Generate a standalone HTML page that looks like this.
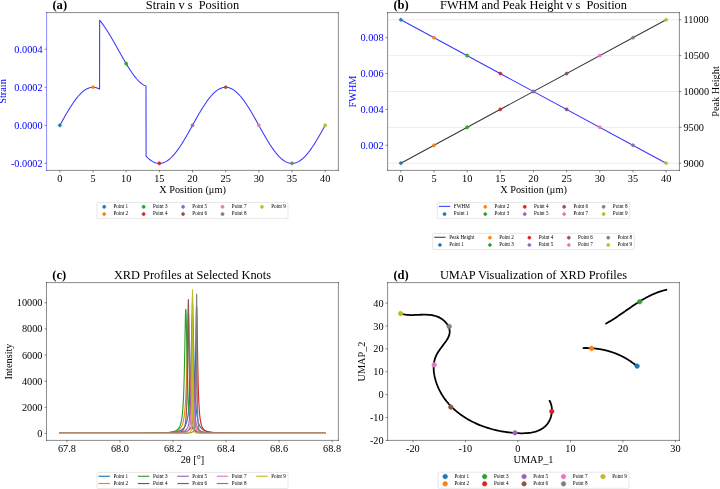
<!DOCTYPE html>
<html><head><meta charset="utf-8"><title>Figure</title>
<style>html,body{margin:0;padding:0;background:#fff;}svg{display:block;}svg text{white-space:pre;}</style>
</head><body>
<svg width="720" height="489" viewBox="0 0 1258.741259 854.895105" version="1.1">
<defs>
<style type="text/css">*{stroke-linejoin: round; stroke-linecap: butt}</style>
</defs>
<g id="figure_1">
<g id="patch_1">
<path d="M 0 854.9 L 1258.74 854.9 L 1258.74 0 L 0 0 z" style="fill: #ffffff"/>
</g>
<g id="axes_1">
<g id="patch_2">
<path d="M 81.47 297.9 L 591.61 297.9 L 591.61 22.03 L 81.47 22.03 z" style="fill: #ffffff"/>
</g>
<g id="matplotlib.axis_1">
<g id="xtick_1">
<g id="line2d_1">
<g>
<path d="M 0 0 L 0 3.5" transform="translate(104.66 297.9)" style="stroke: #000000; stroke-width: 0.8"/>
</g>
</g>
<g id="text_1">
<text style="font-size: 18px; font-family: 'Liberation Serif', serif; text-anchor: middle" x="104.656707" y="317.39241">0</text>
</g>
</g>
<g id="xtick_2">
<g id="line2d_2">
<g>
<path d="M 0 0 L 0 3.5" transform="translate(162.63 297.9)" style="stroke: #000000; stroke-width: 0.8"/>
</g>
</g>
<g id="text_2">
<text style="font-size: 18px; font-family: 'Liberation Serif', serif; text-anchor: middle" x="162.627146" y="317.39241">5</text>
</g>
</g>
<g id="xtick_3">
<g id="line2d_3">
<g>
<path d="M 0 0 L 0 3.5" transform="translate(220.6 297.9)" style="stroke: #000000; stroke-width: 0.8"/>
</g>
</g>
<g id="text_3">
<text style="font-size: 18px; font-family: 'Liberation Serif', serif; text-anchor: middle" x="220.597584" y="317.39241">10</text>
</g>
</g>
<g id="xtick_4">
<g id="line2d_4">
<g>
<path d="M 0 0 L 0 3.5" transform="translate(278.57 297.9)" style="stroke: #000000; stroke-width: 0.8"/>
</g>
</g>
<g id="text_4">
<text style="font-size: 18px; font-family: 'Liberation Serif', serif; text-anchor: middle" x="278.568023" y="317.39241">15</text>
</g>
</g>
<g id="xtick_5">
<g id="line2d_5">
<g>
<path d="M 0 0 L 0 3.5" transform="translate(336.54 297.9)" style="stroke: #000000; stroke-width: 0.8"/>
</g>
</g>
<g id="text_5">
<text style="font-size: 18px; font-family: 'Liberation Serif', serif; text-anchor: middle" x="336.538462" y="317.39241">20</text>
</g>
</g>
<g id="xtick_6">
<g id="line2d_6">
<g>
<path d="M 0 0 L 0 3.5" transform="translate(394.51 297.9)" style="stroke: #000000; stroke-width: 0.8"/>
</g>
</g>
<g id="text_6">
<text style="font-size: 18px; font-family: 'Liberation Serif', serif; text-anchor: middle" x="394.5089" y="317.39241">25</text>
</g>
</g>
<g id="xtick_7">
<g id="line2d_7">
<g>
<path d="M 0 0 L 0 3.5" transform="translate(452.48 297.9)" style="stroke: #000000; stroke-width: 0.8"/>
</g>
</g>
<g id="text_7">
<text style="font-size: 18px; font-family: 'Liberation Serif', serif; text-anchor: middle" x="452.479339" y="317.39241">30</text>
</g>
</g>
<g id="xtick_8">
<g id="line2d_8">
<g>
<path d="M 0 0 L 0 3.5" transform="translate(510.45 297.9)" style="stroke: #000000; stroke-width: 0.8"/>
</g>
</g>
<g id="text_8">
<text style="font-size: 18px; font-family: 'Liberation Serif', serif; text-anchor: middle" x="510.449777" y="317.39241">35</text>
</g>
</g>
<g id="xtick_9">
<g id="line2d_9">
<g>
<path d="M 0 0 L 0 3.5" transform="translate(568.42 297.9)" style="stroke: #000000; stroke-width: 0.8"/>
</g>
</g>
<g id="text_9">
<text style="font-size: 18px; font-family: 'Liberation Serif', serif; text-anchor: middle" x="568.420216" y="317.39241">40</text>
</g>
</g>
<g id="text_10">
<text style="font-size: 18px; font-family: 'Liberation Serif', serif; text-anchor: middle" x="336.538462" y="337.71616">X Position (μm)</text>
</g>
</g>
<g id="matplotlib.axis_2">
<g id="ytick_1">
<g id="line2d_10">
<g>
<path d="M 0 0 L -3.5 0" transform="translate(81.47 285.66)" style="stroke: #000000; stroke-width: 0.8"/>
</g>
</g>
<g id="text_11">
<text style="font-size: 18px; font-family: 'Liberation Serif', serif; text-anchor: end; fill: #0000ff" x="74.468531" y="291.902449">-0.0002</text>
</g>
</g>
<g id="ytick_2">
<g id="line2d_11">
<g>
<path d="M 0 0 L -3.5 0" transform="translate(81.47 219.11)" style="stroke: #000000; stroke-width: 0.8"/>
</g>
</g>
<g id="text_12">
<text style="font-size: 18px; font-family: 'Liberation Serif', serif; text-anchor: end; fill: #0000ff" x="74.468531" y="225.354596">0.0000</text>
</g>
</g>
<g id="ytick_3">
<g id="line2d_12">
<g>
<path d="M 0 0 L -3.5 0" transform="translate(81.47 152.56)" style="stroke: #000000; stroke-width: 0.8"/>
</g>
</g>
<g id="text_13">
<text style="font-size: 18px; font-family: 'Liberation Serif', serif; text-anchor: end; fill: #0000ff" x="74.468531" y="158.806743">0.0002</text>
</g>
</g>
<g id="ytick_4">
<g id="line2d_13">
<g>
<path d="M 0 0 L -3.5 0" transform="translate(81.47 86.01)" style="stroke: #000000; stroke-width: 0.8"/>
</g>
</g>
<g id="text_14">
<text style="font-size: 18px; font-family: 'Liberation Serif', serif; text-anchor: end; fill: #0000ff" x="74.468531" y="92.258889">0.0004</text>
</g>
</g>
<g id="text_15">
<text style="font-size: 18px; font-family: 'Liberation Serif', serif; text-anchor: middle; fill: #0000ff" x="11.141656" y="159.965035" transform="rotate(-90 11.141656 159.965035)">Strain</text>
</g>
</g>
<g id="line2d_14">
<path d="M 104.66 219.11 L 105.82 217.02 L 106.98 214.93 L 108.13 212.85 L 109.29 210.77 L 110.45 208.7 L 111.61 206.64 L 112.77 204.59 L 113.93 202.56 L 115.09 200.54 L 116.25 198.55 L 117.41 196.57 L 118.57 194.61 L 119.73 192.68 L 120.89 190.77 L 122.05 188.9 L 123.21 187.05 L 124.37 185.23 L 125.53 183.45 L 126.69 181.7 L 127.84 179.99 L 129 178.32 L 130.16 176.69 L 131.32 175.1 L 132.48 173.55 L 133.64 172.05 L 134.8 170.6 L 135.96 169.19 L 137.12 167.83 L 138.28 166.53 L 139.44 165.27 L 140.6 164.07 L 141.76 162.92 L 142.92 161.83 L 144.08 160.79 L 145.24 159.81 L 146.4 158.9 L 147.55 158.03 L 148.71 157.23 L 149.87 156.5 L 151.03 155.82 L 152.19 155.2 L 153.35 154.65 L 154.51 154.16 L 155.67 153.74 L 156.83 153.38 L 157.99 153.09 L 159.15 152.86 L 160.31 152.69 L 161.47 152.59 L 162.63 152.56 L 163.79 152.59 L 164.95 152.69 L 166.11 152.86 L 167.26 153.09 L 168.42 153.38 L 169.58 153.74 L 170.74 154.16 L 171.9 154.65 L 173.06 155.2 L 174.11 155.75 L 174.22 35.37 L 175.38 36.81 L 176.54 38.29 L 177.7 39.81 L 178.86 41.36 L 180.02 42.96 L 181.18 44.58 L 182.34 46.25 L 183.5 47.94 L 184.66 49.67 L 185.82 51.43 L 186.97 53.22 L 188.13 55.04 L 189.29 56.88 L 190.45 58.75 L 191.61 60.65 L 192.77 62.57 L 193.93 64.52 L 195.09 66.48 L 196.25 68.46 L 197.41 70.46 L 198.57 72.47 L 199.73 74.5 L 200.89 76.54 L 202.05 78.6 L 203.21 80.66 L 204.37 82.72 L 205.53 84.8 L 206.68 86.87 L 207.84 88.95 L 209 91.02 L 210.16 93.1 L 211.32 95.16 L 212.48 97.23 L 213.64 99.28 L 214.8 101.32 L 215.96 103.35 L 217.12 105.37 L 218.28 107.36 L 219.44 109.34 L 220.6 111.3 L 221.76 113.24 L 222.92 115.15 L 224.08 117.03 L 225.24 118.89 L 226.39 120.71 L 227.55 122.5 L 228.71 124.25 L 229.87 125.97 L 231.03 127.65 L 232.19 129.28 L 233.35 130.88 L 234.51 132.42 L 235.67 133.93 L 236.83 135.38 L 237.99 136.78 L 239.15 138.13 L 240.31 139.42 L 241.47 140.66 L 242.63 141.84 L 243.79 142.96 L 244.95 144.01 L 246.1 145.01 L 247.26 145.94 L 248.42 146.8 L 249.58 147.59 L 250.74 148.32 L 251.9 148.97 L 253.06 149.56 L 254.22 150.07 L 255.26 150.46 L 255.38 272.95 L 256.54 274.15 L 257.7 275.3 L 258.86 276.39 L 260.02 277.43 L 261.18 278.4 L 262.34 279.32 L 263.5 280.18 L 264.66 280.98 L 265.81 281.72 L 266.97 282.4 L 268.13 283.01 L 269.29 283.57 L 270.45 284.05 L 271.61 284.48 L 272.77 284.84 L 273.93 285.13 L 275.09 285.36 L 276.25 285.53 L 277.41 285.62 L 278.57 285.66 L 279.73 285.62 L 280.89 285.53 L 282.05 285.36 L 283.21 285.13 L 284.37 284.84 L 285.52 284.48 L 286.68 284.05 L 287.84 283.57 L 289 283.01 L 290.16 282.4 L 291.32 281.72 L 292.48 280.98 L 293.64 280.18 L 294.8 279.32 L 295.96 278.4 L 297.12 277.43 L 298.28 276.39 L 299.44 275.3 L 300.6 274.15 L 301.76 272.95 L 302.92 271.69 L 304.08 270.39 L 305.23 269.03 L 306.39 267.62 L 307.55 266.17 L 308.71 264.66 L 309.87 263.12 L 311.03 261.53 L 312.19 259.9 L 313.35 258.23 L 314.51 256.51 L 315.67 254.77 L 316.83 252.99 L 317.99 251.17 L 319.15 249.32 L 320.31 247.44 L 321.47 245.54 L 322.63 243.61 L 323.78 241.65 L 324.94 239.67 L 326.1 237.68 L 327.26 235.66 L 328.42 233.63 L 329.58 231.58 L 330.74 229.52 L 331.9 227.45 L 333.06 225.37 L 334.22 223.29 L 335.38 221.2 L 336.54 219.11 L 337.7 217.02 L 338.86 214.93 L 340.02 212.85 L 341.18 210.77 L 342.34 208.7 L 343.49 206.64 L 344.65 204.59 L 345.81 202.56 L 346.97 200.54 L 348.13 198.55 L 349.29 196.57 L 350.45 194.61 L 351.61 192.68 L 352.77 190.77 L 353.93 188.9 L 355.09 187.05 L 356.25 185.23 L 357.41 183.45 L 358.57 181.7 L 359.73 179.99 L 360.89 178.32 L 362.05 176.69 L 363.2 175.1 L 364.36 173.55 L 365.52 172.05 L 366.68 170.6 L 367.84 169.19 L 369 167.83 L 370.16 166.53 L 371.32 165.27 L 372.48 164.07 L 373.64 162.92 L 374.8 161.83 L 375.96 160.79 L 377.12 159.81 L 378.28 158.9 L 379.44 158.03 L 380.6 157.23 L 381.76 156.5 L 382.91 155.82 L 384.07 155.2 L 385.23 154.65 L 386.39 154.16 L 387.55 153.74 L 388.71 153.38 L 389.87 153.09 L 391.03 152.86 L 392.19 152.69 L 393.35 152.59 L 394.51 152.56 L 395.67 152.59 L 396.83 152.69 L 397.99 152.86 L 399.15 153.09 L 400.31 153.38 L 401.47 153.74 L 402.62 154.16 L 403.78 154.65 L 404.94 155.2 L 406.1 155.82 L 407.26 156.5 L 408.42 157.23 L 409.58 158.03 L 410.74 158.9 L 411.9 159.81 L 413.06 160.79 L 414.22 161.83 L 415.38 162.92 L 416.54 164.07 L 417.7 165.27 L 418.86 166.53 L 420.02 167.83 L 421.18 169.19 L 422.33 170.6 L 423.49 172.05 L 424.65 173.55 L 425.81 175.1 L 426.97 176.69 L 428.13 178.32 L 429.29 179.99 L 430.45 181.7 L 431.61 183.45 L 432.77 185.23 L 433.93 187.05 L 435.09 188.9 L 436.25 190.77 L 437.41 192.68 L 438.57 194.61 L 439.73 196.57 L 440.89 198.55 L 442.04 200.54 L 443.2 202.56 L 444.36 204.59 L 445.52 206.64 L 446.68 208.7 L 447.84 210.77 L 449 212.85 L 450.16 214.93 L 451.32 217.02 L 452.48 219.11 L 453.64 221.2 L 454.8 223.29 L 455.96 225.37 L 457.12 227.45 L 458.28 229.52 L 459.44 231.58 L 460.6 233.63 L 461.75 235.66 L 462.91 237.68 L 464.07 239.67 L 465.23 241.65 L 466.39 243.61 L 467.55 245.54 L 468.71 247.44 L 469.87 249.32 L 471.03 251.17 L 472.19 252.99 L 473.35 254.77 L 474.51 256.51 L 475.67 258.23 L 476.83 259.9 L 477.99 261.53 L 479.15 263.12 L 480.31 264.66 L 481.46 266.17 L 482.62 267.62 L 483.78 269.03 L 484.94 270.39 L 486.1 271.69 L 487.26 272.95 L 488.42 274.15 L 489.58 275.3 L 490.74 276.39 L 491.9 277.43 L 493.06 278.4 L 494.22 279.32 L 495.38 280.18 L 496.54 280.98 L 497.7 281.72 L 498.86 282.4 L 500.02 283.01 L 501.17 283.57 L 502.33 284.05 L 503.49 284.48 L 504.65 284.84 L 505.81 285.13 L 506.97 285.36 L 508.13 285.53 L 509.29 285.62 L 510.45 285.66 L 511.61 285.62 L 512.77 285.53 L 513.93 285.36 L 515.09 285.13 L 516.25 284.84 L 517.41 284.48 L 518.57 284.05 L 519.73 283.57 L 520.88 283.01 L 522.04 282.4 L 523.2 281.72 L 524.36 280.98 L 525.52 280.18 L 526.68 279.32 L 527.84 278.4 L 529 277.43 L 530.16 276.39 L 531.32 275.3 L 532.48 274.15 L 533.64 272.95 L 534.8 271.69 L 535.96 270.39 L 537.12 269.03 L 538.28 267.62 L 539.43 266.17 L 540.59 264.66 L 541.75 263.12 L 542.91 261.53 L 544.07 259.9 L 545.23 258.23 L 546.39 256.51 L 547.55 254.77 L 548.71 252.99 L 549.87 251.17 L 551.03 249.32 L 552.19 247.44 L 553.35 245.54 L 554.51 243.61 L 555.67 241.65 L 556.83 239.67 L 557.99 237.68 L 559.14 235.66 L 560.3 233.63 L 561.46 231.58 L 562.62 229.52 L 563.78 227.45 L 564.94 225.37 L 566.1 223.29 L 567.26 221.2 L 568.42 219.11" clip-path="url(#p4cad505ffa)" style="fill: none; stroke: #0000ff; stroke-opacity: 0.8; stroke-width: 1.8; stroke-linecap: square"/>
</g>
<g id="patch_3">
<path d="M 81.47 297.9 L 81.47 22.03" style="fill: none; stroke: #0000ff; stroke-width: 0.8; stroke-linejoin: miter; stroke-linecap: square"/>
</g>
<g id="patch_4">
<path d="M 591.61 297.9 L 591.61 22.03" style="fill: none; stroke: #000000; stroke-width: 0.8; stroke-linejoin: miter; stroke-linecap: square"/>
</g>
<g id="patch_5">
<path d="M 81.47 297.9 L 591.61 297.9" style="fill: none; stroke: #000000; stroke-width: 0.8; stroke-linejoin: miter; stroke-linecap: square"/>
</g>
<g id="patch_6">
<path d="M 81.47 22.03 L 591.61 22.03" style="fill: none; stroke: #000000; stroke-width: 0.8; stroke-linejoin: miter; stroke-linecap: square"/>
</g>
<g id="PathCollection_1">
<g clip-path="url(#p4cad505ffa)">
<path d="M 0 2.74 C 0.73 2.74 1.42 2.45 1.94 1.94 C 2.45 1.42 2.74 0.73 2.74 0 C 2.74 -0.73 2.45 -1.42 1.94 -1.94 C 1.42 -2.45 0.73 -2.74 0 -2.74 C -0.73 -2.74 -1.42 -2.45 -1.94 -1.94 C -2.45 -1.42 -2.74 -0.73 -2.74 0 C -2.74 0.73 -2.45 1.42 -1.94 1.94 C -1.42 2.45 -0.73 2.74 0 2.74 z" transform="translate(104.66 219.11)" style="fill: #1f77b4; stroke: #1f77b4"/>
</g>
</g>
<g id="PathCollection_2">
<g clip-path="url(#p4cad505ffa)">
<path d="M 0 2.74 C 0.73 2.74 1.42 2.45 1.94 1.94 C 2.45 1.42 2.74 0.73 2.74 0 C 2.74 -0.73 2.45 -1.42 1.94 -1.94 C 1.42 -2.45 0.73 -2.74 0 -2.74 C -0.73 -2.74 -1.42 -2.45 -1.94 -1.94 C -2.45 -1.42 -2.74 -0.73 -2.74 0 C -2.74 0.73 -2.45 1.42 -1.94 1.94 C -1.42 2.45 -0.73 2.74 0 2.74 z" transform="translate(162.63 152.56)" style="fill: #ff7f0e; stroke: #ff7f0e"/>
</g>
</g>
<g id="PathCollection_3">
<g clip-path="url(#p4cad505ffa)">
<path d="M 0 2.74 C 0.73 2.74 1.42 2.45 1.94 1.94 C 2.45 1.42 2.74 0.73 2.74 0 C 2.74 -0.73 2.45 -1.42 1.94 -1.94 C 1.42 -2.45 0.73 -2.74 0 -2.74 C -0.73 -2.74 -1.42 -2.45 -1.94 -1.94 C -2.45 -1.42 -2.74 -0.73 -2.74 0 C -2.74 0.73 -2.45 1.42 -1.94 1.94 C -1.42 2.45 -0.73 2.74 0 2.74 z" transform="translate(220.6 111.3)" style="fill: #2ca02c; stroke: #2ca02c"/>
</g>
</g>
<g id="PathCollection_4">
<g clip-path="url(#p4cad505ffa)">
<path d="M 0 2.74 C 0.73 2.74 1.42 2.45 1.94 1.94 C 2.45 1.42 2.74 0.73 2.74 0 C 2.74 -0.73 2.45 -1.42 1.94 -1.94 C 1.42 -2.45 0.73 -2.74 0 -2.74 C -0.73 -2.74 -1.42 -2.45 -1.94 -1.94 C -2.45 -1.42 -2.74 -0.73 -2.74 0 C -2.74 0.73 -2.45 1.42 -1.94 1.94 C -1.42 2.45 -0.73 2.74 0 2.74 z" transform="translate(278.57 285.66)" style="fill: #d62728; stroke: #d62728"/>
</g>
</g>
<g id="PathCollection_5">
<g clip-path="url(#p4cad505ffa)">
<path d="M 0 2.74 C 0.73 2.74 1.42 2.45 1.94 1.94 C 2.45 1.42 2.74 0.73 2.74 0 C 2.74 -0.73 2.45 -1.42 1.94 -1.94 C 1.42 -2.45 0.73 -2.74 0 -2.74 C -0.73 -2.74 -1.42 -2.45 -1.94 -1.94 C -2.45 -1.42 -2.74 -0.73 -2.74 0 C -2.74 0.73 -2.45 1.42 -1.94 1.94 C -1.42 2.45 -0.73 2.74 0 2.74 z" transform="translate(336.54 219.11)" style="fill: #9467bd; stroke: #9467bd"/>
</g>
</g>
<g id="PathCollection_6">
<g clip-path="url(#p4cad505ffa)">
<path d="M 0 2.74 C 0.73 2.74 1.42 2.45 1.94 1.94 C 2.45 1.42 2.74 0.73 2.74 0 C 2.74 -0.73 2.45 -1.42 1.94 -1.94 C 1.42 -2.45 0.73 -2.74 0 -2.74 C -0.73 -2.74 -1.42 -2.45 -1.94 -1.94 C -2.45 -1.42 -2.74 -0.73 -2.74 0 C -2.74 0.73 -2.45 1.42 -1.94 1.94 C -1.42 2.45 -0.73 2.74 0 2.74 z" transform="translate(394.51 152.56)" style="fill: #8c564b; stroke: #8c564b"/>
</g>
</g>
<g id="PathCollection_7">
<g clip-path="url(#p4cad505ffa)">
<path d="M 0 2.74 C 0.73 2.74 1.42 2.45 1.94 1.94 C 2.45 1.42 2.74 0.73 2.74 0 C 2.74 -0.73 2.45 -1.42 1.94 -1.94 C 1.42 -2.45 0.73 -2.74 0 -2.74 C -0.73 -2.74 -1.42 -2.45 -1.94 -1.94 C -2.45 -1.42 -2.74 -0.73 -2.74 0 C -2.74 0.73 -2.45 1.42 -1.94 1.94 C -1.42 2.45 -0.73 2.74 0 2.74 z" transform="translate(452.48 219.11)" style="fill: #e377c2; stroke: #e377c2"/>
</g>
</g>
<g id="PathCollection_8">
<g clip-path="url(#p4cad505ffa)">
<path d="M 0 2.74 C 0.73 2.74 1.42 2.45 1.94 1.94 C 2.45 1.42 2.74 0.73 2.74 0 C 2.74 -0.73 2.45 -1.42 1.94 -1.94 C 1.42 -2.45 0.73 -2.74 0 -2.74 C -0.73 -2.74 -1.42 -2.45 -1.94 -1.94 C -2.45 -1.42 -2.74 -0.73 -2.74 0 C -2.74 0.73 -2.45 1.42 -1.94 1.94 C -1.42 2.45 -0.73 2.74 0 2.74 z" transform="translate(510.45 285.66)" style="fill: #7f7f7f; stroke: #7f7f7f"/>
</g>
</g>
<g id="PathCollection_9">
<g clip-path="url(#p4cad505ffa)">
<path d="M 0 2.74 C 0.73 2.74 1.42 2.45 1.94 1.94 C 2.45 1.42 2.74 0.73 2.74 0 C 2.74 -0.73 2.45 -1.42 1.94 -1.94 C 1.42 -2.45 0.73 -2.74 0 -2.74 C -0.73 -2.74 -1.42 -2.45 -1.94 -1.94 C -2.45 -1.42 -2.74 -0.73 -2.74 0 C -2.74 0.73 -2.45 1.42 -1.94 1.94 C -1.42 2.45 -0.73 2.74 0 2.74 z" transform="translate(568.42 219.11)" style="fill: #bcbd22; stroke: #bcbd22"/>
</g>
</g>
<g id="text_16">
<text style="font-weight: 700; font-size: 22px; font-family: 'Liberation Serif', serif; text-anchor: start" x="91.671329" y="16.51049">(a)</text>
</g>
<g id="text_17">
<text style="font-size: 21.6px; font-family: 'Liberation Serif', serif; text-anchor: middle" x="336.538462" y="16.027972">Strain v s  Position</text>
</g>
<g id="legend_1">
<g id="patch_7">
<path d="M 171.35 382.15 L 501.73 382.15 Q 503.53 382.15 503.53 380.35 L 503.53 355.82 Q 503.53 354.02 501.73 354.02 L 171.35 354.02 Q 169.55 354.02 169.55 355.82 L 169.55 380.35 Q 169.55 382.15 171.35 382.15 z" style="fill: #ffffff; opacity: 0.8; stroke: #cccccc; stroke-linejoin: miter"/>
</g>
<g id="PathCollection_10">
<g>
<path d="M 0 2.74 C 0.73 2.74 1.42 2.45 1.94 1.94 C 2.45 1.42 2.74 0.73 2.74 0 C 2.74 -0.73 2.45 -1.42 1.94 -1.94 C 1.42 -2.45 0.73 -2.74 0 -2.74 C -0.73 -2.74 -1.42 -2.45 -1.94 -1.94 C -2.45 -1.42 -2.74 -0.73 -2.74 0 C -2.74 0.73 -2.45 1.42 -1.94 1.94 C -1.42 2.45 -0.73 2.74 0 2.74 z" transform="translate(182.15 361.56)" style="fill: #1f77b4; stroke: #1f77b4"/>
</g>
</g>
<g id="text_18">
<text style="font-size: 9px; font-family: 'Liberation Serif', serif; text-anchor: start" x="198.34979" y="363.920979">Point 1</text>
</g>
<g id="PathCollection_11">
<g>
<path d="M 0 2.74 C 0.73 2.74 1.42 2.45 1.94 1.94 C 2.45 1.42 2.74 0.73 2.74 0 C 2.74 -0.73 2.45 -1.42 1.94 -1.94 C 1.42 -2.45 0.73 -2.74 0 -2.74 C -0.73 -2.74 -1.42 -2.45 -1.94 -1.94 C -2.45 -1.42 -2.74 -0.73 -2.74 0 C -2.74 0.73 -2.45 1.42 -1.94 1.94 C -1.42 2.45 -0.73 2.74 0 2.74 z" transform="translate(182.15 374.28)" style="fill: #ff7f0e; stroke: #ff7f0e"/>
</g>
</g>
<g id="text_19">
<text style="font-size: 9px; font-family: 'Liberation Serif', serif; text-anchor: start" x="198.34979" y="376.637698">Point 2</text>
</g>
<g id="PathCollection_12">
<g>
<path d="M 0 2.74 C 0.73 2.74 1.42 2.45 1.94 1.94 C 2.45 1.42 2.74 0.73 2.74 0 C 2.74 -0.73 2.45 -1.42 1.94 -1.94 C 1.42 -2.45 0.73 -2.74 0 -2.74 C -0.73 -2.74 -1.42 -2.45 -1.94 -1.94 C -2.45 -1.42 -2.74 -0.73 -2.74 0 C -2.74 0.73 -2.45 1.42 -1.94 1.94 C -1.42 2.45 -0.73 2.74 0 2.74 z" transform="translate(251.11 361.56)" style="fill: #2ca02c; stroke: #2ca02c"/>
</g>
</g>
<g id="text_20">
<text style="font-size: 9px; font-family: 'Liberation Serif', serif; text-anchor: start" x="267.305258" y="363.920979">Point 3</text>
</g>
<g id="PathCollection_13">
<g>
<path d="M 0 2.74 C 0.73 2.74 1.42 2.45 1.94 1.94 C 2.45 1.42 2.74 0.73 2.74 0 C 2.74 -0.73 2.45 -1.42 1.94 -1.94 C 1.42 -2.45 0.73 -2.74 0 -2.74 C -0.73 -2.74 -1.42 -2.45 -1.94 -1.94 C -2.45 -1.42 -2.74 -0.73 -2.74 0 C -2.74 0.73 -2.45 1.42 -1.94 1.94 C -1.42 2.45 -0.73 2.74 0 2.74 z" transform="translate(251.11 374.28)" style="fill: #d62728; stroke: #d62728"/>
</g>
</g>
<g id="text_21">
<text style="font-size: 9px; font-family: 'Liberation Serif', serif; text-anchor: start" x="267.305258" y="376.637698">Point 4</text>
</g>
<g id="PathCollection_14">
<g>
<path d="M 0 2.74 C 0.73 2.74 1.42 2.45 1.94 1.94 C 2.45 1.42 2.74 0.73 2.74 0 C 2.74 -0.73 2.45 -1.42 1.94 -1.94 C 1.42 -2.45 0.73 -2.74 0 -2.74 C -0.73 -2.74 -1.42 -2.45 -1.94 -1.94 C -2.45 -1.42 -2.74 -0.73 -2.74 0 C -2.74 0.73 -2.45 1.42 -1.94 1.94 C -1.42 2.45 -0.73 2.74 0 2.74 z" transform="translate(320.06 361.56)" style="fill: #9467bd; stroke: #9467bd"/>
</g>
</g>
<g id="text_22">
<text style="font-size: 9px; font-family: 'Liberation Serif', serif; text-anchor: start" x="336.260727" y="363.920979">Point 5</text>
</g>
<g id="PathCollection_15">
<g>
<path d="M 0 2.74 C 0.73 2.74 1.42 2.45 1.94 1.94 C 2.45 1.42 2.74 0.73 2.74 0 C 2.74 -0.73 2.45 -1.42 1.94 -1.94 C 1.42 -2.45 0.73 -2.74 0 -2.74 C -0.73 -2.74 -1.42 -2.45 -1.94 -1.94 C -2.45 -1.42 -2.74 -0.73 -2.74 0 C -2.74 0.73 -2.45 1.42 -1.94 1.94 C -1.42 2.45 -0.73 2.74 0 2.74 z" transform="translate(320.06 374.28)" style="fill: #8c564b; stroke: #8c564b"/>
</g>
</g>
<g id="text_23">
<text style="font-size: 9px; font-family: 'Liberation Serif', serif; text-anchor: start" x="336.260727" y="376.637698">Point 6</text>
</g>
<g id="PathCollection_16">
<g>
<path d="M 0 2.74 C 0.73 2.74 1.42 2.45 1.94 1.94 C 2.45 1.42 2.74 0.73 2.74 0 C 2.74 -0.73 2.45 -1.42 1.94 -1.94 C 1.42 -2.45 0.73 -2.74 0 -2.74 C -0.73 -2.74 -1.42 -2.45 -1.94 -1.94 C -2.45 -1.42 -2.74 -0.73 -2.74 0 C -2.74 0.73 -2.45 1.42 -1.94 1.94 C -1.42 2.45 -0.73 2.74 0 2.74 z" transform="translate(389.02 361.56)" style="fill: #e377c2; stroke: #e377c2"/>
</g>
</g>
<g id="text_24">
<text style="font-size: 9px; font-family: 'Liberation Serif', serif; text-anchor: start" x="405.216196" y="363.920979">Point 7</text>
</g>
<g id="PathCollection_17">
<g>
<path d="M 0 2.74 C 0.73 2.74 1.42 2.45 1.94 1.94 C 2.45 1.42 2.74 0.73 2.74 0 C 2.74 -0.73 2.45 -1.42 1.94 -1.94 C 1.42 -2.45 0.73 -2.74 0 -2.74 C -0.73 -2.74 -1.42 -2.45 -1.94 -1.94 C -2.45 -1.42 -2.74 -0.73 -2.74 0 C -2.74 0.73 -2.45 1.42 -1.94 1.94 C -1.42 2.45 -0.73 2.74 0 2.74 z" transform="translate(389.02 374.28)" style="fill: #7f7f7f; stroke: #7f7f7f"/>
</g>
</g>
<g id="text_25">
<text style="font-size: 9px; font-family: 'Liberation Serif', serif; text-anchor: start" x="405.216196" y="376.637698">Point 8</text>
</g>
<g id="PathCollection_18">
<g>
<path d="M 0 2.74 C 0.73 2.74 1.42 2.45 1.94 1.94 C 2.45 1.42 2.74 0.73 2.74 0 C 2.74 -0.73 2.45 -1.42 1.94 -1.94 C 1.42 -2.45 0.73 -2.74 0 -2.74 C -0.73 -2.74 -1.42 -2.45 -1.94 -1.94 C -2.45 -1.42 -2.74 -0.73 -2.74 0 C -2.74 0.73 -2.45 1.42 -1.94 1.94 C -1.42 2.45 -0.73 2.74 0 2.74 z" transform="translate(457.97 361.56)" style="fill: #bcbd22; stroke: #bcbd22"/>
</g>
</g>
<g id="text_26">
<text style="font-size: 9px; font-family: 'Liberation Serif', serif; text-anchor: start" x="474.171665" y="363.920979">Point 9</text>
</g>
</g>
</g>
<g id="axes_2">
<g id="patch_8">
<path d="M 677.62 297.9 L 1187.76 297.9 L 1187.76 22.03 L 677.62 22.03 z" style="fill: #ffffff"/>
</g>
<g id="matplotlib.axis_3">
<g id="xtick_10">
<g id="line2d_15">
<g>
<path d="M 0 0 L 0 3.5" transform="translate(700.81 297.9)" style="stroke: #000000; stroke-width: 0.8"/>
</g>
</g>
<g id="text_27">
<text style="font-size: 18px; font-family: 'Liberation Serif', serif; text-anchor: middle" x="700.810553" y="317.39241">0</text>
</g>
</g>
<g id="xtick_11">
<g id="line2d_16">
<g>
<path d="M 0 0 L 0 3.5" transform="translate(758.78 297.9)" style="stroke: #000000; stroke-width: 0.8"/>
</g>
</g>
<g id="text_28">
<text style="font-size: 18px; font-family: 'Liberation Serif', serif; text-anchor: middle" x="758.780992" y="317.39241">5</text>
</g>
</g>
<g id="xtick_12">
<g id="line2d_17">
<g>
<path d="M 0 0 L 0 3.5" transform="translate(816.75 297.9)" style="stroke: #000000; stroke-width: 0.8"/>
</g>
</g>
<g id="text_29">
<text style="font-size: 18px; font-family: 'Liberation Serif', serif; text-anchor: middle" x="816.75143" y="317.39241">10</text>
</g>
</g>
<g id="xtick_13">
<g id="line2d_18">
<g>
<path d="M 0 0 L 0 3.5" transform="translate(874.72 297.9)" style="stroke: #000000; stroke-width: 0.8"/>
</g>
</g>
<g id="text_30">
<text style="font-size: 18px; font-family: 'Liberation Serif', serif; text-anchor: middle" x="874.721869" y="317.39241">15</text>
</g>
</g>
<g id="xtick_14">
<g id="line2d_19">
<g>
<path d="M 0 0 L 0 3.5" transform="translate(932.69 297.9)" style="stroke: #000000; stroke-width: 0.8"/>
</g>
</g>
<g id="text_31">
<text style="font-size: 18px; font-family: 'Liberation Serif', serif; text-anchor: middle" x="932.692308" y="317.39241">20</text>
</g>
</g>
<g id="xtick_15">
<g id="line2d_20">
<g>
<path d="M 0 0 L 0 3.5" transform="translate(990.66 297.9)" style="stroke: #000000; stroke-width: 0.8"/>
</g>
</g>
<g id="text_32">
<text style="font-size: 18px; font-family: 'Liberation Serif', serif; text-anchor: middle" x="990.662746" y="317.39241">25</text>
</g>
</g>
<g id="xtick_16">
<g id="line2d_21">
<g>
<path d="M 0 0 L 0 3.5" transform="translate(1048.63 297.9)" style="stroke: #000000; stroke-width: 0.8"/>
</g>
</g>
<g id="text_33">
<text style="font-size: 18px; font-family: 'Liberation Serif', serif; text-anchor: middle" x="1048.633185" y="317.39241">30</text>
</g>
</g>
<g id="xtick_17">
<g id="line2d_22">
<g>
<path d="M 0 0 L 0 3.5" transform="translate(1106.6 297.9)" style="stroke: #000000; stroke-width: 0.8"/>
</g>
</g>
<g id="text_34">
<text style="font-size: 18px; font-family: 'Liberation Serif', serif; text-anchor: middle" x="1106.603624" y="317.39241">35</text>
</g>
</g>
<g id="xtick_18">
<g id="line2d_23">
<g>
<path d="M 0 0 L 0 3.5" transform="translate(1164.57 297.9)" style="stroke: #000000; stroke-width: 0.8"/>
</g>
</g>
<g id="text_35">
<text style="font-size: 18px; font-family: 'Liberation Serif', serif; text-anchor: middle" x="1164.574062" y="317.39241">40</text>
</g>
</g>
<g id="text_36">
<text style="font-size: 18px; font-family: 'Liberation Serif', serif; text-anchor: middle" x="932.692308" y="337.71616">X Position (μm)</text>
</g>
</g>
<g id="matplotlib.axis_4">
<g id="ytick_5">
<g id="line2d_24">
<g>
<path d="M 0 0 L -3.5 0" transform="translate(677.62 254.01)" style="stroke: #000000; stroke-width: 0.8"/>
</g>
</g>
<g id="text_37">
<text style="font-size: 18px; font-family: 'Liberation Serif', serif; text-anchor: end; fill: #0000ff" x="670.622378" y="260.258189">0.002</text>
</g>
</g>
<g id="ytick_6">
<g id="line2d_25">
<g>
<path d="M 0 0 L -3.5 0" transform="translate(677.62 191.31)" style="stroke: #000000; stroke-width: 0.8"/>
</g>
</g>
<g id="text_38">
<text style="font-size: 18px; font-family: 'Liberation Serif', serif; text-anchor: end; fill: #0000ff" x="670.622378" y="197.559524">0.004</text>
</g>
</g>
<g id="ytick_7">
<g id="line2d_26">
<g>
<path d="M 0 0 L -3.5 0" transform="translate(677.62 128.62)" style="stroke: #000000; stroke-width: 0.8"/>
</g>
</g>
<g id="text_39">
<text style="font-size: 18px; font-family: 'Liberation Serif', serif; text-anchor: end; fill: #0000ff" x="670.622378" y="134.860859">0.006</text>
</g>
</g>
<g id="ytick_8">
<g id="line2d_27">
<g>
<path d="M 0 0 L -3.5 0" transform="translate(677.62 65.92)" style="stroke: #000000; stroke-width: 0.8"/>
</g>
</g>
<g id="text_40">
<text style="font-size: 18px; font-family: 'Liberation Serif', serif; text-anchor: end; fill: #0000ff" x="670.622378" y="72.162194">0.008</text>
</g>
</g>
<g id="text_41">
<text style="font-size: 18px; font-family: 'Liberation Serif', serif; text-anchor: middle; fill: #0000ff" x="622.28894" y="159.965035" transform="rotate(-90 622.28894 159.965035)">FWHM</text>
</g>
</g>
<g id="line2d_28">
<path d="M 700.81 34.57 L 1164.57 285.36" clip-path="url(#p308d102372)" style="fill: none; stroke: #0000ff; stroke-opacity: 0.8; stroke-width: 1.8; stroke-linecap: square"/>
</g>
<g id="patch_9">
<path d="M 677.62 297.9 L 677.62 22.03" style="fill: none; stroke: #000000; stroke-width: 0.8; stroke-linejoin: miter; stroke-linecap: square"/>
</g>
<g id="patch_10">
<path d="M 677.62 297.9 L 1187.76 297.9" style="fill: none; stroke: #000000; stroke-width: 0.8; stroke-linejoin: miter; stroke-linecap: square"/>
</g>
<g id="patch_11">
<path d="M 677.62 22.03 L 1187.76 22.03" style="fill: none; stroke: #000000; stroke-width: 0.8; stroke-linejoin: miter; stroke-linecap: square"/>
</g>
<g id="PathCollection_19">
<g clip-path="url(#p308d102372)">
<path d="M 0 2.74 C 0.73 2.74 1.42 2.45 1.94 1.94 C 2.45 1.42 2.74 0.73 2.74 0 C 2.74 -0.73 2.45 -1.42 1.94 -1.94 C 1.42 -2.45 0.73 -2.74 0 -2.74 C -0.73 -2.74 -1.42 -2.45 -1.94 -1.94 C -2.45 -1.42 -2.74 -0.73 -2.74 0 C -2.74 0.73 -2.45 1.42 -1.94 1.94 C -1.42 2.45 -0.73 2.74 0 2.74 z" transform="translate(700.81 34.57)" style="fill: #1f77b4; stroke: #1f77b4"/>
</g>
</g>
<g id="PathCollection_20">
<g clip-path="url(#p308d102372)">
<path d="M 0 2.74 C 0.73 2.74 1.42 2.45 1.94 1.94 C 2.45 1.42 2.74 0.73 2.74 0 C 2.74 -0.73 2.45 -1.42 1.94 -1.94 C 1.42 -2.45 0.73 -2.74 0 -2.74 C -0.73 -2.74 -1.42 -2.45 -1.94 -1.94 C -2.45 -1.42 -2.74 -0.73 -2.74 0 C -2.74 0.73 -2.45 1.42 -1.94 1.94 C -1.42 2.45 -0.73 2.74 0 2.74 z" transform="translate(758.78 65.92)" style="fill: #ff7f0e; stroke: #ff7f0e"/>
</g>
</g>
<g id="PathCollection_21">
<g clip-path="url(#p308d102372)">
<path d="M 0 2.74 C 0.73 2.74 1.42 2.45 1.94 1.94 C 2.45 1.42 2.74 0.73 2.74 0 C 2.74 -0.73 2.45 -1.42 1.94 -1.94 C 1.42 -2.45 0.73 -2.74 0 -2.74 C -0.73 -2.74 -1.42 -2.45 -1.94 -1.94 C -2.45 -1.42 -2.74 -0.73 -2.74 0 C -2.74 0.73 -2.45 1.42 -1.94 1.94 C -1.42 2.45 -0.73 2.74 0 2.74 z" transform="translate(816.75 97.27)" style="fill: #2ca02c; stroke: #2ca02c"/>
</g>
</g>
<g id="PathCollection_22">
<g clip-path="url(#p308d102372)">
<path d="M 0 2.74 C 0.73 2.74 1.42 2.45 1.94 1.94 C 2.45 1.42 2.74 0.73 2.74 0 C 2.74 -0.73 2.45 -1.42 1.94 -1.94 C 1.42 -2.45 0.73 -2.74 0 -2.74 C -0.73 -2.74 -1.42 -2.45 -1.94 -1.94 C -2.45 -1.42 -2.74 -0.73 -2.74 0 C -2.74 0.73 -2.45 1.42 -1.94 1.94 C -1.42 2.45 -0.73 2.74 0 2.74 z" transform="translate(874.72 128.62)" style="fill: #d62728; stroke: #d62728"/>
</g>
</g>
<g id="PathCollection_23">
<g clip-path="url(#p308d102372)">
<path d="M 0 2.74 C 0.73 2.74 1.42 2.45 1.94 1.94 C 2.45 1.42 2.74 0.73 2.74 0 C 2.74 -0.73 2.45 -1.42 1.94 -1.94 C 1.42 -2.45 0.73 -2.74 0 -2.74 C -0.73 -2.74 -1.42 -2.45 -1.94 -1.94 C -2.45 -1.42 -2.74 -0.73 -2.74 0 C -2.74 0.73 -2.45 1.42 -1.94 1.94 C -1.42 2.45 -0.73 2.74 0 2.74 z" transform="translate(932.69 159.97)" style="fill: #9467bd; stroke: #9467bd"/>
</g>
</g>
<g id="PathCollection_24">
<g clip-path="url(#p308d102372)">
<path d="M 0 2.74 C 0.73 2.74 1.42 2.45 1.94 1.94 C 2.45 1.42 2.74 0.73 2.74 0 C 2.74 -0.73 2.45 -1.42 1.94 -1.94 C 1.42 -2.45 0.73 -2.74 0 -2.74 C -0.73 -2.74 -1.42 -2.45 -1.94 -1.94 C -2.45 -1.42 -2.74 -0.73 -2.74 0 C -2.74 0.73 -2.45 1.42 -1.94 1.94 C -1.42 2.45 -0.73 2.74 0 2.74 z" transform="translate(990.66 191.31)" style="fill: #8c564b; stroke: #8c564b"/>
</g>
</g>
<g id="PathCollection_25">
<g clip-path="url(#p308d102372)">
<path d="M 0 2.74 C 0.73 2.74 1.42 2.45 1.94 1.94 C 2.45 1.42 2.74 0.73 2.74 0 C 2.74 -0.73 2.45 -1.42 1.94 -1.94 C 1.42 -2.45 0.73 -2.74 0 -2.74 C -0.73 -2.74 -1.42 -2.45 -1.94 -1.94 C -2.45 -1.42 -2.74 -0.73 -2.74 0 C -2.74 0.73 -2.45 1.42 -1.94 1.94 C -1.42 2.45 -0.73 2.74 0 2.74 z" transform="translate(1048.63 222.66)" style="fill: #e377c2; stroke: #e377c2"/>
</g>
</g>
<g id="PathCollection_26">
<g clip-path="url(#p308d102372)">
<path d="M 0 2.74 C 0.73 2.74 1.42 2.45 1.94 1.94 C 2.45 1.42 2.74 0.73 2.74 0 C 2.74 -0.73 2.45 -1.42 1.94 -1.94 C 1.42 -2.45 0.73 -2.74 0 -2.74 C -0.73 -2.74 -1.42 -2.45 -1.94 -1.94 C -2.45 -1.42 -2.74 -0.73 -2.74 0 C -2.74 0.73 -2.45 1.42 -1.94 1.94 C -1.42 2.45 -0.73 2.74 0 2.74 z" transform="translate(1106.6 254.01)" style="fill: #7f7f7f; stroke: #7f7f7f"/>
</g>
</g>
<g id="PathCollection_27">
<g clip-path="url(#p308d102372)">
<path d="M 0 2.74 C 0.73 2.74 1.42 2.45 1.94 1.94 C 2.45 1.42 2.74 0.73 2.74 0 C 2.74 -0.73 2.45 -1.42 1.94 -1.94 C 1.42 -2.45 0.73 -2.74 0 -2.74 C -0.73 -2.74 -1.42 -2.45 -1.94 -1.94 C -2.45 -1.42 -2.74 -0.73 -2.74 0 C -2.74 0.73 -2.45 1.42 -1.94 1.94 C -1.42 2.45 -0.73 2.74 0 2.74 z" transform="translate(1164.57 285.36)" style="fill: #bcbd22; stroke: #bcbd22"/>
</g>
</g>
<g id="text_42">
<text style="font-weight: 700; font-size: 22px; font-family: 'Liberation Serif', serif; text-anchor: start" x="687.825175" y="16.51049">(b)</text>
</g>
<g id="text_43">
<text style="font-size: 21.6px; font-family: 'Liberation Serif', serif; text-anchor: middle" x="932.692308" y="16.027972">FWHM and Peak Height v s  Position</text>
</g>
<g id="legend_2">
<g id="patch_12">
<path d="M 766.38 382.15 L 1099 382.15 Q 1100.8 382.15 1100.8 380.35 L 1100.8 355.82 Q 1100.8 354.02 1099 354.02 L 766.38 354.02 Q 764.58 354.02 764.58 355.82 L 764.58 380.35 Q 764.58 382.15 766.38 382.15 z" style="fill: #ffffff; opacity: 0.8; stroke: #cccccc; stroke-linejoin: miter"/>
</g>
<g id="line2d_29">
<path d="M 768.18 360.77 L 777.18 360.77 L 786.18 360.77" style="fill: none; stroke: #0000ff; stroke-opacity: 0.8; stroke-width: 1.8; stroke-linecap: square"/>
</g>
<g id="text_44">
<text style="font-size: 9px; font-family: 'Liberation Serif', serif; text-anchor: start" x="793.380042" y="363.920979">FWHM</text>
</g>
<g id="PathCollection_28">
<g>
<path d="M 0 2.74 C 0.73 2.74 1.42 2.45 1.94 1.94 C 2.45 1.42 2.74 0.73 2.74 0 C 2.74 -0.73 2.45 -1.42 1.94 -1.94 C 1.42 -2.45 0.73 -2.74 0 -2.74 C -0.73 -2.74 -1.42 -2.45 -1.94 -1.94 C -2.45 -1.42 -2.74 -0.73 -2.74 0 C -2.74 0.73 -2.45 1.42 -1.94 1.94 C -1.42 2.45 -0.73 2.74 0 2.74 z" transform="translate(777.18 374.28)" style="fill: #1f77b4; stroke: #1f77b4"/>
</g>
</g>
<g id="text_45">
<text style="font-size: 9px; font-family: 'Liberation Serif', serif; text-anchor: start" x="793.380042" y="376.637698">Point 1</text>
</g>
<g id="PathCollection_29">
<g>
<path d="M 0 2.74 C 0.73 2.74 1.42 2.45 1.94 1.94 C 2.45 1.42 2.74 0.73 2.74 0 C 2.74 -0.73 2.45 -1.42 1.94 -1.94 C 1.42 -2.45 0.73 -2.74 0 -2.74 C -0.73 -2.74 -1.42 -2.45 -1.94 -1.94 C -2.45 -1.42 -2.74 -0.73 -2.74 0 C -2.74 0.73 -2.45 1.42 -1.94 1.94 C -1.42 2.45 -0.73 2.74 0 2.74 z" transform="translate(848.38 361.56)" style="fill: #ff7f0e; stroke: #ff7f0e"/>
</g>
</g>
<g id="text_46">
<text style="font-size: 9px; font-family: 'Liberation Serif', serif; text-anchor: start" x="864.582698" y="363.920979">Point 2</text>
</g>
<g id="PathCollection_30">
<g>
<path d="M 0 2.74 C 0.73 2.74 1.42 2.45 1.94 1.94 C 2.45 1.42 2.74 0.73 2.74 0 C 2.74 -0.73 2.45 -1.42 1.94 -1.94 C 1.42 -2.45 0.73 -2.74 0 -2.74 C -0.73 -2.74 -1.42 -2.45 -1.94 -1.94 C -2.45 -1.42 -2.74 -0.73 -2.74 0 C -2.74 0.73 -2.45 1.42 -1.94 1.94 C -1.42 2.45 -0.73 2.74 0 2.74 z" transform="translate(848.38 374.28)" style="fill: #2ca02c; stroke: #2ca02c"/>
</g>
</g>
<g id="text_47">
<text style="font-size: 9px; font-family: 'Liberation Serif', serif; text-anchor: start" x="864.582698" y="376.637698">Point 3</text>
</g>
<g id="PathCollection_31">
<g>
<path d="M 0 2.74 C 0.73 2.74 1.42 2.45 1.94 1.94 C 2.45 1.42 2.74 0.73 2.74 0 C 2.74 -0.73 2.45 -1.42 1.94 -1.94 C 1.42 -2.45 0.73 -2.74 0 -2.74 C -0.73 -2.74 -1.42 -2.45 -1.94 -1.94 C -2.45 -1.42 -2.74 -0.73 -2.74 0 C -2.74 0.73 -2.45 1.42 -1.94 1.94 C -1.42 2.45 -0.73 2.74 0 2.74 z" transform="translate(917.34 361.56)" style="fill: #d62728; stroke: #d62728"/>
</g>
</g>
<g id="text_48">
<text style="font-size: 9px; font-family: 'Liberation Serif', serif; text-anchor: start" x="933.538167" y="363.920979">Point 4</text>
</g>
<g id="PathCollection_32">
<g>
<path d="M 0 2.74 C 0.73 2.74 1.42 2.45 1.94 1.94 C 2.45 1.42 2.74 0.73 2.74 0 C 2.74 -0.73 2.45 -1.42 1.94 -1.94 C 1.42 -2.45 0.73 -2.74 0 -2.74 C -0.73 -2.74 -1.42 -2.45 -1.94 -1.94 C -2.45 -1.42 -2.74 -0.73 -2.74 0 C -2.74 0.73 -2.45 1.42 -1.94 1.94 C -1.42 2.45 -0.73 2.74 0 2.74 z" transform="translate(917.34 374.28)" style="fill: #9467bd; stroke: #9467bd"/>
</g>
</g>
<g id="text_49">
<text style="font-size: 9px; font-family: 'Liberation Serif', serif; text-anchor: start" x="933.538167" y="376.637698">Point 5</text>
</g>
<g id="PathCollection_33">
<g>
<path d="M 0 2.74 C 0.73 2.74 1.42 2.45 1.94 1.94 C 2.45 1.42 2.74 0.73 2.74 0 C 2.74 -0.73 2.45 -1.42 1.94 -1.94 C 1.42 -2.45 0.73 -2.74 0 -2.74 C -0.73 -2.74 -1.42 -2.45 -1.94 -1.94 C -2.45 -1.42 -2.74 -0.73 -2.74 0 C -2.74 0.73 -2.45 1.42 -1.94 1.94 C -1.42 2.45 -0.73 2.74 0 2.74 z" transform="translate(986.29 361.56)" style="fill: #8c564b; stroke: #8c564b"/>
</g>
</g>
<g id="text_50">
<text style="font-size: 9px; font-family: 'Liberation Serif', serif; text-anchor: start" x="1002.493636" y="363.920979">Point 6</text>
</g>
<g id="PathCollection_34">
<g>
<path d="M 0 2.74 C 0.73 2.74 1.42 2.45 1.94 1.94 C 2.45 1.42 2.74 0.73 2.74 0 C 2.74 -0.73 2.45 -1.42 1.94 -1.94 C 1.42 -2.45 0.73 -2.74 0 -2.74 C -0.73 -2.74 -1.42 -2.45 -1.94 -1.94 C -2.45 -1.42 -2.74 -0.73 -2.74 0 C -2.74 0.73 -2.45 1.42 -1.94 1.94 C -1.42 2.45 -0.73 2.74 0 2.74 z" transform="translate(986.29 374.28)" style="fill: #e377c2; stroke: #e377c2"/>
</g>
</g>
<g id="text_51">
<text style="font-size: 9px; font-family: 'Liberation Serif', serif; text-anchor: start" x="1002.493636" y="376.637698">Point 7</text>
</g>
<g id="PathCollection_35">
<g>
<path d="M 0 2.74 C 0.73 2.74 1.42 2.45 1.94 1.94 C 2.45 1.42 2.74 0.73 2.74 0 C 2.74 -0.73 2.45 -1.42 1.94 -1.94 C 1.42 -2.45 0.73 -2.74 0 -2.74 C -0.73 -2.74 -1.42 -2.45 -1.94 -1.94 C -2.45 -1.42 -2.74 -0.73 -2.74 0 C -2.74 0.73 -2.45 1.42 -1.94 1.94 C -1.42 2.45 -0.73 2.74 0 2.74 z" transform="translate(1055.25 361.56)" style="fill: #7f7f7f; stroke: #7f7f7f"/>
</g>
</g>
<g id="text_52">
<text style="font-size: 9px; font-family: 'Liberation Serif', serif; text-anchor: start" x="1071.449105" y="363.920979">Point 8</text>
</g>
<g id="PathCollection_36">
<g>
<path d="M 0 2.74 C 0.73 2.74 1.42 2.45 1.94 1.94 C 2.45 1.42 2.74 0.73 2.74 0 C 2.74 -0.73 2.45 -1.42 1.94 -1.94 C 1.42 -2.45 0.73 -2.74 0 -2.74 C -0.73 -2.74 -1.42 -2.45 -1.94 -1.94 C -2.45 -1.42 -2.74 -0.73 -2.74 0 C -2.74 0.73 -2.45 1.42 -1.94 1.94 C -1.42 2.45 -0.73 2.74 0 2.74 z" transform="translate(1055.25 374.28)" style="fill: #bcbd22; stroke: #bcbd22"/>
</g>
</g>
<g id="text_53">
<text style="font-size: 9px; font-family: 'Liberation Serif', serif; text-anchor: start" x="1071.449105" y="376.637698">Point 9</text>
</g>
</g>
</g>
<g id="axes_3">
<g id="matplotlib.axis_5">
<g id="ytick_9">
<g id="line2d_30">
<path d="M 677.62 285.36 L 1187.76 285.36" clip-path="url(#p0f705df660)" style="fill: none; stroke: #b0b0b0; stroke-opacity: 0.5; stroke-width: 0.8; stroke-linecap: square"/>
</g>
<g id="line2d_31">
<g>
<path d="M 0 0 L 3.5 0" transform="translate(1187.76 285.36)" style="stroke: #000000; stroke-width: 0.8"/>
</g>
</g>
<g id="text_54">
<text style="font-size: 18px; font-family: 'Liberation Serif', serif; text-anchor: start" x="1194.762238" y="291.607521">9000</text>
</g>
</g>
<g id="ytick_10">
<g id="line2d_32">
<path d="M 677.62 222.66 L 1187.76 222.66" clip-path="url(#p0f705df660)" style="fill: none; stroke: #b0b0b0; stroke-opacity: 0.5; stroke-width: 0.8; stroke-linecap: square"/>
</g>
<g id="line2d_33">
<g>
<path d="M 0 0 L 3.5 0" transform="translate(1187.76 222.66)" style="stroke: #000000; stroke-width: 0.8"/>
</g>
</g>
<g id="text_55">
<text style="font-size: 18px; font-family: 'Liberation Serif', serif; text-anchor: start" x="1194.762238" y="228.908856">9500</text>
</g>
</g>
<g id="ytick_11">
<g id="line2d_34">
<path d="M 677.62 159.97 L 1187.76 159.97" clip-path="url(#p0f705df660)" style="fill: none; stroke: #b0b0b0; stroke-opacity: 0.5; stroke-width: 0.8; stroke-linecap: square"/>
</g>
<g id="line2d_35">
<g>
<path d="M 0 0 L 3.5 0" transform="translate(1187.76 159.97)" style="stroke: #000000; stroke-width: 0.8"/>
</g>
</g>
<g id="text_56">
<text style="font-size: 18px; font-family: 'Liberation Serif', serif; text-anchor: start" x="1194.762238" y="166.210191">10000</text>
</g>
</g>
<g id="ytick_12">
<g id="line2d_36">
<path d="M 677.62 97.27 L 1187.76 97.27" clip-path="url(#p0f705df660)" style="fill: none; stroke: #b0b0b0; stroke-opacity: 0.5; stroke-width: 0.8; stroke-linecap: square"/>
</g>
<g id="line2d_37">
<g>
<path d="M 0 0 L 3.5 0" transform="translate(1187.76 97.27)" style="stroke: #000000; stroke-width: 0.8"/>
</g>
</g>
<g id="text_57">
<text style="font-size: 18px; font-family: 'Liberation Serif', serif; text-anchor: start" x="1194.762238" y="103.511526">10500</text>
</g>
</g>
<g id="ytick_13">
<g id="line2d_38">
<path d="M 677.62 34.57 L 1187.76 34.57" clip-path="url(#p0f705df660)" style="fill: none; stroke: #b0b0b0; stroke-opacity: 0.5; stroke-width: 0.8; stroke-linecap: square"/>
</g>
<g id="line2d_39">
<g>
<path d="M 0 0 L 3.5 0" transform="translate(1187.76 34.57)" style="stroke: #000000; stroke-width: 0.8"/>
</g>
</g>
<g id="text_58">
<text style="font-size: 18px; font-family: 'Liberation Serif', serif; text-anchor: start" x="1194.762238" y="40.812861">11000</text>
</g>
</g>
<g id="text_59">
<text style="font-size: 18px; font-family: 'Liberation Serif', serif; text-anchor: middle" x="1256.25255" y="159.965035" transform="rotate(-90 1256.25255 159.965035)">Peak Height</text>
</g>
</g>
<g id="line2d_40">
<path d="M 700.81 285.36 L 1164.57 34.57" clip-path="url(#p0f705df660)" style="fill: none; stroke: #000000; stroke-opacity: 0.8; stroke-width: 1.8; stroke-linecap: square"/>
</g>
<g id="patch_13">
<path d="M 1187.76 297.9 L 1187.76 22.03" style="fill: none; stroke: #000000; stroke-width: 0.8; stroke-linejoin: miter; stroke-linecap: square"/>
</g>
<g id="PathCollection_37">
<g clip-path="url(#p0f705df660)">
<path d="M 0 2.74 C 0.73 2.74 1.42 2.45 1.94 1.94 C 2.45 1.42 2.74 0.73 2.74 0 C 2.74 -0.73 2.45 -1.42 1.94 -1.94 C 1.42 -2.45 0.73 -2.74 0 -2.74 C -0.73 -2.74 -1.42 -2.45 -1.94 -1.94 C -2.45 -1.42 -2.74 -0.73 -2.74 0 C -2.74 0.73 -2.45 1.42 -1.94 1.94 C -1.42 2.45 -0.73 2.74 0 2.74 z" transform="translate(700.81 285.36)" style="fill: #1f77b4; stroke: #1f77b4"/>
</g>
</g>
<g id="PathCollection_38">
<g clip-path="url(#p0f705df660)">
<path d="M 0 2.74 C 0.73 2.74 1.42 2.45 1.94 1.94 C 2.45 1.42 2.74 0.73 2.74 0 C 2.74 -0.73 2.45 -1.42 1.94 -1.94 C 1.42 -2.45 0.73 -2.74 0 -2.74 C -0.73 -2.74 -1.42 -2.45 -1.94 -1.94 C -2.45 -1.42 -2.74 -0.73 -2.74 0 C -2.74 0.73 -2.45 1.42 -1.94 1.94 C -1.42 2.45 -0.73 2.74 0 2.74 z" transform="translate(758.78 254.01)" style="fill: #ff7f0e; stroke: #ff7f0e"/>
</g>
</g>
<g id="PathCollection_39">
<g clip-path="url(#p0f705df660)">
<path d="M 0 2.74 C 0.73 2.74 1.42 2.45 1.94 1.94 C 2.45 1.42 2.74 0.73 2.74 0 C 2.74 -0.73 2.45 -1.42 1.94 -1.94 C 1.42 -2.45 0.73 -2.74 0 -2.74 C -0.73 -2.74 -1.42 -2.45 -1.94 -1.94 C -2.45 -1.42 -2.74 -0.73 -2.74 0 C -2.74 0.73 -2.45 1.42 -1.94 1.94 C -1.42 2.45 -0.73 2.74 0 2.74 z" transform="translate(816.75 222.66)" style="fill: #2ca02c; stroke: #2ca02c"/>
</g>
</g>
<g id="PathCollection_40">
<g clip-path="url(#p0f705df660)">
<path d="M 0 2.74 C 0.73 2.74 1.42 2.45 1.94 1.94 C 2.45 1.42 2.74 0.73 2.74 0 C 2.74 -0.73 2.45 -1.42 1.94 -1.94 C 1.42 -2.45 0.73 -2.74 0 -2.74 C -0.73 -2.74 -1.42 -2.45 -1.94 -1.94 C -2.45 -1.42 -2.74 -0.73 -2.74 0 C -2.74 0.73 -2.45 1.42 -1.94 1.94 C -1.42 2.45 -0.73 2.74 0 2.74 z" transform="translate(874.72 191.31)" style="fill: #d62728; stroke: #d62728"/>
</g>
</g>
<g id="PathCollection_41">
<g clip-path="url(#p0f705df660)">
<path d="M 0 2.74 C 0.73 2.74 1.42 2.45 1.94 1.94 C 2.45 1.42 2.74 0.73 2.74 0 C 2.74 -0.73 2.45 -1.42 1.94 -1.94 C 1.42 -2.45 0.73 -2.74 0 -2.74 C -0.73 -2.74 -1.42 -2.45 -1.94 -1.94 C -2.45 -1.42 -2.74 -0.73 -2.74 0 C -2.74 0.73 -2.45 1.42 -1.94 1.94 C -1.42 2.45 -0.73 2.74 0 2.74 z" transform="translate(932.69 159.97)" style="fill: #9467bd; stroke: #9467bd"/>
</g>
</g>
<g id="PathCollection_42">
<g clip-path="url(#p0f705df660)">
<path d="M 0 2.74 C 0.73 2.74 1.42 2.45 1.94 1.94 C 2.45 1.42 2.74 0.73 2.74 0 C 2.74 -0.73 2.45 -1.42 1.94 -1.94 C 1.42 -2.45 0.73 -2.74 0 -2.74 C -0.73 -2.74 -1.42 -2.45 -1.94 -1.94 C -2.45 -1.42 -2.74 -0.73 -2.74 0 C -2.74 0.73 -2.45 1.42 -1.94 1.94 C -1.42 2.45 -0.73 2.74 0 2.74 z" transform="translate(990.66 128.62)" style="fill: #8c564b; stroke: #8c564b"/>
</g>
</g>
<g id="PathCollection_43">
<g clip-path="url(#p0f705df660)">
<path d="M 0 2.74 C 0.73 2.74 1.42 2.45 1.94 1.94 C 2.45 1.42 2.74 0.73 2.74 0 C 2.74 -0.73 2.45 -1.42 1.94 -1.94 C 1.42 -2.45 0.73 -2.74 0 -2.74 C -0.73 -2.74 -1.42 -2.45 -1.94 -1.94 C -2.45 -1.42 -2.74 -0.73 -2.74 0 C -2.74 0.73 -2.45 1.42 -1.94 1.94 C -1.42 2.45 -0.73 2.74 0 2.74 z" transform="translate(1048.63 97.27)" style="fill: #e377c2; stroke: #e377c2"/>
</g>
</g>
<g id="PathCollection_44">
<g clip-path="url(#p0f705df660)">
<path d="M 0 2.74 C 0.73 2.74 1.42 2.45 1.94 1.94 C 2.45 1.42 2.74 0.73 2.74 0 C 2.74 -0.73 2.45 -1.42 1.94 -1.94 C 1.42 -2.45 0.73 -2.74 0 -2.74 C -0.73 -2.74 -1.42 -2.45 -1.94 -1.94 C -2.45 -1.42 -2.74 -0.73 -2.74 0 C -2.74 0.73 -2.45 1.42 -1.94 1.94 C -1.42 2.45 -0.73 2.74 0 2.74 z" transform="translate(1106.6 65.92)" style="fill: #7f7f7f; stroke: #7f7f7f"/>
</g>
</g>
<g id="PathCollection_45">
<g clip-path="url(#p0f705df660)">
<path d="M 0 2.74 C 0.73 2.74 1.42 2.45 1.94 1.94 C 2.45 1.42 2.74 0.73 2.74 0 C 2.74 -0.73 2.45 -1.42 1.94 -1.94 C 1.42 -2.45 0.73 -2.74 0 -2.74 C -0.73 -2.74 -1.42 -2.45 -1.94 -1.94 C -2.45 -1.42 -2.74 -0.73 -2.74 0 C -2.74 0.73 -2.45 1.42 -1.94 1.94 C -1.42 2.45 -0.73 2.74 0 2.74 z" transform="translate(1164.57 34.57)" style="fill: #bcbd22; stroke: #bcbd22"/>
</g>
</g>
<g id="legend_3">
<g id="patch_14">
<path d="M 758.26 436.2 L 1107.12 436.2 Q 1108.92 436.2 1108.92 434.4 L 1108.92 409.84 Q 1108.92 408.04 1107.12 408.04 L 758.26 408.04 Q 756.46 408.04 756.46 409.84 L 756.46 434.4 Q 756.46 436.2 758.26 436.2 z" style="fill: #ffffff; opacity: 0.8; stroke: #cccccc; stroke-linejoin: miter"/>
</g>
<g id="line2d_41">
<path d="M 760.06 414.79 L 769.06 414.79 L 778.06 414.79" style="fill: none; stroke: #000000; stroke-opacity: 0.8; stroke-width: 1.8; stroke-linecap: square"/>
</g>
<g id="text_60">
<text style="font-size: 9px; font-family: 'Liberation Serif', serif; text-anchor: start" x="785.261058" y="417.941958">Peak Height</text>
</g>
<g id="PathCollection_46">
<g>
<path d="M 0 2.74 C 0.73 2.74 1.42 2.45 1.94 1.94 C 2.45 1.42 2.74 0.73 2.74 0 C 2.74 -0.73 2.45 -1.42 1.94 -1.94 C 1.42 -2.45 0.73 -2.74 0 -2.74 C -0.73 -2.74 -1.42 -2.45 -1.94 -1.94 C -2.45 -1.42 -2.74 -0.73 -2.74 0 C -2.74 0.73 -2.45 1.42 -1.94 1.94 C -1.42 2.45 -0.73 2.74 0 2.74 z" transform="translate(769.06 428.32)" style="fill: #1f77b4; stroke: #1f77b4"/>
</g>
</g>
<g id="text_61">
<text style="font-size: 9px; font-family: 'Liberation Serif', serif; text-anchor: start" x="785.261058" y="430.683989">Point 1</text>
</g>
<g id="PathCollection_47">
<g>
<path d="M 0 2.74 C 0.73 2.74 1.42 2.45 1.94 1.94 C 2.45 1.42 2.74 0.73 2.74 0 C 2.74 -0.73 2.45 -1.42 1.94 -1.94 C 1.42 -2.45 0.73 -2.74 0 -2.74 C -0.73 -2.74 -1.42 -2.45 -1.94 -1.94 C -2.45 -1.42 -2.74 -0.73 -2.74 0 C -2.74 0.73 -2.45 1.42 -1.94 1.94 C -1.42 2.45 -0.73 2.74 0 2.74 z" transform="translate(856.5 415.58)" style="fill: #ff7f0e; stroke: #ff7f0e"/>
</g>
</g>
<g id="text_62">
<text style="font-size: 9px; font-family: 'Liberation Serif', serif; text-anchor: start" x="872.701683" y="417.941958">Point 2</text>
</g>
<g id="PathCollection_48">
<g>
<path d="M 0 2.74 C 0.73 2.74 1.42 2.45 1.94 1.94 C 2.45 1.42 2.74 0.73 2.74 0 C 2.74 -0.73 2.45 -1.42 1.94 -1.94 C 1.42 -2.45 0.73 -2.74 0 -2.74 C -0.73 -2.74 -1.42 -2.45 -1.94 -1.94 C -2.45 -1.42 -2.74 -0.73 -2.74 0 C -2.74 0.73 -2.45 1.42 -1.94 1.94 C -1.42 2.45 -0.73 2.74 0 2.74 z" transform="translate(856.5 428.3)" style="fill: #2ca02c; stroke: #2ca02c"/>
</g>
</g>
<g id="text_63">
<text style="font-size: 9px; font-family: 'Liberation Serif', serif; text-anchor: start" x="872.701683" y="430.658677">Point 3</text>
</g>
<g id="PathCollection_49">
<g>
<path d="M 0 2.74 C 0.73 2.74 1.42 2.45 1.94 1.94 C 2.45 1.42 2.74 0.73 2.74 0 C 2.74 -0.73 2.45 -1.42 1.94 -1.94 C 1.42 -2.45 0.73 -2.74 0 -2.74 C -0.73 -2.74 -1.42 -2.45 -1.94 -1.94 C -2.45 -1.42 -2.74 -0.73 -2.74 0 C -2.74 0.73 -2.45 1.42 -1.94 1.94 C -1.42 2.45 -0.73 2.74 0 2.74 z" transform="translate(925.46 415.58)" style="fill: #d62728; stroke: #d62728"/>
</g>
</g>
<g id="text_64">
<text style="font-size: 9px; font-family: 'Liberation Serif', serif; text-anchor: start" x="941.657151" y="417.941958">Point 4</text>
</g>
<g id="PathCollection_50">
<g>
<path d="M 0 2.74 C 0.73 2.74 1.42 2.45 1.94 1.94 C 2.45 1.42 2.74 0.73 2.74 0 C 2.74 -0.73 2.45 -1.42 1.94 -1.94 C 1.42 -2.45 0.73 -2.74 0 -2.74 C -0.73 -2.74 -1.42 -2.45 -1.94 -1.94 C -2.45 -1.42 -2.74 -0.73 -2.74 0 C -2.74 0.73 -2.45 1.42 -1.94 1.94 C -1.42 2.45 -0.73 2.74 0 2.74 z" transform="translate(925.46 428.3)" style="fill: #9467bd; stroke: #9467bd"/>
</g>
</g>
<g id="text_65">
<text style="font-size: 9px; font-family: 'Liberation Serif', serif; text-anchor: start" x="941.657151" y="430.658677">Point 5</text>
</g>
<g id="PathCollection_51">
<g>
<path d="M 0 2.74 C 0.73 2.74 1.42 2.45 1.94 1.94 C 2.45 1.42 2.74 0.73 2.74 0 C 2.74 -0.73 2.45 -1.42 1.94 -1.94 C 1.42 -2.45 0.73 -2.74 0 -2.74 C -0.73 -2.74 -1.42 -2.45 -1.94 -1.94 C -2.45 -1.42 -2.74 -0.73 -2.74 0 C -2.74 0.73 -2.45 1.42 -1.94 1.94 C -1.42 2.45 -0.73 2.74 0 2.74 z" transform="translate(994.41 415.58)" style="fill: #8c564b; stroke: #8c564b"/>
</g>
</g>
<g id="text_66">
<text style="font-size: 9px; font-family: 'Liberation Serif', serif; text-anchor: start" x="1010.61262" y="417.941958">Point 6</text>
</g>
<g id="PathCollection_52">
<g>
<path d="M 0 2.74 C 0.73 2.74 1.42 2.45 1.94 1.94 C 2.45 1.42 2.74 0.73 2.74 0 C 2.74 -0.73 2.45 -1.42 1.94 -1.94 C 1.42 -2.45 0.73 -2.74 0 -2.74 C -0.73 -2.74 -1.42 -2.45 -1.94 -1.94 C -2.45 -1.42 -2.74 -0.73 -2.74 0 C -2.74 0.73 -2.45 1.42 -1.94 1.94 C -1.42 2.45 -0.73 2.74 0 2.74 z" transform="translate(994.41 428.3)" style="fill: #e377c2; stroke: #e377c2"/>
</g>
</g>
<g id="text_67">
<text style="font-size: 9px; font-family: 'Liberation Serif', serif; text-anchor: start" x="1010.61262" y="430.658677">Point 7</text>
</g>
<g id="PathCollection_53">
<g>
<path d="M 0 2.74 C 0.73 2.74 1.42 2.45 1.94 1.94 C 2.45 1.42 2.74 0.73 2.74 0 C 2.74 -0.73 2.45 -1.42 1.94 -1.94 C 1.42 -2.45 0.73 -2.74 0 -2.74 C -0.73 -2.74 -1.42 -2.45 -1.94 -1.94 C -2.45 -1.42 -2.74 -0.73 -2.74 0 C -2.74 0.73 -2.45 1.42 -1.94 1.94 C -1.42 2.45 -0.73 2.74 0 2.74 z" transform="translate(1063.37 415.58)" style="fill: #7f7f7f; stroke: #7f7f7f"/>
</g>
</g>
<g id="text_68">
<text style="font-size: 9px; font-family: 'Liberation Serif', serif; text-anchor: start" x="1079.568089" y="417.941958">Point 8</text>
</g>
<g id="PathCollection_54">
<g>
<path d="M 0 2.74 C 0.73 2.74 1.42 2.45 1.94 1.94 C 2.45 1.42 2.74 0.73 2.74 0 C 2.74 -0.73 2.45 -1.42 1.94 -1.94 C 1.42 -2.45 0.73 -2.74 0 -2.74 C -0.73 -2.74 -1.42 -2.45 -1.94 -1.94 C -2.45 -1.42 -2.74 -0.73 -2.74 0 C -2.74 0.73 -2.45 1.42 -1.94 1.94 C -1.42 2.45 -0.73 2.74 0 2.74 z" transform="translate(1063.37 428.3)" style="fill: #bcbd22; stroke: #bcbd22"/>
</g>
</g>
<g id="text_69">
<text style="font-size: 9px; font-family: 'Liberation Serif', serif; text-anchor: start" x="1079.568089" y="430.658677">Point 9</text>
</g>
</g>
</g>
<g id="axes_4">
<g id="patch_15">
<path d="M 81.29 769.93 L 591.61 769.93 L 591.61 494.06 L 81.29 494.06 z" style="fill: #ffffff"/>
</g>
<g id="matplotlib.axis_6">
<g id="xtick_19">
<g id="line2d_42">
<g>
<path d="M 0 0 L 0 3.5" transform="translate(116.95 769.93)" style="stroke: #000000; stroke-width: 0.8"/>
</g>
</g>
<g id="text_70">
<text style="font-size: 18px; font-family: 'Liberation Serif', serif; text-anchor: middle" x="116.946654" y="789.420382">67.8</text>
</g>
</g>
<g id="xtick_20">
<g id="line2d_43">
<g>
<path d="M 0 0 L 0 3.5" transform="translate(209.67 769.93)" style="stroke: #000000; stroke-width: 0.8"/>
</g>
</g>
<g id="text_71">
<text style="font-size: 18px; font-family: 'Liberation Serif', serif; text-anchor: middle" x="209.672135" y="789.420382">68.0</text>
</g>
</g>
<g id="xtick_21">
<g id="line2d_44">
<g>
<path d="M 0 0 L 0 3.5" transform="translate(302.4 769.93)" style="stroke: #000000; stroke-width: 0.8"/>
</g>
</g>
<g id="text_72">
<text style="font-size: 18px; font-family: 'Liberation Serif', serif; text-anchor: middle" x="302.397616" y="789.420382">68.2</text>
</g>
</g>
<g id="xtick_22">
<g id="line2d_45">
<g>
<path d="M 0 0 L 0 3.5" transform="translate(395.12 769.93)" style="stroke: #000000; stroke-width: 0.8"/>
</g>
</g>
<g id="text_73">
<text style="font-size: 18px; font-family: 'Liberation Serif', serif; text-anchor: middle" x="395.123097" y="789.420382">68.4</text>
</g>
</g>
<g id="xtick_23">
<g id="line2d_46">
<g>
<path d="M 0 0 L 0 3.5" transform="translate(487.85 769.93)" style="stroke: #000000; stroke-width: 0.8"/>
</g>
</g>
<g id="text_74">
<text style="font-size: 18px; font-family: 'Liberation Serif', serif; text-anchor: middle" x="487.848578" y="789.420382">68.6</text>
</g>
</g>
<g id="xtick_24">
<g id="line2d_47">
<g>
<path d="M 0 0 L 0 3.5" transform="translate(580.57 769.93)" style="stroke: #000000; stroke-width: 0.8"/>
</g>
</g>
<g id="text_75">
<text style="font-size: 18px; font-family: 'Liberation Serif', serif; text-anchor: middle" x="580.574059" y="789.420382">68.8</text>
</g>
</g>
<g id="text_76">
<text style="font-size: 18px; font-family: 'Liberation Serif', serif; text-anchor: middle" x="336.451049" y="809.744132">2θ [°]</text>
</g>
</g>
<g id="matplotlib.axis_7">
<g id="ytick_14">
<g id="line2d_48">
<g>
<path d="M 0 0 L -3.5 0" transform="translate(81.29 757.69)" style="stroke: #000000; stroke-width: 0.8"/>
</g>
</g>
<g id="text_77">
<text style="font-size: 18px; font-family: 'Liberation Serif', serif; text-anchor: end" x="74.293706" y="763.937493">0</text>
</g>
</g>
<g id="ytick_15">
<g id="line2d_49">
<g>
<path d="M 0 0 L -3.5 0" transform="translate(81.29 712.03)" style="stroke: #000000; stroke-width: 0.8"/>
</g>
</g>
<g id="text_78">
<text style="font-size: 18px; font-family: 'Liberation Serif', serif; text-anchor: end" x="74.293706" y="718.274309">2000</text>
</g>
</g>
<g id="ytick_16">
<g id="line2d_50">
<g>
<path d="M 0 0 L -3.5 0" transform="translate(81.29 666.37)" style="stroke: #000000; stroke-width: 0.8"/>
</g>
</g>
<g id="text_79">
<text style="font-size: 18px; font-family: 'Liberation Serif', serif; text-anchor: end" x="74.293706" y="672.611125">4000</text>
</g>
</g>
<g id="ytick_17">
<g id="line2d_51">
<g>
<path d="M 0 0 L -3.5 0" transform="translate(81.29 620.7)" style="stroke: #000000; stroke-width: 0.8"/>
</g>
</g>
<g id="text_80">
<text style="font-size: 18px; font-family: 'Liberation Serif', serif; text-anchor: end" x="74.293706" y="626.947941">6000</text>
</g>
</g>
<g id="ytick_18">
<g id="line2d_52">
<g>
<path d="M 0 0 L -3.5 0" transform="translate(81.29 575.04)" style="stroke: #000000; stroke-width: 0.8"/>
</g>
</g>
<g id="text_81">
<text style="font-size: 18px; font-family: 'Liberation Serif', serif; text-anchor: end" x="74.293706" y="581.284757">8000</text>
</g>
</g>
<g id="ytick_19">
<g id="line2d_53">
<g>
<path d="M 0 0 L -3.5 0" transform="translate(81.29 529.38)" style="stroke: #000000; stroke-width: 0.8"/>
</g>
</g>
<g id="text_82">
<text style="font-size: 18px; font-family: 'Liberation Serif', serif; text-anchor: end" x="74.293706" y="535.621573">10000</text>
</g>
</g>
<g id="text_83">
<text style="font-size: 18px; font-family: 'Liberation Serif', serif; text-anchor: middle" x="21.409644" y="631.993007" transform="rotate(-90 21.409644 631.993007)">Intensity</text>
</g>
</g>
<g id="line2d_54">
<path d="M 104.71 757.65 L 107.03 757.65 L 109.34 757.65 L 111.66 757.65 L 113.98 757.65 L 116.3 757.65 L 118.62 757.64 L 120.93 757.64 L 123.25 757.64 L 125.57 757.64 L 127.89 757.64 L 130.21 757.64 L 132.52 757.64 L 134.84 757.64 L 137.16 757.63 L 139.48 757.63 L 141.8 757.63 L 144.12 757.63 L 146.43 757.63 L 148.75 757.63 L 151.07 757.63 L 153.39 757.62 L 155.71 757.62 L 158.02 757.62 L 160.34 757.62 L 162.66 757.62 L 164.98 757.61 L 167.3 757.61 L 169.61 757.61 L 171.93 757.61 L 174.25 757.61 L 176.57 757.6 L 178.89 757.6 L 181.21 757.6 L 183.52 757.59 L 185.84 757.59 L 188.16 757.59 L 190.48 757.59 L 192.8 757.58 L 195.11 757.58 L 197.43 757.57 L 199.75 757.57 L 202.07 757.57 L 204.39 757.56 L 206.7 757.56 L 209.02 757.55 L 211.34 757.55 L 213.66 757.54 L 215.98 757.53 L 218.3 757.53 L 220.61 757.52 L 222.93 757.52 L 225.25 757.51 L 227.57 757.5 L 229.89 757.49 L 232.2 757.48 L 234.52 757.47 L 236.84 757.46 L 239.16 757.45 L 241.48 757.44 L 243.8 757.43 L 246.11 757.41 L 248.43 757.4 L 250.75 757.38 L 253.07 757.36 L 255.39 757.35 L 257.7 757.32 L 260.02 757.3 L 262.34 757.28 L 264.66 757.25 L 266.98 757.22 L 269.29 757.19 L 271.61 757.15 L 273.93 757.11 L 276.25 757.06 L 278.57 757.01 L 279.22 757 L 279.37 756.99 L 279.53 756.99 L 279.68 756.99 L 279.83 756.98 L 279.99 756.98 L 280.14 756.97 L 280.3 756.97 L 280.45 756.97 L 280.61 756.96 L 280.76 756.96 L 280.89 756.96 L 280.92 756.95 L 281.07 756.95 L 281.23 756.95 L 281.38 756.94 L 281.53 756.94 L 281.69 756.93 L 281.84 756.93 L 282 756.92 L 282.15 756.92 L 282.31 756.92 L 282.46 756.91 L 282.62 756.91 L 282.77 756.9 L 282.93 756.9 L 283.08 756.89 L 283.2 756.89 L 283.23 756.89 L 283.39 756.88 L 283.54 756.88 L 283.7 756.87 L 283.85 756.87 L 284.01 756.87 L 284.16 756.86 L 284.32 756.86 L 284.47 756.85 L 284.63 756.85 L 284.78 756.84 L 284.93 756.84 L 285.09 756.83 L 285.24 756.83 L 285.4 756.82 L 285.52 756.82 L 285.55 756.81 L 285.71 756.81 L 285.86 756.8 L 286.02 756.8 L 286.17 756.79 L 286.33 756.79 L 286.48 756.78 L 286.63 756.78 L 286.79 756.77 L 286.94 756.76 L 287.1 756.76 L 287.25 756.75 L 287.41 756.75 L 287.56 756.74 L 287.72 756.74 L 287.84 756.73 L 287.87 756.73 L 288.03 756.72 L 288.18 756.72 L 288.33 756.71 L 288.49 756.7 L 288.64 756.7 L 288.8 756.69 L 288.95 756.69 L 289.11 756.68 L 289.26 756.67 L 289.42 756.67 L 289.57 756.66 L 289.73 756.65 L 289.88 756.65 L 290.03 756.64 L 290.16 756.63 L 290.19 756.63 L 290.34 756.62 L 290.5 756.62 L 290.65 756.61 L 290.81 756.6 L 290.96 756.6 L 291.12 756.59 L 291.27 756.58 L 291.43 756.57 L 291.58 756.56 L 291.73 756.56 L 291.89 756.55 L 292.04 756.54 L 292.2 756.53 L 292.35 756.53 L 292.48 756.52 L 292.51 756.52 L 292.66 756.51 L 292.82 756.5 L 292.97 756.49 L 293.13 756.48 L 293.28 756.48 L 293.43 756.47 L 293.59 756.46 L 293.74 756.45 L 293.9 756.44 L 294.05 756.43 L 294.21 756.42 L 294.36 756.41 L 294.52 756.4 L 294.67 756.39 L 294.79 756.39 L 294.83 756.38 L 294.98 756.37 L 295.13 756.36 L 295.29 756.35 L 295.44 756.34 L 295.6 756.33 L 295.75 756.32 L 295.91 756.31 L 296.06 756.3 L 296.22 756.29 L 296.37 756.28 L 296.53 756.27 L 296.68 756.26 L 296.83 756.25 L 296.99 756.24 L 297.11 756.23 L 297.14 756.23 L 297.3 756.21 L 297.45 756.2 L 297.61 756.19 L 297.76 756.18 L 297.92 756.17 L 298.07 756.16 L 298.22 756.14 L 298.38 756.13 L 298.53 756.12 L 298.69 756.1 L 298.84 756.09 L 299 756.08 L 299.15 756.07 L 299.31 756.05 L 299.43 756.04 L 299.46 756.04 L 299.62 756.02 L 299.77 756.01 L 299.92 756 L 300.08 755.98 L 300.23 755.97 L 300.39 755.95 L 300.54 755.94 L 300.7 755.92 L 300.85 755.91 L 301.01 755.89 L 301.16 755.88 L 301.32 755.86 L 301.47 755.85 L 301.62 755.83 L 301.75 755.82 L 301.78 755.81 L 301.93 755.8 L 302.09 755.78 L 302.24 755.76 L 302.4 755.74 L 302.55 755.73 L 302.71 755.71 L 302.86 755.69 L 303.02 755.67 L 303.17 755.65 L 303.32 755.64 L 303.48 755.62 L 303.63 755.6 L 303.79 755.58 L 303.94 755.56 L 304.07 755.54 L 304.1 755.54 L 304.25 755.52 L 304.41 755.5 L 304.56 755.47 L 304.72 755.45 L 304.87 755.43 L 305.02 755.41 L 305.18 755.39 L 305.33 755.36 L 305.49 755.34 L 305.64 755.32 L 305.8 755.29 L 305.95 755.27 L 306.11 755.25 L 306.26 755.22 L 306.38 755.2 L 306.42 755.2 L 306.57 755.17 L 306.72 755.15 L 306.88 755.12 L 307.03 755.09 L 307.19 755.07 L 307.34 755.04 L 307.5 755.01 L 307.65 754.98 L 307.81 754.95 L 307.96 754.92 L 308.12 754.89 L 308.27 754.86 L 308.42 754.83 L 308.58 754.8 L 308.7 754.78 L 308.73 754.77 L 308.89 754.74 L 309.04 754.7 L 309.2 754.67 L 309.35 754.64 L 309.51 754.6 L 309.66 754.57 L 309.82 754.53 L 309.97 754.49 L 310.12 754.46 L 310.28 754.42 L 310.43 754.38 L 310.59 754.34 L 310.74 754.3 L 310.9 754.26 L 311.02 754.23 L 311.05 754.22 L 311.21 754.18 L 311.36 754.14 L 311.52 754.09 L 311.67 754.05 L 311.82 754.01 L 311.98 753.96 L 312.13 753.91 L 312.29 753.87 L 312.44 753.82 L 312.6 753.77 L 312.75 753.72 L 312.91 753.67 L 313.06 753.61 L 313.22 753.56 L 313.34 753.52 L 313.37 753.51 L 313.52 753.45 L 313.68 753.4 L 313.83 753.34 L 313.99 753.28 L 314.14 753.22 L 314.3 753.16 L 314.45 753.1 L 314.61 753.03 L 314.76 752.97 L 314.92 752.9 L 315.07 752.83 L 315.22 752.76 L 315.38 752.69 L 315.53 752.62 L 315.66 752.56 L 315.69 752.55 L 315.84 752.47 L 316 752.4 L 316.15 752.32 L 316.31 752.24 L 316.46 752.16 L 316.62 752.07 L 316.77 751.99 L 316.92 751.9 L 317.08 751.81 L 317.23 751.72 L 317.39 751.62 L 317.54 751.53 L 317.7 751.43 L 317.85 751.33 L 317.98 751.24 L 318.01 751.22 L 318.16 751.12 L 318.32 751.01 L 318.47 750.9 L 318.62 750.78 L 318.78 750.67 L 318.93 750.55 L 319.09 750.42 L 319.24 750.3 L 319.4 750.17 L 319.55 750.04 L 319.71 749.9 L 319.86 749.76 L 320.02 749.62 L 320.17 749.47 L 320.29 749.35 L 320.32 749.32 L 320.48 749.16 L 320.63 749 L 320.79 748.84 L 320.94 748.67 L 321.1 748.5 L 321.25 748.32 L 321.41 748.14 L 321.56 747.95 L 321.72 747.75 L 321.87 747.55 L 322.02 747.34 L 322.18 747.13 L 322.33 746.91 L 322.49 746.69 L 322.61 746.5 L 322.64 746.45 L 322.8 746.21 L 322.95 745.97 L 323.11 745.71 L 323.26 745.45 L 323.42 745.17 L 323.57 744.89 L 323.72 744.6 L 323.88 744.3 L 324.03 743.99 L 324.19 743.67 L 324.34 743.33 L 324.5 742.99 L 324.65 742.63 L 324.81 742.26 L 324.93 741.95 L 324.96 741.88 L 325.12 741.48 L 325.27 741.07 L 325.42 740.64 L 325.58 740.2 L 325.73 739.73 L 325.89 739.26 L 326.04 738.76 L 326.2 738.24 L 326.35 737.7 L 326.51 737.14 L 326.66 736.56 L 326.82 735.95 L 326.97 735.32 L 327.12 734.66 L 327.25 734.12 L 327.28 733.98 L 327.43 733.26 L 327.59 732.51 L 327.74 731.73 L 327.9 730.91 L 328.05 730.06 L 328.21 729.17 L 328.36 728.23 L 328.52 727.26 L 328.67 726.23 L 328.82 725.16 L 328.98 724.03 L 329.13 722.85 L 329.29 721.61 L 329.44 720.3 L 329.57 719.21 L 329.6 718.93 L 329.75 717.49 L 329.91 715.98 L 330.06 714.39 L 330.22 712.71 L 330.37 710.94 L 330.52 709.08 L 330.68 707.11 L 330.83 705.04 L 330.99 702.85 L 331.14 700.54 L 331.3 698.11 L 331.45 695.54 L 331.61 692.82 L 331.76 689.95 L 331.88 687.54 L 331.92 686.92 L 332.07 683.72 L 332.22 680.34 L 332.38 676.78 L 332.53 673.02 L 332.69 669.05 L 332.84 664.88 L 333 660.5 L 333.15 655.9 L 333.31 651.07 L 333.46 646.03 L 333.62 640.78 L 333.77 635.31 L 333.92 629.66 L 334.08 623.83 L 334.2 619.06 L 334.23 617.86 L 334.39 611.77 L 334.54 605.61 L 334.7 599.44 L 334.85 593.3 L 335.01 587.29 L 335.16 581.46 L 335.32 575.91 L 335.47 570.74 L 335.62 566.03 L 335.78 561.88 L 335.93 558.38 L 336.09 555.6 L 336.24 553.63 L 336.4 552.49 L 336.52 552.21 L 336.55 552.23 L 336.71 552.84 L 336.86 554.32 L 337.02 556.62 L 337.17 559.69 L 337.32 563.46 L 337.48 567.85 L 337.63 572.76 L 337.79 578.09 L 337.94 583.76 L 338.1 589.67 L 338.25 595.75 L 338.41 601.91 L 338.56 608.08 L 338.72 614.22 L 338.84 619.06 L 338.87 620.26 L 339.02 626.18 L 339.18 631.94 L 339.33 637.52 L 339.49 642.9 L 339.64 648.08 L 339.8 653.03 L 339.95 657.76 L 340.11 662.28 L 340.26 666.58 L 340.42 670.66 L 340.57 674.54 L 340.72 678.22 L 340.88 681.71 L 341.03 685.02 L 341.16 687.54 L 341.19 688.15 L 341.34 691.12 L 341.5 693.92 L 341.65 696.58 L 341.81 699.1 L 341.96 701.48 L 342.12 703.74 L 342.27 705.88 L 342.42 707.91 L 342.58 709.83 L 342.73 711.66 L 342.89 713.39 L 343.04 715.03 L 343.2 716.6 L 343.35 718.08 L 343.48 719.21 L 343.51 719.49 L 343.66 720.83 L 343.81 722.11 L 343.97 723.33 L 344.12 724.49 L 344.28 725.59 L 344.43 726.65 L 344.59 727.65 L 344.74 728.61 L 344.9 729.53 L 345.05 730.41 L 345.21 731.25 L 345.36 732.05 L 345.51 732.82 L 345.67 733.55 L 345.79 734.12 L 345.82 734.26 L 345.98 734.93 L 346.13 735.58 L 346.29 736.2 L 346.44 736.8 L 346.6 737.37 L 346.75 737.92 L 346.91 738.45 L 347.06 738.96 L 347.21 739.45 L 347.37 739.92 L 347.52 740.37 L 347.68 740.81 L 347.83 741.23 L 347.99 741.64 L 348.11 741.95 L 348.14 742.03 L 348.3 742.41 L 348.45 742.77 L 348.61 743.13 L 348.76 743.47 L 348.91 743.8 L 349.07 744.11 L 349.22 744.42 L 349.38 744.72 L 349.53 745 L 349.69 745.28 L 349.84 745.55 L 350 745.81 L 350.15 746.07 L 350.31 746.31 L 350.43 746.5 L 350.46 746.55 L 350.61 746.78 L 350.77 747 L 350.92 747.22 L 351.08 747.43 L 351.23 747.63 L 351.39 747.83 L 351.54 748.02 L 351.7 748.21 L 351.85 748.39 L 352.01 748.57 L 352.16 748.74 L 352.31 748.91 L 352.47 749.07 L 352.62 749.23 L 352.75 749.35 L 352.78 749.38 L 352.93 749.53 L 353.09 749.68 L 353.24 749.82 L 353.4 749.96 L 353.55 750.09 L 353.71 750.22 L 353.86 750.35 L 354.01 750.47 L 354.17 750.6 L 354.32 750.71 L 354.48 750.83 L 354.63 750.94 L 354.79 751.05 L 354.94 751.16 L 355.07 751.24 L 355.1 751.26 L 355.25 751.37 L 355.41 751.47 L 355.56 751.56 L 355.71 751.66 L 355.87 751.75 L 356.02 751.84 L 356.18 751.93 L 356.33 752.02 L 356.49 752.11 L 356.64 752.19 L 356.8 752.27 L 356.95 752.35 L 357.11 752.43 L 357.26 752.5 L 357.38 752.56 L 357.41 752.58 L 357.57 752.65 L 357.72 752.72 L 357.88 752.79 L 358.03 752.86 L 358.19 752.93 L 358.34 752.99 L 358.5 753.06 L 358.65 753.12 L 358.81 753.18 L 358.96 753.24 L 359.11 753.3 L 359.27 753.36 L 359.42 753.42 L 359.58 753.47 L 359.7 753.52 L 359.73 753.53 L 359.89 753.58 L 360.04 753.64 L 360.2 753.69 L 360.35 753.74 L 360.51 753.79 L 360.66 753.84 L 360.81 753.88 L 360.97 753.93 L 361.12 753.98 L 361.28 754.02 L 361.43 754.07 L 361.59 754.11 L 361.74 754.15 L 361.9 754.2 L 362.02 754.23 L 362.05 754.24 L 362.21 754.28 L 362.36 754.32 L 362.51 754.36 L 362.67 754.4 L 362.82 754.44 L 362.98 754.47 L 363.13 754.51 L 363.29 754.55 L 363.44 754.58 L 363.6 754.62 L 363.75 754.65 L 363.91 754.68 L 364.06 754.72 L 364.21 754.75 L 364.34 754.78 L 364.37 754.78 L 364.52 754.81 L 364.68 754.84 L 364.83 754.87 L 364.99 754.91 L 365.14 754.93 L 365.3 754.96 L 365.45 754.99 L 365.61 755.02 L 365.76 755.05 L 365.91 755.08 L 366.07 755.1 L 366.22 755.13 L 366.38 755.16 L 366.53 755.18 L 366.66 755.2 L 366.69 755.21 L 366.84 755.23 L 367 755.26 L 367.15 755.28 L 367.31 755.3 L 367.46 755.33 L 367.61 755.35 L 367.77 755.37 L 367.92 755.4 L 368.08 755.42 L 368.23 755.44 L 368.39 755.46 L 368.54 755.48 L 368.7 755.5 L 368.85 755.52 L 368.97 755.54 L 369.01 755.55 L 369.16 755.57 L 369.31 755.59 L 369.47 755.6 L 369.62 755.62 L 369.78 755.64 L 369.93 755.66 L 370.09 755.68 L 370.24 755.7 L 370.4 755.72 L 370.55 755.73 L 370.71 755.75 L 370.86 755.77 L 371.01 755.79 L 371.17 755.8 L 371.29 755.82 L 371.32 755.82 L 371.48 755.84 L 371.63 755.85 L 371.79 755.87 L 371.94 755.88 L 372.1 755.9 L 372.25 755.91 L 372.41 755.93 L 372.56 755.94 L 372.71 755.96 L 372.87 755.97 L 373.02 755.99 L 373.18 756 L 373.33 756.02 L 373.49 756.03 L 373.61 756.04 L 373.64 756.04 L 373.8 756.06 L 373.95 756.07 L 374.11 756.08 L 374.26 756.1 L 374.41 756.11 L 374.57 756.12 L 374.72 756.14 L 374.88 756.15 L 375.03 756.16 L 375.19 756.17 L 375.34 756.18 L 375.5 756.2 L 375.65 756.21 L 375.81 756.22 L 375.93 756.23 L 375.96 756.23 L 376.11 756.24 L 376.27 756.25 L 376.42 756.26 L 376.58 756.28 L 376.73 756.29 L 376.89 756.3 L 377.04 756.31 L 377.2 756.32 L 377.35 756.33 L 377.51 756.34 L 377.66 756.35 L 377.81 756.36 L 377.97 756.37 L 378.12 756.38 L 378.25 756.39 L 378.28 756.39 L 378.43 756.4 L 378.59 756.41 L 378.74 756.42 L 378.9 756.43 L 379.05 756.43 L 379.21 756.44 L 379.36 756.45 L 379.51 756.46 L 379.67 756.47 L 379.82 756.48 L 379.98 756.49 L 380.13 756.5 L 380.29 756.5 L 380.44 756.51 L 380.57 756.52 L 380.6 756.52 L 380.75 756.53 L 380.91 756.54 L 381.06 756.54 L 381.21 756.55 L 381.37 756.56 L 381.52 756.57 L 381.68 756.58 L 381.83 756.58 L 381.99 756.59 L 382.14 756.6 L 382.3 756.61 L 382.45 756.61 L 382.61 756.62 L 382.76 756.63 L 382.88 756.63 L 382.91 756.63 L 383.07 756.64 L 383.22 756.65 L 383.38 756.65 L 383.53 756.66 L 383.69 756.67 L 383.84 756.67 L 384 756.68 L 384.15 756.69 L 384.31 756.69 L 384.46 756.7 L 384.61 756.71 L 384.77 756.71 L 384.92 756.72 L 385.08 756.73 L 385.2 756.73 L 385.23 756.73 L 385.39 756.74 L 385.54 756.74 L 385.7 756.75 L 385.85 756.76 L 386.01 756.76 L 386.16 756.77 L 386.31 756.77 L 386.47 756.78 L 386.62 756.78 L 386.78 756.79 L 386.93 756.8 L 387.09 756.8 L 387.24 756.81 L 387.4 756.81 L 387.52 756.82 L 387.55 756.82 L 387.71 756.82 L 387.86 756.83 L 388.01 756.83 L 388.17 756.84 L 388.32 756.84 L 388.48 756.85 L 388.63 756.85 L 388.79 756.86 L 388.94 756.86 L 389.1 756.87 L 389.25 756.87 L 389.41 756.88 L 389.56 756.88 L 389.71 756.89 L 389.84 756.89 L 389.87 756.89 L 390.02 756.9 L 390.18 756.9 L 390.33 756.9 L 390.49 756.91 L 390.64 756.91 L 390.8 756.92 L 390.95 756.92 L 391.1 756.93 L 391.26 756.93 L 391.41 756.94 L 391.57 756.94 L 391.72 756.94 L 391.88 756.95 L 392.03 756.95 L 392.16 756.96 L 392.19 756.96 L 392.34 756.96 L 392.5 756.96 L 392.65 756.97 L 392.8 756.97 L 392.96 756.98 L 393.11 756.98 L 393.27 756.98 L 393.42 756.99 L 393.58 756.99 L 393.73 757 L 393.89 757 L 394.04 757 L 394.2 757.01 L 394.35 757.01 L 394.47 757.01 L 394.5 757.01 L 394.66 757.02 L 394.81 757.02 L 394.97 757.02 L 395.12 757.03 L 396.79 757.06 L 399.11 757.11 L 401.43 757.15 L 403.75 757.19 L 406.06 757.22 L 408.38 757.25 L 410.7 757.28 L 413.02 757.3 L 415.34 757.32 L 417.66 757.35 L 419.97 757.36 L 422.29 757.38 L 424.61 757.4 L 426.93 757.41 L 429.25 757.43 L 431.56 757.44 L 433.88 757.45 L 436.2 757.46 L 438.52 757.47 L 440.84 757.48 L 443.15 757.49 L 445.47 757.5 L 447.79 757.51 L 450.11 757.52 L 452.43 757.52 L 454.75 757.53 L 457.06 757.53 L 459.38 757.54 L 461.7 757.55 L 464.02 757.55 L 466.34 757.56 L 468.65 757.56 L 470.97 757.57 L 473.29 757.57 L 475.61 757.57 L 477.93 757.58 L 480.25 757.58 L 482.56 757.59 L 484.88 757.59 L 487.2 757.59 L 489.52 757.59 L 491.84 757.6 L 494.15 757.6 L 496.47 757.6 L 498.79 757.61 L 501.11 757.61 L 503.43 757.61 L 505.74 757.61 L 508.06 757.61 L 510.38 757.62 L 512.7 757.62 L 515.02 757.62 L 517.34 757.62 L 519.65 757.62 L 521.97 757.63 L 524.29 757.63 L 526.61 757.63 L 528.93 757.63 L 531.24 757.63 L 533.56 757.63 L 535.88 757.63 L 538.2 757.64 L 540.52 757.64 L 542.83 757.64 L 545.15 757.64 L 547.47 757.64 L 549.79 757.64 L 552.11 757.64 L 554.43 757.64 L 556.74 757.65 L 559.06 757.65 L 561.38 757.65 L 563.7 757.65 L 566.02 757.65 L 568.33 757.65" clip-path="url(#p94c4f2e22d)" style="fill: none; stroke: #1f77b4; stroke-width: 2; stroke-linecap: square"/>
</g>
<g id="line2d_55">
<path d="M 104.71 757.66 L 107.03 757.65 L 109.34 757.65 L 111.66 757.65 L 113.98 757.65 L 116.3 757.65 L 118.62 757.65 L 120.93 757.65 L 123.25 757.65 L 125.57 757.65 L 127.89 757.65 L 130.21 757.65 L 132.52 757.64 L 134.84 757.64 L 137.16 757.64 L 139.48 757.64 L 141.8 757.64 L 144.12 757.64 L 146.43 757.64 L 148.75 757.64 L 151.07 757.63 L 153.39 757.63 L 155.71 757.63 L 158.02 757.63 L 160.34 757.63 L 162.66 757.63 L 164.98 757.62 L 167.3 757.62 L 169.61 757.62 L 171.93 757.62 L 174.25 757.62 L 176.57 757.61 L 178.89 757.61 L 181.21 757.61 L 183.52 757.6 L 185.84 757.6 L 188.16 757.6 L 190.48 757.6 L 192.8 757.59 L 195.11 757.59 L 197.43 757.59 L 199.75 757.58 L 202.07 757.58 L 204.39 757.57 L 206.7 757.57 L 209.02 757.56 L 211.34 757.56 L 213.66 757.55 L 215.98 757.55 L 218.3 757.54 L 220.61 757.54 L 222.93 757.53 L 225.25 757.52 L 227.57 757.51 L 229.89 757.5 L 232.2 757.5 L 234.52 757.49 L 236.84 757.48 L 239.16 757.46 L 241.48 757.45 L 243.8 757.44 L 246.11 757.42 L 248.43 757.41 L 250.75 757.39 L 253.07 757.37 L 255.39 757.35 L 257.7 757.33 L 260.02 757.31 L 262.34 757.28 L 264.66 757.25 L 266.98 757.21 L 269.29 757.18 L 271.61 757.14 L 273.93 757.09 L 276.25 757.03 L 278.57 756.97 L 279.22 756.95 L 279.37 756.95 L 279.53 756.94 L 279.68 756.94 L 279.83 756.94 L 279.99 756.93 L 280.14 756.93 L 280.3 756.92 L 280.45 756.92 L 280.61 756.91 L 280.76 756.91 L 280.89 756.9 L 280.92 756.9 L 281.07 756.9 L 281.23 756.89 L 281.38 756.89 L 281.53 756.88 L 281.69 756.88 L 281.84 756.87 L 282 756.87 L 282.15 756.86 L 282.31 756.85 L 282.46 756.85 L 282.62 756.84 L 282.77 756.84 L 282.93 756.83 L 283.08 756.83 L 283.2 756.82 L 283.23 756.82 L 283.39 756.81 L 283.54 756.81 L 283.7 756.8 L 283.85 756.8 L 284.01 756.79 L 284.16 756.78 L 284.32 756.78 L 284.47 756.77 L 284.63 756.77 L 284.78 756.76 L 284.93 756.75 L 285.09 756.75 L 285.24 756.74 L 285.4 756.73 L 285.52 756.73 L 285.55 756.73 L 285.71 756.72 L 285.86 756.71 L 286.02 756.71 L 286.17 756.7 L 286.33 756.69 L 286.48 756.68 L 286.63 756.68 L 286.79 756.67 L 286.94 756.66 L 287.1 756.65 L 287.25 756.65 L 287.41 756.64 L 287.56 756.63 L 287.72 756.62 L 287.84 756.62 L 287.87 756.62 L 288.03 756.61 L 288.18 756.6 L 288.33 756.59 L 288.49 756.58 L 288.64 756.57 L 288.8 756.57 L 288.95 756.56 L 289.11 756.55 L 289.26 756.54 L 289.42 756.53 L 289.57 756.52 L 289.73 756.51 L 289.88 756.5 L 290.03 756.49 L 290.16 756.49 L 290.19 756.48 L 290.34 756.48 L 290.5 756.47 L 290.65 756.46 L 290.81 756.45 L 290.96 756.44 L 291.12 756.43 L 291.27 756.42 L 291.43 756.41 L 291.58 756.39 L 291.73 756.38 L 291.89 756.37 L 292.04 756.36 L 292.2 756.35 L 292.35 756.34 L 292.48 756.33 L 292.51 756.33 L 292.66 756.32 L 292.82 756.31 L 292.97 756.29 L 293.13 756.28 L 293.28 756.27 L 293.43 756.26 L 293.59 756.25 L 293.74 756.23 L 293.9 756.22 L 294.05 756.21 L 294.21 756.19 L 294.36 756.18 L 294.52 756.17 L 294.67 756.15 L 294.79 756.14 L 294.83 756.14 L 294.98 756.13 L 295.13 756.11 L 295.29 756.1 L 295.44 756.08 L 295.6 756.07 L 295.75 756.05 L 295.91 756.04 L 296.06 756.02 L 296.22 756.01 L 296.37 755.99 L 296.53 755.98 L 296.68 755.96 L 296.83 755.94 L 296.99 755.93 L 297.11 755.91 L 297.14 755.91 L 297.3 755.89 L 297.45 755.88 L 297.61 755.86 L 297.76 755.84 L 297.92 755.82 L 298.07 755.8 L 298.22 755.79 L 298.38 755.77 L 298.53 755.75 L 298.69 755.73 L 298.84 755.71 L 299 755.69 L 299.15 755.67 L 299.31 755.65 L 299.43 755.63 L 299.46 755.63 L 299.62 755.61 L 299.77 755.58 L 299.92 755.56 L 300.08 755.54 L 300.23 755.52 L 300.39 755.49 L 300.54 755.47 L 300.7 755.45 L 300.85 755.42 L 301.01 755.4 L 301.16 755.37 L 301.32 755.35 L 301.47 755.32 L 301.62 755.29 L 301.75 755.27 L 301.78 755.27 L 301.93 755.24 L 302.09 755.21 L 302.24 755.19 L 302.4 755.16 L 302.55 755.13 L 302.71 755.1 L 302.86 755.07 L 303.02 755.04 L 303.17 755.01 L 303.32 754.98 L 303.48 754.94 L 303.63 754.91 L 303.79 754.88 L 303.94 754.84 L 304.07 754.82 L 304.1 754.81 L 304.25 754.77 L 304.41 754.74 L 304.56 754.7 L 304.72 754.66 L 304.87 754.63 L 305.02 754.59 L 305.18 754.55 L 305.33 754.51 L 305.49 754.47 L 305.64 754.43 L 305.8 754.38 L 305.95 754.34 L 306.11 754.3 L 306.26 754.25 L 306.38 754.21 L 306.42 754.21 L 306.57 754.16 L 306.72 754.11 L 306.88 754.06 L 307.03 754.01 L 307.19 753.96 L 307.34 753.91 L 307.5 753.86 L 307.65 753.8 L 307.81 753.75 L 307.96 753.69 L 308.12 753.63 L 308.27 753.58 L 308.42 753.52 L 308.58 753.45 L 308.7 753.4 L 308.73 753.39 L 308.89 753.33 L 309.04 753.26 L 309.2 753.2 L 309.35 753.13 L 309.51 753.06 L 309.66 752.99 L 309.82 752.91 L 309.97 752.84 L 310.12 752.76 L 310.28 752.68 L 310.43 752.6 L 310.59 752.52 L 310.74 752.44 L 310.9 752.35 L 311.02 752.28 L 311.05 752.26 L 311.21 752.17 L 311.36 752.08 L 311.52 751.98 L 311.67 751.88 L 311.82 751.78 L 311.98 751.68 L 312.13 751.58 L 312.29 751.47 L 312.44 751.36 L 312.6 751.24 L 312.75 751.13 L 312.91 751.01 L 313.06 750.88 L 313.22 750.75 L 313.34 750.65 L 313.37 750.62 L 313.52 750.49 L 313.68 750.35 L 313.83 750.21 L 313.99 750.06 L 314.14 749.91 L 314.3 749.76 L 314.45 749.6 L 314.61 749.43 L 314.76 749.27 L 314.92 749.09 L 315.07 748.91 L 315.22 748.73 L 315.38 748.53 L 315.53 748.34 L 315.66 748.17 L 315.69 748.13 L 315.84 747.92 L 316 747.71 L 316.15 747.48 L 316.31 747.25 L 316.46 747.01 L 316.62 746.76 L 316.77 746.5 L 316.92 746.24 L 317.08 745.96 L 317.23 745.68 L 317.39 745.38 L 317.54 745.08 L 317.7 744.76 L 317.85 744.43 L 317.98 744.16 L 318.01 744.09 L 318.16 743.74 L 318.32 743.37 L 318.47 742.99 L 318.62 742.59 L 318.78 742.17 L 318.93 741.74 L 319.09 741.3 L 319.24 740.83 L 319.4 740.34 L 319.55 739.84 L 319.71 739.31 L 319.86 738.76 L 320.02 738.18 L 320.17 737.58 L 320.29 737.08 L 320.32 736.95 L 320.48 736.29 L 320.63 735.61 L 320.79 734.88 L 320.94 734.13 L 321.1 733.34 L 321.25 732.51 L 321.41 731.64 L 321.56 730.72 L 321.72 729.76 L 321.87 728.75 L 322.02 727.69 L 322.18 726.57 L 322.33 725.39 L 322.49 724.14 L 322.61 723.1 L 322.64 722.83 L 322.8 721.44 L 322.95 719.98 L 323.11 718.43 L 323.26 716.8 L 323.42 715.06 L 323.57 713.23 L 323.72 711.29 L 323.88 709.22 L 324.03 707.04 L 324.19 704.71 L 324.34 702.25 L 324.5 699.63 L 324.65 696.84 L 324.81 693.88 L 324.93 691.38 L 324.96 690.74 L 325.12 687.39 L 325.27 683.83 L 325.42 680.05 L 325.58 676.03 L 325.73 671.76 L 325.89 667.23 L 326.04 662.43 L 326.2 657.35 L 326.35 651.99 L 326.51 646.34 L 326.66 640.41 L 326.82 634.2 L 326.97 627.73 L 327.12 621.04 L 327.25 615.54 L 327.28 614.14 L 327.43 607.1 L 327.59 599.98 L 327.74 592.84 L 327.9 585.8 L 328.05 578.94 L 328.21 572.41 L 328.36 566.33 L 328.52 560.83 L 328.67 556.06 L 328.82 552.14 L 328.98 549.19 L 329.13 547.29 L 329.29 546.52 L 329.44 546.88 L 329.57 547.99 L 329.6 548.38 L 329.75 550.96 L 329.91 554.54 L 330.06 559.02 L 330.22 564.27 L 330.37 570.16 L 330.52 576.55 L 330.68 583.3 L 330.83 590.29 L 330.99 597.4 L 331.14 604.54 L 331.3 611.62 L 331.45 618.58 L 331.61 625.35 L 331.76 631.9 L 331.88 636.96 L 331.92 638.2 L 332.07 644.23 L 332.22 649.99 L 332.38 655.45 L 332.53 660.63 L 332.69 665.53 L 332.84 670.16 L 333 674.52 L 333.15 678.63 L 333.31 682.49 L 333.46 686.13 L 333.62 689.55 L 333.77 692.77 L 333.92 695.8 L 334.08 698.65 L 334.2 700.8 L 334.23 701.32 L 334.39 703.84 L 334.54 706.22 L 334.7 708.45 L 334.85 710.56 L 335.01 712.54 L 335.16 714.42 L 335.32 716.18 L 335.47 717.85 L 335.62 719.43 L 335.78 720.93 L 335.93 722.34 L 336.09 723.68 L 336.24 724.95 L 336.4 726.15 L 336.52 727.07 L 336.55 727.29 L 336.71 728.37 L 336.86 729.4 L 337.02 730.38 L 337.17 731.31 L 337.32 732.2 L 337.48 733.04 L 337.63 733.85 L 337.79 734.62 L 337.94 735.35 L 338.1 736.05 L 338.25 736.72 L 338.41 737.36 L 338.56 737.97 L 338.72 738.55 L 338.84 739 L 338.87 739.11 L 339.02 739.65 L 339.18 740.16 L 339.33 740.66 L 339.49 741.13 L 339.64 741.59 L 339.8 742.02 L 339.95 742.44 L 340.11 742.84 L 340.26 743.23 L 340.42 743.61 L 340.57 743.96 L 340.72 744.31 L 340.88 744.64 L 341.03 744.97 L 341.16 745.21 L 341.19 745.28 L 341.34 745.57 L 341.5 745.86 L 341.65 746.14 L 341.81 746.41 L 341.96 746.67 L 342.12 746.92 L 342.27 747.16 L 342.42 747.4 L 342.58 747.63 L 342.73 747.85 L 342.89 748.06 L 343.04 748.26 L 343.2 748.46 L 343.35 748.66 L 343.48 748.81 L 343.51 748.84 L 343.66 749.03 L 343.81 749.2 L 343.97 749.37 L 344.12 749.54 L 344.28 749.7 L 344.43 749.86 L 344.59 750.01 L 344.74 750.16 L 344.9 750.3 L 345.05 750.44 L 345.21 750.58 L 345.36 750.71 L 345.51 750.84 L 345.67 750.96 L 345.79 751.06 L 345.82 751.08 L 345.98 751.2 L 346.13 751.32 L 346.29 751.43 L 346.44 751.54 L 346.6 751.64 L 346.75 751.75 L 346.91 751.85 L 347.06 751.95 L 347.21 752.04 L 347.37 752.14 L 347.52 752.23 L 347.68 752.32 L 347.83 752.41 L 347.99 752.49 L 348.11 752.56 L 348.14 752.57 L 348.3 752.65 L 348.45 752.73 L 348.61 752.81 L 348.76 752.89 L 348.91 752.96 L 349.07 753.03 L 349.22 753.1 L 349.38 753.17 L 349.53 753.24 L 349.69 753.31 L 349.84 753.37 L 350 753.43 L 350.15 753.49 L 350.31 753.55 L 350.43 753.6 L 350.46 753.61 L 350.61 753.67 L 350.77 753.73 L 350.92 753.78 L 351.08 753.84 L 351.23 753.89 L 351.39 753.94 L 351.54 753.99 L 351.7 754.04 L 351.85 754.09 L 352.01 754.14 L 352.16 754.19 L 352.31 754.23 L 352.47 754.28 L 352.62 754.32 L 352.75 754.36 L 352.78 754.37 L 352.93 754.41 L 353.09 754.45 L 353.24 754.49 L 353.4 754.53 L 353.55 754.57 L 353.71 754.61 L 353.86 754.65 L 354.01 754.69 L 354.17 754.72 L 354.32 754.76 L 354.48 754.8 L 354.63 754.83 L 354.79 754.86 L 354.94 754.9 L 355.07 754.92 L 355.1 754.93 L 355.25 754.96 L 355.41 755 L 355.56 755.03 L 355.71 755.06 L 355.87 755.09 L 356.02 755.12 L 356.18 755.15 L 356.33 755.18 L 356.49 755.2 L 356.64 755.23 L 356.8 755.26 L 356.95 755.29 L 357.11 755.31 L 357.26 755.34 L 357.38 755.36 L 357.41 755.36 L 357.57 755.39 L 357.72 755.41 L 357.88 755.44 L 358.03 755.46 L 358.19 755.48 L 358.34 755.51 L 358.5 755.53 L 358.65 755.55 L 358.81 755.58 L 358.96 755.6 L 359.11 755.62 L 359.27 755.64 L 359.42 755.66 L 359.58 755.68 L 359.7 755.7 L 359.73 755.7 L 359.89 755.72 L 360.04 755.74 L 360.2 755.76 L 360.35 755.78 L 360.51 755.8 L 360.66 755.82 L 360.81 755.83 L 360.97 755.85 L 361.12 755.87 L 361.28 755.89 L 361.43 755.9 L 361.59 755.92 L 361.74 755.94 L 361.9 755.96 L 362.02 755.97 L 362.05 755.97 L 362.21 755.99 L 362.36 756 L 362.51 756.02 L 362.67 756.03 L 362.82 756.05 L 362.98 756.06 L 363.13 756.08 L 363.29 756.09 L 363.44 756.11 L 363.6 756.12 L 363.75 756.14 L 363.91 756.15 L 364.06 756.16 L 364.21 756.18 L 364.34 756.19 L 364.37 756.19 L 364.52 756.2 L 364.68 756.22 L 364.83 756.23 L 364.99 756.24 L 365.14 756.25 L 365.3 756.27 L 365.45 756.28 L 365.61 756.29 L 365.76 756.3 L 365.91 756.31 L 366.07 756.32 L 366.22 756.34 L 366.38 756.35 L 366.53 756.36 L 366.66 756.37 L 366.69 756.37 L 366.84 756.38 L 367 756.39 L 367.15 756.4 L 367.31 756.41 L 367.46 756.42 L 367.61 756.43 L 367.77 756.44 L 367.92 756.45 L 368.08 756.46 L 368.23 756.47 L 368.39 756.48 L 368.54 756.49 L 368.7 756.5 L 368.85 756.51 L 368.97 756.52 L 369.01 756.52 L 369.16 756.53 L 369.31 756.54 L 369.47 756.55 L 369.62 756.55 L 369.78 756.56 L 369.93 756.57 L 370.09 756.58 L 370.24 756.59 L 370.4 756.6 L 370.55 756.6 L 370.71 756.61 L 370.86 756.62 L 371.01 756.63 L 371.17 756.64 L 371.29 756.64 L 371.32 756.64 L 371.48 756.65 L 371.63 756.66 L 371.79 756.67 L 371.94 756.67 L 372.1 756.68 L 372.25 756.69 L 372.41 756.7 L 372.56 756.7 L 372.71 756.71 L 372.87 756.72 L 373.02 756.72 L 373.18 756.73 L 373.33 756.74 L 373.49 756.74 L 373.61 756.75 L 373.64 756.75 L 373.8 756.76 L 373.95 756.76 L 374.11 756.77 L 374.26 756.78 L 374.41 756.78 L 374.57 756.79 L 374.72 756.79 L 374.88 756.8 L 375.03 756.81 L 375.19 756.81 L 375.34 756.82 L 375.5 756.82 L 375.65 756.83 L 375.81 756.84 L 375.93 756.84 L 375.96 756.84 L 376.11 756.85 L 376.27 756.85 L 376.42 756.86 L 376.58 756.86 L 376.73 756.87 L 376.89 756.87 L 377.04 756.88 L 377.2 756.88 L 377.35 756.89 L 377.51 756.89 L 377.66 756.9 L 377.81 756.9 L 377.97 756.91 L 378.12 756.91 L 378.25 756.92 L 378.28 756.92 L 378.43 756.92 L 378.59 756.93 L 378.74 756.93 L 378.9 756.94 L 379.05 756.94 L 379.21 756.95 L 379.36 756.95 L 379.51 756.96 L 379.67 756.96 L 379.82 756.97 L 379.98 756.97 L 380.13 756.97 L 380.29 756.98 L 380.44 756.98 L 380.57 756.99 L 380.6 756.99 L 380.75 756.99 L 380.91 757 L 381.06 757 L 381.21 757 L 381.37 757.01 L 381.52 757.01 L 381.68 757.02 L 381.83 757.02 L 381.99 757.02 L 382.14 757.03 L 382.3 757.03 L 382.45 757.04 L 382.61 757.04 L 382.76 757.04 L 382.88 757.05 L 382.91 757.05 L 383.07 757.05 L 383.22 757.05 L 383.38 757.06 L 383.53 757.06 L 383.69 757.07 L 383.84 757.07 L 384 757.07 L 384.15 757.08 L 384.31 757.08 L 384.46 757.08 L 384.61 757.09 L 384.77 757.09 L 384.92 757.09 L 385.08 757.1 L 385.2 757.1 L 385.23 757.1 L 385.39 757.1 L 385.54 757.11 L 385.7 757.11 L 385.85 757.11 L 386.01 757.12 L 386.16 757.12 L 386.31 757.12 L 386.47 757.12 L 386.62 757.13 L 386.78 757.13 L 386.93 757.13 L 387.09 757.14 L 387.24 757.14 L 387.4 757.14 L 387.52 757.14 L 387.55 757.15 L 387.71 757.15 L 387.86 757.15 L 388.01 757.15 L 388.17 757.16 L 388.32 757.16 L 388.48 757.16 L 388.63 757.17 L 388.79 757.17 L 388.94 757.17 L 389.1 757.17 L 389.25 757.18 L 389.41 757.18 L 389.56 757.18 L 389.71 757.18 L 389.84 757.19 L 389.87 757.19 L 390.02 757.19 L 390.18 757.19 L 390.33 757.19 L 390.49 757.2 L 390.64 757.2 L 390.8 757.2 L 390.95 757.2 L 391.1 757.21 L 391.26 757.21 L 391.41 757.21 L 391.57 757.21 L 391.72 757.22 L 391.88 757.22 L 392.03 757.22 L 392.16 757.22 L 392.19 757.22 L 392.34 757.23 L 392.5 757.23 L 392.65 757.23 L 392.8 757.23 L 392.96 757.23 L 393.11 757.24 L 393.27 757.24 L 393.42 757.24 L 393.58 757.24 L 393.73 757.25 L 393.89 757.25 L 394.04 757.25 L 394.2 757.25 L 394.35 757.25 L 394.47 757.26 L 394.5 757.26 L 394.66 757.26 L 394.81 757.26 L 394.97 757.26 L 395.12 757.26 L 396.79 757.28 L 399.11 757.31 L 401.43 757.34 L 403.75 757.36 L 406.06 757.38 L 408.38 757.4 L 410.7 757.41 L 413.02 757.43 L 415.34 757.44 L 417.66 757.45 L 419.97 757.47 L 422.29 757.48 L 424.61 757.49 L 426.93 757.5 L 429.25 757.51 L 431.56 757.51 L 433.88 757.52 L 436.2 757.53 L 438.52 757.54 L 440.84 757.54 L 443.15 757.55 L 445.47 757.55 L 447.79 757.56 L 450.11 757.56 L 452.43 757.57 L 454.75 757.57 L 457.06 757.58 L 459.38 757.58 L 461.7 757.59 L 464.02 757.59 L 466.34 757.59 L 468.65 757.6 L 470.97 757.6 L 473.29 757.6 L 475.61 757.61 L 477.93 757.61 L 480.25 757.61 L 482.56 757.61 L 484.88 757.62 L 487.2 757.62 L 489.52 757.62 L 491.84 757.62 L 494.15 757.62 L 496.47 757.63 L 498.79 757.63 L 501.11 757.63 L 503.43 757.63 L 505.74 757.63 L 508.06 757.63 L 510.38 757.64 L 512.7 757.64 L 515.02 757.64 L 517.34 757.64 L 519.65 757.64 L 521.97 757.64 L 524.29 757.64 L 526.61 757.64 L 528.93 757.65 L 531.24 757.65 L 533.56 757.65 L 535.88 757.65 L 538.2 757.65 L 540.52 757.65 L 542.83 757.65 L 545.15 757.65 L 547.47 757.65 L 549.79 757.65 L 552.11 757.65 L 554.43 757.66 L 556.74 757.66 L 559.06 757.66 L 561.38 757.66 L 563.7 757.66 L 566.02 757.66 L 568.33 757.66" clip-path="url(#p94c4f2e22d)" style="fill: none; stroke: #ff7f0e; stroke-width: 2; stroke-linecap: square"/>
</g>
<g id="line2d_56">
<path d="M 104.71 757.66 L 107.03 757.66 L 109.34 757.66 L 111.66 757.66 L 113.98 757.66 L 116.3 757.66 L 118.62 757.66 L 120.93 757.66 L 123.25 757.66 L 125.57 757.66 L 127.89 757.65 L 130.21 757.65 L 132.52 757.65 L 134.84 757.65 L 137.16 757.65 L 139.48 757.65 L 141.8 757.65 L 144.12 757.65 L 146.43 757.65 L 148.75 757.65 L 151.07 757.64 L 153.39 757.64 L 155.71 757.64 L 158.02 757.64 L 160.34 757.64 L 162.66 757.64 L 164.98 757.64 L 167.3 757.63 L 169.61 757.63 L 171.93 757.63 L 174.25 757.63 L 176.57 757.63 L 178.89 757.62 L 181.21 757.62 L 183.52 757.62 L 185.84 757.62 L 188.16 757.61 L 190.48 757.61 L 192.8 757.61 L 195.11 757.61 L 197.43 757.6 L 199.75 757.6 L 202.07 757.6 L 204.39 757.59 L 206.7 757.59 L 209.02 757.58 L 211.34 757.58 L 213.66 757.57 L 215.98 757.57 L 218.3 757.56 L 220.61 757.56 L 222.93 757.55 L 225.25 757.55 L 227.57 757.54 L 229.89 757.53 L 232.2 757.52 L 234.52 757.51 L 236.84 757.5 L 239.16 757.49 L 241.48 757.48 L 243.8 757.47 L 246.11 757.46 L 248.43 757.44 L 250.75 757.43 L 253.07 757.41 L 255.39 757.39 L 257.7 757.37 L 260.02 757.34 L 262.34 757.32 L 264.66 757.29 L 266.98 757.26 L 269.29 757.22 L 271.61 757.18 L 273.93 757.13 L 276.25 757.08 L 278.57 757.01 L 279.22 756.99 L 279.37 756.99 L 279.53 756.98 L 279.68 756.98 L 279.83 756.97 L 279.99 756.97 L 280.14 756.96 L 280.3 756.96 L 280.45 756.95 L 280.61 756.95 L 280.76 756.94 L 280.89 756.94 L 280.92 756.94 L 281.07 756.93 L 281.23 756.93 L 281.38 756.92 L 281.53 756.92 L 281.69 756.91 L 281.84 756.9 L 282 756.9 L 282.15 756.89 L 282.31 756.89 L 282.46 756.88 L 282.62 756.88 L 282.77 756.87 L 282.93 756.86 L 283.08 756.86 L 283.2 756.85 L 283.23 756.85 L 283.39 756.85 L 283.54 756.84 L 283.7 756.83 L 283.85 756.83 L 284.01 756.82 L 284.16 756.81 L 284.32 756.81 L 284.47 756.8 L 284.63 756.79 L 284.78 756.79 L 284.93 756.78 L 285.09 756.77 L 285.24 756.76 L 285.4 756.76 L 285.52 756.75 L 285.55 756.75 L 285.71 756.74 L 285.86 756.73 L 286.02 756.73 L 286.17 756.72 L 286.33 756.71 L 286.48 756.7 L 286.63 756.7 L 286.79 756.69 L 286.94 756.68 L 287.1 756.67 L 287.25 756.66 L 287.41 756.65 L 287.56 756.65 L 287.72 756.64 L 287.84 756.63 L 287.87 756.63 L 288.03 756.62 L 288.18 756.61 L 288.33 756.6 L 288.49 756.59 L 288.64 756.58 L 288.8 756.57 L 288.95 756.56 L 289.11 756.55 L 289.26 756.54 L 289.42 756.53 L 289.57 756.52 L 289.73 756.51 L 289.88 756.5 L 290.03 756.49 L 290.16 756.48 L 290.19 756.48 L 290.34 756.47 L 290.5 756.46 L 290.65 756.45 L 290.81 756.44 L 290.96 756.43 L 291.12 756.42 L 291.27 756.4 L 291.43 756.39 L 291.58 756.38 L 291.73 756.37 L 291.89 756.35 L 292.04 756.34 L 292.2 756.33 L 292.35 756.32 L 292.48 756.31 L 292.51 756.3 L 292.66 756.29 L 292.82 756.28 L 292.97 756.26 L 293.13 756.25 L 293.28 756.24 L 293.43 756.22 L 293.59 756.21 L 293.74 756.19 L 293.9 756.18 L 294.05 756.16 L 294.21 756.15 L 294.36 756.13 L 294.52 756.11 L 294.67 756.1 L 294.79 756.09 L 294.83 756.08 L 294.98 756.07 L 295.13 756.05 L 295.29 756.03 L 295.44 756.01 L 295.6 756 L 295.75 755.98 L 295.91 755.96 L 296.06 755.94 L 296.22 755.92 L 296.37 755.9 L 296.53 755.89 L 296.68 755.87 L 296.83 755.85 L 296.99 755.82 L 297.11 755.81 L 297.14 755.8 L 297.3 755.78 L 297.45 755.76 L 297.61 755.74 L 297.76 755.72 L 297.92 755.7 L 298.07 755.67 L 298.22 755.65 L 298.38 755.63 L 298.53 755.6 L 298.69 755.58 L 298.84 755.55 L 299 755.53 L 299.15 755.5 L 299.31 755.47 L 299.43 755.45 L 299.46 755.45 L 299.62 755.42 L 299.77 755.39 L 299.92 755.36 L 300.08 755.34 L 300.23 755.31 L 300.39 755.28 L 300.54 755.25 L 300.7 755.21 L 300.85 755.18 L 301.01 755.15 L 301.16 755.12 L 301.32 755.08 L 301.47 755.05 L 301.62 755.01 L 301.75 754.99 L 301.78 754.98 L 301.93 754.94 L 302.09 754.91 L 302.24 754.87 L 302.4 754.83 L 302.55 754.79 L 302.71 754.75 L 302.86 754.71 L 303.02 754.67 L 303.17 754.63 L 303.32 754.58 L 303.48 754.54 L 303.63 754.49 L 303.79 754.45 L 303.94 754.4 L 304.07 754.36 L 304.1 754.35 L 304.25 754.3 L 304.41 754.25 L 304.56 754.2 L 304.72 754.14 L 304.87 754.09 L 305.02 754.03 L 305.18 753.98 L 305.33 753.92 L 305.49 753.86 L 305.64 753.8 L 305.8 753.74 L 305.95 753.67 L 306.11 753.61 L 306.26 753.54 L 306.38 753.49 L 306.42 753.47 L 306.57 753.4 L 306.72 753.33 L 306.88 753.26 L 307.03 753.18 L 307.19 753.1 L 307.34 753.02 L 307.5 752.94 L 307.65 752.86 L 307.81 752.77 L 307.96 752.68 L 308.12 752.59 L 308.27 752.5 L 308.42 752.4 L 308.58 752.31 L 308.7 752.23 L 308.73 752.2 L 308.89 752.1 L 309.04 751.99 L 309.2 751.88 L 309.35 751.77 L 309.51 751.65 L 309.66 751.53 L 309.82 751.41 L 309.97 751.28 L 310.12 751.15 L 310.28 751.02 L 310.43 750.88 L 310.59 750.73 L 310.74 750.59 L 310.9 750.43 L 311.02 750.31 L 311.05 750.27 L 311.21 750.11 L 311.36 749.94 L 311.52 749.77 L 311.67 749.59 L 311.82 749.4 L 311.98 749.21 L 312.13 749.01 L 312.29 748.8 L 312.44 748.59 L 312.6 748.37 L 312.75 748.14 L 312.91 747.9 L 313.06 747.66 L 313.22 747.4 L 313.34 747.19 L 313.37 747.14 L 313.52 746.86 L 313.68 746.57 L 313.83 746.28 L 313.99 745.97 L 314.14 745.64 L 314.3 745.31 L 314.45 744.96 L 314.61 744.6 L 314.76 744.22 L 314.92 743.82 L 315.07 743.41 L 315.22 742.98 L 315.38 742.53 L 315.53 742.06 L 315.66 741.66 L 315.69 741.56 L 315.84 741.05 L 316 740.51 L 316.15 739.94 L 316.31 739.35 L 316.46 738.73 L 316.62 738.07 L 316.77 737.39 L 316.92 736.67 L 317.08 735.91 L 317.23 735.11 L 317.39 734.26 L 317.54 733.37 L 317.7 732.43 L 317.85 731.44 L 317.98 730.61 L 318.01 730.39 L 318.16 729.29 L 318.32 728.11 L 318.47 726.87 L 318.62 725.55 L 318.78 724.14 L 318.93 722.66 L 319.09 721.07 L 319.24 719.39 L 319.4 717.59 L 319.55 715.68 L 319.71 713.64 L 319.86 711.45 L 320.02 709.12 L 320.17 706.63 L 320.29 704.51 L 320.32 703.96 L 320.48 701.1 L 320.63 698.04 L 320.79 694.75 L 320.94 691.23 L 321.1 687.45 L 321.25 683.4 L 321.41 679.05 L 321.56 674.39 L 321.72 669.4 L 321.87 664.06 L 322.02 658.35 L 322.18 652.27 L 322.33 645.8 L 322.49 638.96 L 322.61 633.21 L 322.64 631.74 L 322.8 624.17 L 322.95 616.29 L 323.11 608.15 L 323.26 599.84 L 323.42 591.46 L 323.57 583.15 L 323.72 575.05 L 323.88 567.35 L 324.03 560.26 L 324.19 553.99 L 324.34 548.74 L 324.5 544.7 L 324.65 542.04 L 324.81 540.85 L 324.93 541 L 324.96 541.19 L 325.12 543.05 L 325.27 546.35 L 325.42 550.95 L 325.58 556.69 L 325.73 563.36 L 325.89 570.74 L 326.04 578.64 L 326.2 586.86 L 326.35 595.23 L 326.51 603.59 L 326.66 611.83 L 326.82 619.86 L 326.97 627.61 L 327.12 635.02 L 327.25 640.7 L 327.28 642.08 L 327.43 648.75 L 327.59 655.05 L 327.74 660.96 L 327.9 666.5 L 328.05 671.68 L 328.21 676.52 L 328.36 681.04 L 328.52 685.25 L 328.67 689.18 L 328.82 692.84 L 328.98 696.26 L 329.13 699.44 L 329.29 702.41 L 329.44 705.18 L 329.57 707.26 L 329.6 707.77 L 329.75 710.19 L 329.91 712.45 L 330.06 714.57 L 330.22 716.55 L 330.37 718.41 L 330.52 720.16 L 330.68 721.8 L 330.83 723.34 L 330.99 724.78 L 331.14 726.15 L 331.3 727.43 L 331.45 728.65 L 331.61 729.79 L 331.76 730.87 L 331.88 731.69 L 331.92 731.89 L 332.07 732.86 L 332.22 733.78 L 332.38 734.65 L 332.53 735.47 L 332.69 736.25 L 332.84 736.99 L 333 737.7 L 333.15 738.37 L 333.31 739.01 L 333.46 739.62 L 333.62 740.2 L 333.77 740.75 L 333.92 741.28 L 334.08 741.79 L 334.2 742.18 L 334.23 742.27 L 334.39 742.73 L 334.54 743.17 L 334.7 743.6 L 334.85 744 L 335.01 744.39 L 335.16 744.76 L 335.32 745.12 L 335.47 745.46 L 335.62 745.79 L 335.78 746.11 L 335.93 746.41 L 336.09 746.7 L 336.24 746.99 L 336.4 747.26 L 336.52 747.47 L 336.55 747.52 L 336.71 747.77 L 336.86 748.01 L 337.02 748.24 L 337.17 748.47 L 337.32 748.69 L 337.48 748.9 L 337.63 749.1 L 337.79 749.3 L 337.94 749.49 L 338.1 749.67 L 338.25 749.85 L 338.41 750.02 L 338.56 750.18 L 338.72 750.35 L 338.84 750.47 L 338.87 750.5 L 339.02 750.65 L 339.18 750.8 L 339.33 750.94 L 339.49 751.08 L 339.64 751.21 L 339.8 751.34 L 339.95 751.47 L 340.11 751.59 L 340.26 751.71 L 340.42 751.82 L 340.57 751.93 L 340.72 752.04 L 340.88 752.15 L 341.03 752.25 L 341.16 752.33 L 341.19 752.35 L 341.34 752.45 L 341.5 752.54 L 341.65 752.63 L 341.81 752.72 L 341.96 752.81 L 342.12 752.9 L 342.27 752.98 L 342.42 753.06 L 342.58 753.14 L 342.73 753.22 L 342.89 753.29 L 343.04 753.36 L 343.2 753.43 L 343.35 753.5 L 343.48 753.56 L 343.51 753.57 L 343.66 753.64 L 343.81 753.7 L 343.97 753.77 L 344.12 753.83 L 344.28 753.89 L 344.43 753.95 L 344.59 754 L 344.74 754.06 L 344.9 754.11 L 345.05 754.17 L 345.21 754.22 L 345.36 754.27 L 345.51 754.32 L 345.67 754.37 L 345.79 754.41 L 345.82 754.42 L 345.98 754.47 L 346.13 754.51 L 346.29 754.56 L 346.44 754.6 L 346.6 754.64 L 346.75 754.69 L 346.91 754.73 L 347.06 754.77 L 347.21 754.81 L 347.37 754.85 L 347.52 754.89 L 347.68 754.92 L 347.83 754.96 L 347.99 755 L 348.11 755.02 L 348.14 755.03 L 348.3 755.07 L 348.45 755.1 L 348.61 755.13 L 348.76 755.16 L 348.91 755.2 L 349.07 755.23 L 349.22 755.26 L 349.38 755.29 L 349.53 755.32 L 349.69 755.35 L 349.84 755.38 L 350 755.4 L 350.15 755.43 L 350.31 755.46 L 350.43 755.48 L 350.46 755.49 L 350.61 755.51 L 350.77 755.54 L 350.92 755.56 L 351.08 755.59 L 351.23 755.61 L 351.39 755.64 L 351.54 755.66 L 351.7 755.68 L 351.85 755.71 L 352.01 755.73 L 352.16 755.75 L 352.31 755.77 L 352.47 755.79 L 352.62 755.81 L 352.75 755.83 L 352.78 755.83 L 352.93 755.85 L 353.09 755.87 L 353.24 755.89 L 353.4 755.91 L 353.55 755.93 L 353.71 755.95 L 353.86 755.97 L 354.01 755.99 L 354.17 756 L 354.32 756.02 L 354.48 756.04 L 354.63 756.06 L 354.79 756.07 L 354.94 756.09 L 355.07 756.1 L 355.1 756.11 L 355.25 756.12 L 355.41 756.14 L 355.56 756.15 L 355.71 756.17 L 355.87 756.18 L 356.02 756.2 L 356.18 756.21 L 356.33 756.23 L 356.49 756.24 L 356.64 756.26 L 356.8 756.27 L 356.95 756.28 L 357.11 756.3 L 357.26 756.31 L 357.38 756.32 L 357.41 756.32 L 357.57 756.34 L 357.72 756.35 L 357.88 756.36 L 358.03 756.37 L 358.19 756.38 L 358.34 756.4 L 358.5 756.41 L 358.65 756.42 L 358.81 756.43 L 358.96 756.44 L 359.11 756.45 L 359.27 756.47 L 359.42 756.48 L 359.58 756.49 L 359.7 756.5 L 359.73 756.5 L 359.89 756.51 L 360.04 756.52 L 360.2 756.53 L 360.35 756.54 L 360.51 756.55 L 360.66 756.56 L 360.81 756.57 L 360.97 756.58 L 361.12 756.59 L 361.28 756.6 L 361.43 756.61 L 361.59 756.61 L 361.74 756.62 L 361.9 756.63 L 362.02 756.64 L 362.05 756.64 L 362.21 756.65 L 362.36 756.66 L 362.51 756.67 L 362.67 756.67 L 362.82 756.68 L 362.98 756.69 L 363.13 756.7 L 363.29 756.71 L 363.44 756.72 L 363.6 756.72 L 363.75 756.73 L 363.91 756.74 L 364.06 756.75 L 364.21 756.75 L 364.34 756.76 L 364.37 756.76 L 364.52 756.77 L 364.68 756.77 L 364.83 756.78 L 364.99 756.79 L 365.14 756.8 L 365.3 756.8 L 365.45 756.81 L 365.61 756.82 L 365.76 756.82 L 365.91 756.83 L 366.07 756.84 L 366.22 756.84 L 366.38 756.85 L 366.53 756.85 L 366.66 756.86 L 366.69 756.86 L 366.84 756.87 L 367 756.87 L 367.15 756.88 L 367.31 756.88 L 367.46 756.89 L 367.61 756.9 L 367.77 756.9 L 367.92 756.91 L 368.08 756.91 L 368.23 756.92 L 368.39 756.92 L 368.54 756.93 L 368.7 756.93 L 368.85 756.94 L 368.97 756.94 L 369.01 756.95 L 369.16 756.95 L 369.31 756.96 L 369.47 756.96 L 369.62 756.97 L 369.78 756.97 L 369.93 756.98 L 370.09 756.98 L 370.24 756.99 L 370.4 756.99 L 370.55 756.99 L 370.71 757 L 370.86 757 L 371.01 757.01 L 371.17 757.01 L 371.29 757.02 L 371.32 757.02 L 371.48 757.02 L 371.63 757.03 L 371.79 757.03 L 371.94 757.04 L 372.1 757.04 L 372.25 757.04 L 372.41 757.05 L 372.56 757.05 L 372.71 757.06 L 372.87 757.06 L 373.02 757.06 L 373.18 757.07 L 373.33 757.07 L 373.49 757.08 L 373.61 757.08 L 373.64 757.08 L 373.8 757.08 L 373.95 757.09 L 374.11 757.09 L 374.26 757.1 L 374.41 757.1 L 374.57 757.1 L 374.72 757.11 L 374.88 757.11 L 375.03 757.11 L 375.19 757.12 L 375.34 757.12 L 375.5 757.12 L 375.65 757.13 L 375.81 757.13 L 375.93 757.13 L 375.96 757.13 L 376.11 757.14 L 376.27 757.14 L 376.42 757.14 L 376.58 757.15 L 376.73 757.15 L 376.89 757.15 L 377.04 757.16 L 377.2 757.16 L 377.35 757.16 L 377.51 757.17 L 377.66 757.17 L 377.81 757.17 L 377.97 757.18 L 378.12 757.18 L 378.25 757.18 L 378.28 757.18 L 378.43 757.18 L 378.59 757.19 L 378.74 757.19 L 378.9 757.19 L 379.05 757.2 L 379.21 757.2 L 379.36 757.2 L 379.51 757.2 L 379.67 757.21 L 379.82 757.21 L 379.98 757.21 L 380.13 757.22 L 380.29 757.22 L 380.44 757.22 L 380.57 757.22 L 380.6 757.22 L 380.75 757.23 L 380.91 757.23 L 381.06 757.23 L 381.21 757.23 L 381.37 757.24 L 381.52 757.24 L 381.68 757.24 L 381.83 757.24 L 381.99 757.25 L 382.14 757.25 L 382.3 757.25 L 382.45 757.25 L 382.61 757.25 L 382.76 757.26 L 382.88 757.26 L 382.91 757.26 L 383.07 757.26 L 383.22 757.26 L 383.38 757.27 L 383.53 757.27 L 383.69 757.27 L 383.84 757.27 L 384 757.28 L 384.15 757.28 L 384.31 757.28 L 384.46 757.28 L 384.61 757.28 L 384.77 757.29 L 384.92 757.29 L 385.08 757.29 L 385.2 757.29 L 385.23 757.29 L 385.39 757.29 L 385.54 757.3 L 385.7 757.3 L 385.85 757.3 L 386.01 757.3 L 386.16 757.3 L 386.31 757.31 L 386.47 757.31 L 386.62 757.31 L 386.78 757.31 L 386.93 757.31 L 387.09 757.32 L 387.24 757.32 L 387.4 757.32 L 387.52 757.32 L 387.55 757.32 L 387.71 757.32 L 387.86 757.32 L 388.01 757.33 L 388.17 757.33 L 388.32 757.33 L 388.48 757.33 L 388.63 757.33 L 388.79 757.34 L 388.94 757.34 L 389.1 757.34 L 389.25 757.34 L 389.41 757.34 L 389.56 757.34 L 389.71 757.35 L 389.84 757.35 L 389.87 757.35 L 390.02 757.35 L 390.18 757.35 L 390.33 757.35 L 390.49 757.35 L 390.64 757.36 L 390.8 757.36 L 390.95 757.36 L 391.1 757.36 L 391.26 757.36 L 391.41 757.36 L 391.57 757.36 L 391.72 757.37 L 391.88 757.37 L 392.03 757.37 L 392.16 757.37 L 392.19 757.37 L 392.34 757.37 L 392.5 757.37 L 392.65 757.37 L 392.8 757.38 L 392.96 757.38 L 393.11 757.38 L 393.27 757.38 L 393.42 757.38 L 393.58 757.38 L 393.73 757.38 L 393.89 757.39 L 394.04 757.39 L 394.2 757.39 L 394.35 757.39 L 394.47 757.39 L 394.5 757.39 L 394.66 757.39 L 394.81 757.39 L 394.97 757.4 L 395.12 757.4 L 396.79 757.41 L 399.11 757.43 L 401.43 757.44 L 403.75 757.46 L 406.06 757.47 L 408.38 757.48 L 410.7 757.49 L 413.02 757.5 L 415.34 757.51 L 417.66 757.52 L 419.97 757.53 L 422.29 757.54 L 424.61 757.55 L 426.93 757.55 L 429.25 757.56 L 431.56 757.56 L 433.88 757.57 L 436.2 757.57 L 438.52 757.58 L 440.84 757.58 L 443.15 757.59 L 445.47 757.59 L 447.79 757.6 L 450.11 757.6 L 452.43 757.6 L 454.75 757.61 L 457.06 757.61 L 459.38 757.61 L 461.7 757.61 L 464.02 757.62 L 466.34 757.62 L 468.65 757.62 L 470.97 757.62 L 473.29 757.63 L 475.61 757.63 L 477.93 757.63 L 480.25 757.63 L 482.56 757.63 L 484.88 757.64 L 487.2 757.64 L 489.52 757.64 L 491.84 757.64 L 494.15 757.64 L 496.47 757.64 L 498.79 757.64 L 501.11 757.65 L 503.43 757.65 L 505.74 757.65 L 508.06 757.65 L 510.38 757.65 L 512.7 757.65 L 515.02 757.65 L 517.34 757.65 L 519.65 757.65 L 521.97 757.65 L 524.29 757.66 L 526.61 757.66 L 528.93 757.66 L 531.24 757.66 L 533.56 757.66 L 535.88 757.66 L 538.2 757.66 L 540.52 757.66 L 542.83 757.66 L 545.15 757.66 L 547.47 757.66 L 549.79 757.66 L 552.11 757.66 L 554.43 757.66 L 556.74 757.67 L 559.06 757.67 L 561.38 757.67 L 563.7 757.67 L 566.02 757.67 L 568.33 757.67" clip-path="url(#p94c4f2e22d)" style="fill: none; stroke: #2ca02c; stroke-width: 2; stroke-linecap: square"/>
</g>
<g id="line2d_57">
<path d="M 104.71 757.67 L 107.03 757.67 L 109.34 757.67 L 111.66 757.67 L 113.98 757.67 L 116.3 757.67 L 118.62 757.67 L 120.93 757.67 L 123.25 757.67 L 125.57 757.67 L 127.89 757.67 L 130.21 757.67 L 132.52 757.67 L 134.84 757.67 L 137.16 757.67 L 139.48 757.67 L 141.8 757.67 L 144.12 757.66 L 146.43 757.66 L 148.75 757.66 L 151.07 757.66 L 153.39 757.66 L 155.71 757.66 L 158.02 757.66 L 160.34 757.66 L 162.66 757.66 L 164.98 757.66 L 167.3 757.66 L 169.61 757.66 L 171.93 757.65 L 174.25 757.65 L 176.57 757.65 L 178.89 757.65 L 181.21 757.65 L 183.52 757.65 L 185.84 757.65 L 188.16 757.65 L 190.48 757.65 L 192.8 757.64 L 195.11 757.64 L 197.43 757.64 L 199.75 757.64 L 202.07 757.64 L 204.39 757.64 L 206.7 757.63 L 209.02 757.63 L 211.34 757.63 L 213.66 757.63 L 215.98 757.62 L 218.3 757.62 L 220.61 757.62 L 222.93 757.62 L 225.25 757.61 L 227.57 757.61 L 229.89 757.61 L 232.2 757.6 L 234.52 757.6 L 236.84 757.6 L 239.16 757.59 L 241.48 757.59 L 243.8 757.58 L 246.11 757.58 L 248.43 757.57 L 250.75 757.56 L 253.07 757.56 L 255.39 757.55 L 257.7 757.54 L 260.02 757.54 L 262.34 757.53 L 264.66 757.52 L 266.98 757.51 L 269.29 757.49 L 271.61 757.48 L 273.93 757.47 L 276.25 757.45 L 278.57 757.43 L 279.22 757.43 L 279.37 757.43 L 279.53 757.43 L 279.68 757.42 L 279.83 757.42 L 279.99 757.42 L 280.14 757.42 L 280.3 757.42 L 280.45 757.42 L 280.61 757.42 L 280.76 757.41 L 280.89 757.41 L 280.92 757.41 L 281.07 757.41 L 281.23 757.41 L 281.38 757.41 L 281.53 757.41 L 281.69 757.41 L 281.84 757.4 L 282 757.4 L 282.15 757.4 L 282.31 757.4 L 282.46 757.4 L 282.62 757.4 L 282.77 757.4 L 282.93 757.39 L 283.08 757.39 L 283.2 757.39 L 283.23 757.39 L 283.39 757.39 L 283.54 757.39 L 283.7 757.39 L 283.85 757.39 L 284.01 757.38 L 284.16 757.38 L 284.32 757.38 L 284.47 757.38 L 284.63 757.38 L 284.78 757.38 L 284.93 757.37 L 285.09 757.37 L 285.24 757.37 L 285.4 757.37 L 285.52 757.37 L 285.55 757.37 L 285.71 757.37 L 285.86 757.36 L 286.02 757.36 L 286.17 757.36 L 286.33 757.36 L 286.48 757.36 L 286.63 757.35 L 286.79 757.35 L 286.94 757.35 L 287.1 757.35 L 287.25 757.35 L 287.41 757.35 L 287.56 757.34 L 287.72 757.34 L 287.84 757.34 L 287.87 757.34 L 288.03 757.34 L 288.18 757.34 L 288.33 757.33 L 288.49 757.33 L 288.64 757.33 L 288.8 757.33 L 288.95 757.33 L 289.11 757.32 L 289.26 757.32 L 289.42 757.32 L 289.57 757.32 L 289.73 757.31 L 289.88 757.31 L 290.03 757.31 L 290.16 757.31 L 290.19 757.31 L 290.34 757.31 L 290.5 757.3 L 290.65 757.3 L 290.81 757.3 L 290.96 757.3 L 291.12 757.29 L 291.27 757.29 L 291.43 757.29 L 291.58 757.29 L 291.73 757.29 L 291.89 757.28 L 292.04 757.28 L 292.2 757.28 L 292.35 757.28 L 292.48 757.27 L 292.51 757.27 L 292.66 757.27 L 292.82 757.27 L 292.97 757.27 L 293.13 757.26 L 293.28 757.26 L 293.43 757.26 L 293.59 757.25 L 293.74 757.25 L 293.9 757.25 L 294.05 757.25 L 294.21 757.24 L 294.36 757.24 L 294.52 757.24 L 294.67 757.24 L 294.79 757.23 L 294.83 757.23 L 294.98 757.23 L 295.13 757.23 L 295.29 757.22 L 295.44 757.22 L 295.6 757.22 L 295.75 757.21 L 295.91 757.21 L 296.06 757.21 L 296.22 757.2 L 296.37 757.2 L 296.53 757.2 L 296.68 757.2 L 296.83 757.19 L 296.99 757.19 L 297.11 757.19 L 297.14 757.19 L 297.3 757.18 L 297.45 757.18 L 297.61 757.18 L 297.76 757.17 L 297.92 757.17 L 298.07 757.16 L 298.22 757.16 L 298.38 757.16 L 298.53 757.15 L 298.69 757.15 L 298.84 757.15 L 299 757.14 L 299.15 757.14 L 299.31 757.13 L 299.43 757.13 L 299.46 757.13 L 299.62 757.13 L 299.77 757.12 L 299.92 757.12 L 300.08 757.12 L 300.23 757.11 L 300.39 757.11 L 300.54 757.1 L 300.7 757.1 L 300.85 757.09 L 301.01 757.09 L 301.16 757.09 L 301.32 757.08 L 301.47 757.08 L 301.62 757.07 L 301.75 757.07 L 301.78 757.07 L 301.93 757.06 L 302.09 757.06 L 302.24 757.05 L 302.4 757.05 L 302.55 757.04 L 302.71 757.04 L 302.86 757.03 L 303.02 757.03 L 303.17 757.02 L 303.32 757.02 L 303.48 757.01 L 303.63 757.01 L 303.79 757 L 303.94 757 L 304.07 756.99 L 304.1 756.99 L 304.25 756.99 L 304.41 756.98 L 304.56 756.98 L 304.72 756.97 L 304.87 756.96 L 305.02 756.96 L 305.18 756.95 L 305.33 756.95 L 305.49 756.94 L 305.64 756.93 L 305.8 756.93 L 305.95 756.92 L 306.11 756.92 L 306.26 756.91 L 306.38 756.9 L 306.42 756.9 L 306.57 756.9 L 306.72 756.89 L 306.88 756.88 L 307.03 756.88 L 307.19 756.87 L 307.34 756.86 L 307.5 756.86 L 307.65 756.85 L 307.81 756.84 L 307.96 756.83 L 308.12 756.83 L 308.27 756.82 L 308.42 756.81 L 308.58 756.8 L 308.7 756.8 L 308.73 756.8 L 308.89 756.79 L 309.04 756.78 L 309.2 756.77 L 309.35 756.76 L 309.51 756.75 L 309.66 756.75 L 309.82 756.74 L 309.97 756.73 L 310.12 756.72 L 310.28 756.71 L 310.43 756.7 L 310.59 756.69 L 310.74 756.68 L 310.9 756.67 L 311.02 756.67 L 311.05 756.66 L 311.21 756.65 L 311.36 756.64 L 311.52 756.63 L 311.67 756.62 L 311.82 756.61 L 311.98 756.6 L 312.13 756.59 L 312.29 756.58 L 312.44 756.57 L 312.6 756.56 L 312.75 756.55 L 312.91 756.54 L 313.06 756.53 L 313.22 756.51 L 313.34 756.5 L 313.37 756.5 L 313.52 756.49 L 313.68 756.48 L 313.83 756.47 L 313.99 756.45 L 314.14 756.44 L 314.3 756.43 L 314.45 756.41 L 314.61 756.4 L 314.76 756.39 L 314.92 756.37 L 315.07 756.36 L 315.22 756.34 L 315.38 756.33 L 315.53 756.31 L 315.66 756.3 L 315.69 756.3 L 315.84 756.28 L 316 756.27 L 316.15 756.25 L 316.31 756.24 L 316.46 756.22 L 316.62 756.2 L 316.77 756.19 L 316.92 756.17 L 317.08 756.15 L 317.23 756.13 L 317.39 756.11 L 317.54 756.1 L 317.7 756.08 L 317.85 756.06 L 317.98 756.04 L 318.01 756.04 L 318.16 756.02 L 318.32 756 L 318.47 755.98 L 318.62 755.96 L 318.78 755.93 L 318.93 755.91 L 319.09 755.89 L 319.24 755.87 L 319.4 755.85 L 319.55 755.82 L 319.71 755.8 L 319.86 755.77 L 320.02 755.75 L 320.17 755.72 L 320.29 755.7 L 320.32 755.7 L 320.48 755.67 L 320.63 755.64 L 320.79 755.62 L 320.94 755.59 L 321.1 755.56 L 321.25 755.53 L 321.41 755.5 L 321.56 755.47 L 321.72 755.44 L 321.87 755.41 L 322.02 755.38 L 322.18 755.34 L 322.33 755.31 L 322.49 755.27 L 322.61 755.25 L 322.64 755.24 L 322.8 755.2 L 322.95 755.17 L 323.11 755.13 L 323.26 755.09 L 323.42 755.05 L 323.57 755.01 L 323.72 754.97 L 323.88 754.93 L 324.03 754.89 L 324.19 754.84 L 324.34 754.8 L 324.5 754.75 L 324.65 754.7 L 324.81 754.65 L 324.93 754.61 L 324.96 754.6 L 325.12 754.55 L 325.27 754.5 L 325.42 754.45 L 325.58 754.39 L 325.73 754.34 L 325.89 754.28 L 326.04 754.22 L 326.2 754.16 L 326.35 754.1 L 326.51 754.04 L 326.66 753.97 L 326.82 753.9 L 326.97 753.83 L 327.12 753.76 L 327.25 753.7 L 327.28 753.69 L 327.43 753.61 L 327.59 753.54 L 327.74 753.46 L 327.9 753.38 L 328.05 753.29 L 328.21 753.21 L 328.36 753.12 L 328.52 753.03 L 328.67 752.93 L 328.82 752.84 L 328.98 752.74 L 329.13 752.63 L 329.29 752.53 L 329.44 752.42 L 329.57 752.33 L 329.6 752.3 L 329.75 752.19 L 329.91 752.07 L 330.06 751.94 L 330.22 751.81 L 330.37 751.68 L 330.52 751.54 L 330.68 751.4 L 330.83 751.25 L 330.99 751.1 L 331.14 750.94 L 331.3 750.78 L 331.45 750.61 L 331.61 750.43 L 331.76 750.25 L 331.88 750.1 L 331.92 750.06 L 332.07 749.86 L 332.22 749.66 L 332.38 749.45 L 332.53 749.23 L 332.69 749 L 332.84 748.76 L 333 748.51 L 333.15 748.25 L 333.31 747.98 L 333.46 747.7 L 333.62 747.41 L 333.77 747.1 L 333.92 746.78 L 334.08 746.44 L 334.2 746.16 L 334.23 746.09 L 334.39 745.73 L 334.54 745.34 L 334.7 744.94 L 334.85 744.52 L 335.01 744.08 L 335.16 743.61 L 335.32 743.13 L 335.47 742.61 L 335.62 742.07 L 335.78 741.5 L 335.93 740.9 L 336.09 740.27 L 336.24 739.6 L 336.4 738.9 L 336.52 738.3 L 336.55 738.15 L 336.71 737.36 L 336.86 736.52 L 337.02 735.63 L 337.17 734.69 L 337.32 733.69 L 337.48 732.62 L 337.63 731.48 L 337.79 730.27 L 337.94 728.98 L 338.1 727.6 L 338.25 726.12 L 338.41 724.53 L 338.56 722.84 L 338.72 721.01 L 338.84 719.45 L 338.87 719.05 L 339.02 716.94 L 339.18 714.67 L 339.33 712.22 L 339.49 709.57 L 339.64 706.71 L 339.8 703.61 L 339.95 700.26 L 340.11 696.62 L 340.26 692.68 L 340.42 688.4 L 340.57 683.76 L 340.72 678.72 L 340.88 673.25 L 341.03 667.33 L 341.16 662.24 L 341.19 660.92 L 341.34 653.99 L 341.5 646.54 L 341.65 638.56 L 341.81 630.04 L 341.96 621.03 L 342.12 611.59 L 342.27 601.8 L 342.42 591.8 L 342.58 581.79 L 342.73 571.99 L 342.89 562.71 L 343.04 554.25 L 343.2 546.97 L 343.35 541.2 L 343.48 537.87 L 343.51 537.23 L 343.66 535.27 L 343.81 535.44 L 343.97 537.73 L 344.12 542.01 L 344.28 548.04 L 344.43 555.53 L 344.59 564.15 L 344.74 573.54 L 344.9 583.38 L 345.05 593.41 L 345.21 603.38 L 345.36 613.12 L 345.51 622.51 L 345.67 631.44 L 345.79 638.23 L 345.82 639.87 L 345.98 647.77 L 346.13 655.14 L 346.29 661.98 L 346.44 668.31 L 346.6 674.16 L 346.75 679.55 L 346.91 684.53 L 347.06 689.11 L 347.21 693.33 L 347.37 697.22 L 347.52 700.81 L 347.68 704.12 L 347.83 707.18 L 347.99 710.01 L 348.11 712.12 L 348.14 712.62 L 348.3 715.04 L 348.45 717.29 L 348.61 719.37 L 348.76 721.31 L 348.91 723.11 L 349.07 724.79 L 349.22 726.36 L 349.38 727.82 L 349.53 729.19 L 349.69 730.47 L 349.84 731.67 L 350 732.8 L 350.15 733.85 L 350.31 734.85 L 350.43 735.6 L 350.46 735.78 L 350.61 736.66 L 350.77 737.49 L 350.92 738.27 L 351.08 739.01 L 351.23 739.71 L 351.39 740.37 L 351.54 741 L 351.7 741.6 L 351.85 742.16 L 352.01 742.7 L 352.16 743.21 L 352.31 743.69 L 352.47 744.15 L 352.62 744.59 L 352.75 744.93 L 352.78 745.01 L 352.93 745.41 L 353.09 745.79 L 353.24 746.15 L 353.4 746.5 L 353.55 746.83 L 353.71 747.15 L 353.86 747.45 L 354.01 747.74 L 354.17 748.02 L 354.32 748.29 L 354.48 748.55 L 354.63 748.8 L 354.79 749.03 L 354.94 749.26 L 355.07 749.44 L 355.1 749.48 L 355.25 749.69 L 355.41 749.89 L 355.56 750.09 L 355.71 750.28 L 355.87 750.46 L 356.02 750.63 L 356.18 750.8 L 356.33 750.97 L 356.49 751.12 L 356.64 751.27 L 356.8 751.42 L 356.95 751.56 L 357.11 751.7 L 357.26 751.83 L 357.38 751.94 L 357.41 751.96 L 357.57 752.08 L 357.72 752.21 L 357.88 752.32 L 358.03 752.43 L 358.19 752.54 L 358.34 752.65 L 358.5 752.75 L 358.65 752.85 L 358.81 752.95 L 358.96 753.04 L 359.11 753.13 L 359.27 753.22 L 359.42 753.31 L 359.58 753.39 L 359.7 753.46 L 359.73 753.47 L 359.89 753.55 L 360.04 753.63 L 360.2 753.7 L 360.35 753.77 L 360.51 753.84 L 360.66 753.91 L 360.81 753.98 L 360.97 754.05 L 361.12 754.11 L 361.28 754.17 L 361.43 754.23 L 361.59 754.29 L 361.74 754.35 L 361.9 754.4 L 362.02 754.45 L 362.05 754.46 L 362.21 754.51 L 362.36 754.56 L 362.51 754.61 L 362.67 754.66 L 362.82 754.71 L 362.98 754.76 L 363.13 754.8 L 363.29 754.85 L 363.44 754.89 L 363.6 754.93 L 363.75 754.98 L 363.91 755.02 L 364.06 755.06 L 364.21 755.1 L 364.34 755.13 L 364.37 755.14 L 364.52 755.17 L 364.68 755.21 L 364.83 755.25 L 364.99 755.28 L 365.14 755.31 L 365.3 755.35 L 365.45 755.38 L 365.61 755.41 L 365.76 755.44 L 365.91 755.48 L 366.07 755.51 L 366.22 755.54 L 366.38 755.56 L 366.53 755.59 L 366.66 755.62 L 366.69 755.62 L 366.84 755.65 L 367 755.68 L 367.15 755.7 L 367.31 755.73 L 367.46 755.75 L 367.61 755.78 L 367.77 755.8 L 367.92 755.83 L 368.08 755.85 L 368.23 755.87 L 368.39 755.89 L 368.54 755.92 L 368.7 755.94 L 368.85 755.96 L 368.97 755.98 L 369.01 755.98 L 369.16 756 L 369.31 756.02 L 369.47 756.04 L 369.62 756.06 L 369.78 756.08 L 369.93 756.1 L 370.09 756.12 L 370.24 756.14 L 370.4 756.15 L 370.55 756.17 L 370.71 756.19 L 370.86 756.21 L 371.01 756.22 L 371.17 756.24 L 371.29 756.25 L 371.32 756.25 L 371.48 756.27 L 371.63 756.29 L 371.79 756.3 L 371.94 756.32 L 372.1 756.33 L 372.25 756.35 L 372.41 756.36 L 372.56 756.37 L 372.71 756.39 L 372.87 756.4 L 373.02 756.42 L 373.18 756.43 L 373.33 756.44 L 373.49 756.45 L 373.61 756.46 L 373.64 756.47 L 373.8 756.48 L 373.95 756.49 L 374.11 756.5 L 374.26 756.52 L 374.41 756.53 L 374.57 756.54 L 374.72 756.55 L 374.88 756.56 L 375.03 756.57 L 375.19 756.58 L 375.34 756.59 L 375.5 756.61 L 375.65 756.62 L 375.81 756.63 L 375.93 756.63 L 375.96 756.64 L 376.11 756.65 L 376.27 756.66 L 376.42 756.67 L 376.58 756.68 L 376.73 756.68 L 376.89 756.69 L 377.04 756.7 L 377.2 756.71 L 377.35 756.72 L 377.51 756.73 L 377.66 756.74 L 377.81 756.75 L 377.97 756.76 L 378.12 756.76 L 378.25 756.77 L 378.28 756.77 L 378.43 756.78 L 378.59 756.79 L 378.74 756.8 L 378.9 756.8 L 379.05 756.81 L 379.21 756.82 L 379.36 756.83 L 379.51 756.83 L 379.67 756.84 L 379.82 756.85 L 379.98 756.86 L 380.13 756.86 L 380.29 756.87 L 380.44 756.88 L 380.57 756.88 L 380.6 756.88 L 380.75 756.89 L 380.91 756.9 L 381.06 756.9 L 381.21 756.91 L 381.37 756.92 L 381.52 756.92 L 381.68 756.93 L 381.83 756.94 L 381.99 756.94 L 382.14 756.95 L 382.3 756.95 L 382.45 756.96 L 382.61 756.97 L 382.76 756.97 L 382.88 756.98 L 382.91 756.98 L 383.07 756.98 L 383.22 756.99 L 383.38 756.99 L 383.53 757 L 383.69 757 L 383.84 757.01 L 384 757.01 L 384.15 757.02 L 384.31 757.02 L 384.46 757.03 L 384.61 757.03 L 384.77 757.04 L 384.92 757.04 L 385.08 757.05 L 385.2 757.05 L 385.23 757.05 L 385.39 757.06 L 385.54 757.06 L 385.7 757.07 L 385.85 757.07 L 386.01 757.08 L 386.16 757.08 L 386.31 757.09 L 386.47 757.09 L 386.62 757.09 L 386.78 757.1 L 386.93 757.1 L 387.09 757.11 L 387.24 757.11 L 387.4 757.12 L 387.52 757.12 L 387.55 757.12 L 387.71 757.12 L 387.86 757.13 L 388.01 757.13 L 388.17 757.14 L 388.32 757.14 L 388.48 757.14 L 388.63 757.15 L 388.79 757.15 L 388.94 757.15 L 389.1 757.16 L 389.25 757.16 L 389.41 757.17 L 389.56 757.17 L 389.71 757.17 L 389.84 757.18 L 389.87 757.18 L 390.02 757.18 L 390.18 757.18 L 390.33 757.19 L 390.49 757.19 L 390.64 757.19 L 390.8 757.2 L 390.95 757.2 L 391.1 757.2 L 391.26 757.21 L 391.41 757.21 L 391.57 757.21 L 391.72 757.21 L 391.88 757.22 L 392.03 757.22 L 392.16 757.22 L 392.19 757.22 L 392.34 757.23 L 392.5 757.23 L 392.65 757.23 L 392.8 757.24 L 392.96 757.24 L 393.11 757.24 L 393.27 757.24 L 393.42 757.25 L 393.58 757.25 L 393.73 757.25 L 393.89 757.26 L 394.04 757.26 L 394.2 757.26 L 394.35 757.26 L 394.47 757.27 L 394.5 757.27 L 394.66 757.27 L 394.81 757.27 L 394.97 757.27 L 395.12 757.28 L 396.79 757.3 L 399.11 757.33 L 401.43 757.36 L 403.75 757.39 L 406.06 757.41 L 408.38 757.43 L 410.7 757.45 L 413.02 757.46 L 415.34 757.48 L 417.66 757.49 L 419.97 757.5 L 422.29 757.51 L 424.61 757.52 L 426.93 757.53 L 429.25 757.54 L 431.56 757.55 L 433.88 757.56 L 436.2 757.56 L 438.52 757.57 L 440.84 757.58 L 443.15 757.58 L 445.47 757.59 L 447.79 757.59 L 450.11 757.59 L 452.43 757.6 L 454.75 757.6 L 457.06 757.61 L 459.38 757.61 L 461.7 757.61 L 464.02 757.62 L 466.34 757.62 L 468.65 757.62 L 470.97 757.62 L 473.29 757.63 L 475.61 757.63 L 477.93 757.63 L 480.25 757.63 L 482.56 757.64 L 484.88 757.64 L 487.2 757.64 L 489.52 757.64 L 491.84 757.64 L 494.15 757.64 L 496.47 757.65 L 498.79 757.65 L 501.11 757.65 L 503.43 757.65 L 505.74 757.65 L 508.06 757.65 L 510.38 757.65 L 512.7 757.65 L 515.02 757.65 L 517.34 757.66 L 519.65 757.66 L 521.97 757.66 L 524.29 757.66 L 526.61 757.66 L 528.93 757.66 L 531.24 757.66 L 533.56 757.66 L 535.88 757.66 L 538.2 757.66 L 540.52 757.66 L 542.83 757.66 L 545.15 757.67 L 547.47 757.67 L 549.79 757.67 L 552.11 757.67 L 554.43 757.67 L 556.74 757.67 L 559.06 757.67 L 561.38 757.67 L 563.7 757.67 L 566.02 757.67 L 568.33 757.67" clip-path="url(#p94c4f2e22d)" style="fill: none; stroke: #d62728; stroke-width: 2; stroke-linecap: square"/>
</g>
<g id="line2d_58">
<path d="M 104.71 757.68 L 107.03 757.68 L 109.34 757.68 L 111.66 757.68 L 113.98 757.68 L 116.3 757.68 L 118.62 757.68 L 120.93 757.68 L 123.25 757.68 L 125.57 757.67 L 127.89 757.67 L 130.21 757.67 L 132.52 757.67 L 134.84 757.67 L 137.16 757.67 L 139.48 757.67 L 141.8 757.67 L 144.12 757.67 L 146.43 757.67 L 148.75 757.67 L 151.07 757.67 L 153.39 757.67 L 155.71 757.67 L 158.02 757.67 L 160.34 757.67 L 162.66 757.67 L 164.98 757.67 L 167.3 757.66 L 169.61 757.66 L 171.93 757.66 L 174.25 757.66 L 176.57 757.66 L 178.89 757.66 L 181.21 757.66 L 183.52 757.66 L 185.84 757.66 L 188.16 757.66 L 190.48 757.66 L 192.8 757.65 L 195.11 757.65 L 197.43 757.65 L 199.75 757.65 L 202.07 757.65 L 204.39 757.65 L 206.7 757.65 L 209.02 757.64 L 211.34 757.64 L 213.66 757.64 L 215.98 757.64 L 218.3 757.64 L 220.61 757.63 L 222.93 757.63 L 225.25 757.63 L 227.57 757.63 L 229.89 757.62 L 232.2 757.62 L 234.52 757.62 L 236.84 757.61 L 239.16 757.61 L 241.48 757.61 L 243.8 757.6 L 246.11 757.6 L 248.43 757.59 L 250.75 757.59 L 253.07 757.58 L 255.39 757.57 L 257.7 757.57 L 260.02 757.56 L 262.34 757.55 L 264.66 757.54 L 266.98 757.53 L 269.29 757.52 L 271.61 757.51 L 273.93 757.49 L 276.25 757.48 L 278.57 757.46 L 279.22 757.45 L 279.37 757.45 L 279.53 757.45 L 279.68 757.45 L 279.83 757.45 L 279.99 757.45 L 280.14 757.45 L 280.3 757.44 L 280.45 757.44 L 280.61 757.44 L 280.76 757.44 L 280.89 757.44 L 280.92 757.44 L 281.07 757.44 L 281.23 757.44 L 281.38 757.43 L 281.53 757.43 L 281.69 757.43 L 281.84 757.43 L 282 757.43 L 282.15 757.43 L 282.31 757.43 L 282.46 757.42 L 282.62 757.42 L 282.77 757.42 L 282.93 757.42 L 283.08 757.42 L 283.2 757.42 L 283.23 757.42 L 283.39 757.41 L 283.54 757.41 L 283.7 757.41 L 283.85 757.41 L 284.01 757.41 L 284.16 757.41 L 284.32 757.4 L 284.47 757.4 L 284.63 757.4 L 284.78 757.4 L 284.93 757.4 L 285.09 757.4 L 285.24 757.39 L 285.4 757.39 L 285.52 757.39 L 285.55 757.39 L 285.71 757.39 L 285.86 757.39 L 286.02 757.38 L 286.17 757.38 L 286.33 757.38 L 286.48 757.38 L 286.63 757.38 L 286.79 757.38 L 286.94 757.37 L 287.1 757.37 L 287.25 757.37 L 287.41 757.37 L 287.56 757.37 L 287.72 757.36 L 287.84 757.36 L 287.87 757.36 L 288.03 757.36 L 288.18 757.36 L 288.33 757.35 L 288.49 757.35 L 288.64 757.35 L 288.8 757.35 L 288.95 757.35 L 289.11 757.34 L 289.26 757.34 L 289.42 757.34 L 289.57 757.34 L 289.73 757.33 L 289.88 757.33 L 290.03 757.33 L 290.16 757.33 L 290.19 757.33 L 290.34 757.32 L 290.5 757.32 L 290.65 757.32 L 290.81 757.32 L 290.96 757.31 L 291.12 757.31 L 291.27 757.31 L 291.43 757.31 L 291.58 757.3 L 291.73 757.3 L 291.89 757.3 L 292.04 757.3 L 292.2 757.29 L 292.35 757.29 L 292.48 757.29 L 292.51 757.29 L 292.66 757.28 L 292.82 757.28 L 292.97 757.28 L 293.13 757.28 L 293.28 757.27 L 293.43 757.27 L 293.59 757.27 L 293.74 757.26 L 293.9 757.26 L 294.05 757.26 L 294.21 757.25 L 294.36 757.25 L 294.52 757.25 L 294.67 757.24 L 294.79 757.24 L 294.83 757.24 L 294.98 757.24 L 295.13 757.23 L 295.29 757.23 L 295.44 757.23 L 295.6 757.22 L 295.75 757.22 L 295.91 757.22 L 296.06 757.21 L 296.22 757.21 L 296.37 757.21 L 296.53 757.2 L 296.68 757.2 L 296.83 757.19 L 296.99 757.19 L 297.11 757.19 L 297.14 757.19 L 297.3 757.18 L 297.45 757.18 L 297.61 757.17 L 297.76 757.17 L 297.92 757.17 L 298.07 757.16 L 298.22 757.16 L 298.38 757.15 L 298.53 757.15 L 298.69 757.15 L 298.84 757.14 L 299 757.14 L 299.15 757.13 L 299.31 757.13 L 299.43 757.12 L 299.46 757.12 L 299.62 757.12 L 299.77 757.11 L 299.92 757.11 L 300.08 757.1 L 300.23 757.1 L 300.39 757.09 L 300.54 757.09 L 300.7 757.08 L 300.85 757.08 L 301.01 757.07 L 301.16 757.07 L 301.32 757.06 L 301.47 757.05 L 301.62 757.05 L 301.75 757.04 L 301.78 757.04 L 301.93 757.04 L 302.09 757.03 L 302.24 757.03 L 302.4 757.02 L 302.55 757.01 L 302.71 757.01 L 302.86 757 L 303.02 756.99 L 303.17 756.99 L 303.32 756.98 L 303.48 756.98 L 303.63 756.97 L 303.79 756.96 L 303.94 756.95 L 304.07 756.95 L 304.1 756.95 L 304.25 756.94 L 304.41 756.93 L 304.56 756.93 L 304.72 756.92 L 304.87 756.91 L 305.02 756.9 L 305.18 756.9 L 305.33 756.89 L 305.49 756.88 L 305.64 756.87 L 305.8 756.86 L 305.95 756.86 L 306.11 756.85 L 306.26 756.84 L 306.38 756.83 L 306.42 756.83 L 306.57 756.82 L 306.72 756.81 L 306.88 756.8 L 307.03 756.79 L 307.19 756.78 L 307.34 756.77 L 307.5 756.76 L 307.65 756.75 L 307.81 756.74 L 307.96 756.73 L 308.12 756.72 L 308.27 756.71 L 308.42 756.7 L 308.58 756.69 L 308.7 756.68 L 308.73 756.68 L 308.89 756.67 L 309.04 756.66 L 309.2 756.65 L 309.35 756.63 L 309.51 756.62 L 309.66 756.61 L 309.82 756.6 L 309.97 756.58 L 310.12 756.57 L 310.28 756.56 L 310.43 756.54 L 310.59 756.53 L 310.74 756.52 L 310.9 756.5 L 311.02 756.49 L 311.05 756.49 L 311.21 756.47 L 311.36 756.46 L 311.52 756.44 L 311.67 756.43 L 311.82 756.41 L 311.98 756.4 L 312.13 756.38 L 312.29 756.36 L 312.44 756.35 L 312.6 756.33 L 312.75 756.31 L 312.91 756.29 L 313.06 756.27 L 313.22 756.26 L 313.34 756.24 L 313.37 756.24 L 313.52 756.22 L 313.68 756.2 L 313.83 756.18 L 313.99 756.16 L 314.14 756.13 L 314.3 756.11 L 314.45 756.09 L 314.61 756.07 L 314.76 756.05 L 314.92 756.02 L 315.07 756 L 315.22 755.97 L 315.38 755.95 L 315.53 755.92 L 315.66 755.9 L 315.69 755.9 L 315.84 755.87 L 316 755.84 L 316.15 755.82 L 316.31 755.79 L 316.46 755.76 L 316.62 755.73 L 316.77 755.7 L 316.92 755.67 L 317.08 755.63 L 317.23 755.6 L 317.39 755.57 L 317.54 755.53 L 317.7 755.5 L 317.85 755.46 L 317.98 755.43 L 318.01 755.42 L 318.16 755.39 L 318.32 755.35 L 318.47 755.31 L 318.62 755.27 L 318.78 755.22 L 318.93 755.18 L 319.09 755.14 L 319.24 755.09 L 319.4 755.05 L 319.55 755 L 319.71 754.95 L 319.86 754.9 L 320.02 754.85 L 320.17 754.79 L 320.29 754.75 L 320.32 754.74 L 320.48 754.68 L 320.63 754.62 L 320.79 754.56 L 320.94 754.5 L 321.1 754.44 L 321.25 754.37 L 321.41 754.31 L 321.56 754.24 L 321.72 754.17 L 321.87 754.09 L 322.02 754.02 L 322.18 753.94 L 322.33 753.86 L 322.49 753.77 L 322.61 753.7 L 322.64 753.69 L 322.8 753.6 L 322.95 753.51 L 323.11 753.41 L 323.26 753.31 L 323.42 753.21 L 323.57 753.1 L 323.72 753 L 323.88 752.88 L 324.03 752.77 L 324.19 752.64 L 324.34 752.52 L 324.5 752.39 L 324.65 752.25 L 324.81 752.11 L 324.93 751.99 L 324.96 751.96 L 325.12 751.81 L 325.27 751.65 L 325.42 751.49 L 325.58 751.32 L 325.73 751.14 L 325.89 750.95 L 326.04 750.76 L 326.2 750.55 L 326.35 750.34 L 326.51 750.12 L 326.66 749.89 L 326.82 749.65 L 326.97 749.4 L 327.12 749.13 L 327.25 748.91 L 327.28 748.85 L 327.43 748.56 L 327.59 748.26 L 327.74 747.94 L 327.9 747.6 L 328.05 747.25 L 328.21 746.87 L 328.36 746.48 L 328.52 746.06 L 328.67 745.63 L 328.82 745.16 L 328.98 744.67 L 329.13 744.16 L 329.29 743.61 L 329.44 743.03 L 329.57 742.53 L 329.6 742.41 L 329.75 741.75 L 329.91 741.05 L 330.06 740.31 L 330.22 739.51 L 330.37 738.67 L 330.52 737.76 L 330.68 736.79 L 330.83 735.75 L 330.99 734.63 L 331.14 733.43 L 331.3 732.14 L 331.45 730.74 L 331.61 729.23 L 331.76 727.6 L 331.88 726.2 L 331.92 725.84 L 332.07 723.92 L 332.22 721.83 L 332.38 719.56 L 332.53 717.08 L 332.69 714.38 L 332.84 711.41 L 333 708.17 L 333.15 704.6 L 333.31 700.68 L 333.46 696.36 L 333.62 691.6 L 333.77 686.35 L 333.92 680.56 L 334.08 674.17 L 334.2 668.59 L 334.23 667.13 L 334.39 659.39 L 334.54 650.89 L 334.7 641.62 L 334.85 631.55 L 335.01 620.73 L 335.16 609.22 L 335.32 597.19 L 335.47 584.87 L 335.62 572.61 L 335.78 560.87 L 335.93 550.18 L 336.09 541.17 L 336.24 534.4 L 336.4 530.39 L 336.52 529.38 L 336.55 529.44 L 336.71 531.64 L 336.86 536.8 L 337.02 544.53 L 337.17 554.29 L 337.32 565.47 L 337.48 577.48 L 337.63 589.81 L 337.79 602.05 L 337.94 613.9 L 338.1 625.14 L 338.25 635.67 L 338.41 645.42 L 338.56 654.38 L 338.72 662.57 L 338.84 668.59 L 338.87 670.03 L 339.02 676.8 L 339.18 682.94 L 339.33 688.51 L 339.49 693.56 L 339.64 698.14 L 339.8 702.29 L 339.95 706.07 L 340.11 709.5 L 340.26 712.63 L 340.42 715.49 L 340.57 718.1 L 340.72 720.49 L 340.88 722.69 L 341.03 724.7 L 341.16 726.2 L 341.19 726.56 L 341.34 728.27 L 341.5 729.85 L 341.65 731.31 L 341.81 732.66 L 341.96 733.92 L 342.12 735.09 L 342.27 736.17 L 342.42 737.19 L 342.58 738.13 L 342.73 739.01 L 342.89 739.84 L 343.04 740.61 L 343.2 741.34 L 343.35 742.02 L 343.48 742.53 L 343.51 742.66 L 343.66 743.26 L 343.81 743.83 L 343.97 744.37 L 344.12 744.87 L 344.28 745.35 L 344.43 745.8 L 344.59 746.23 L 344.74 746.64 L 344.9 747.02 L 345.05 747.39 L 345.21 747.74 L 345.36 748.07 L 345.51 748.38 L 345.67 748.68 L 345.79 748.91 L 345.82 748.97 L 345.98 749.24 L 346.13 749.5 L 346.29 749.75 L 346.44 749.98 L 346.6 750.21 L 346.75 750.43 L 346.91 750.64 L 347.06 750.84 L 347.21 751.03 L 347.37 751.21 L 347.52 751.39 L 347.68 751.55 L 347.83 751.72 L 347.99 751.87 L 348.11 751.99 L 348.14 752.02 L 348.3 752.17 L 348.45 752.31 L 348.61 752.44 L 348.76 752.57 L 348.91 752.69 L 349.07 752.81 L 349.22 752.93 L 349.38 753.04 L 349.53 753.15 L 349.69 753.25 L 349.84 753.35 L 350 753.45 L 350.15 753.54 L 350.31 753.63 L 350.43 753.7 L 350.46 753.72 L 350.61 753.81 L 350.77 753.89 L 350.92 753.97 L 351.08 754.05 L 351.23 754.12 L 351.39 754.19 L 351.54 754.26 L 351.7 754.33 L 351.85 754.4 L 352.01 754.46 L 352.16 754.53 L 352.31 754.59 L 352.47 754.65 L 352.62 754.7 L 352.75 754.75 L 352.78 754.76 L 352.93 754.81 L 353.09 754.87 L 353.24 754.92 L 353.4 754.97 L 353.55 755.02 L 353.71 755.06 L 353.86 755.11 L 354.01 755.16 L 354.17 755.2 L 354.32 755.24 L 354.48 755.28 L 354.63 755.32 L 354.79 755.36 L 354.94 755.4 L 355.07 755.43 L 355.1 755.44 L 355.25 755.48 L 355.41 755.51 L 355.56 755.55 L 355.71 755.58 L 355.87 755.61 L 356.02 755.65 L 356.18 755.68 L 356.33 755.71 L 356.49 755.74 L 356.64 755.77 L 356.8 755.8 L 356.95 755.83 L 357.11 755.85 L 357.26 755.88 L 357.38 755.9 L 357.41 755.91 L 357.57 755.93 L 357.72 755.96 L 357.88 755.98 L 358.03 756.01 L 358.19 756.03 L 358.34 756.06 L 358.5 756.08 L 358.65 756.1 L 358.81 756.12 L 358.96 756.14 L 359.11 756.16 L 359.27 756.19 L 359.42 756.21 L 359.58 756.22 L 359.7 756.24 L 359.73 756.24 L 359.89 756.26 L 360.04 756.28 L 360.2 756.3 L 360.35 756.32 L 360.51 756.34 L 360.66 756.35 L 360.81 756.37 L 360.97 756.39 L 361.12 756.4 L 361.28 756.42 L 361.43 756.43 L 361.59 756.45 L 361.74 756.46 L 361.9 756.48 L 362.02 756.49 L 362.05 756.49 L 362.21 756.51 L 362.36 756.52 L 362.51 756.54 L 362.67 756.55 L 362.82 756.56 L 362.98 756.58 L 363.13 756.59 L 363.29 756.6 L 363.44 756.61 L 363.6 756.63 L 363.75 756.64 L 363.91 756.65 L 364.06 756.66 L 364.21 756.67 L 364.34 756.68 L 364.37 756.68 L 364.52 756.7 L 364.68 756.71 L 364.83 756.72 L 364.99 756.73 L 365.14 756.74 L 365.3 756.75 L 365.45 756.76 L 365.61 756.77 L 365.76 756.78 L 365.91 756.79 L 366.07 756.8 L 366.22 756.81 L 366.38 756.81 L 366.53 756.82 L 366.66 756.83 L 366.69 756.83 L 366.84 756.84 L 367 756.85 L 367.15 756.86 L 367.31 756.87 L 367.46 756.87 L 367.61 756.88 L 367.77 756.89 L 367.92 756.9 L 368.08 756.91 L 368.23 756.91 L 368.39 756.92 L 368.54 756.93 L 368.7 756.94 L 368.85 756.94 L 368.97 756.95 L 369.01 756.95 L 369.16 756.96 L 369.31 756.96 L 369.47 756.97 L 369.62 756.98 L 369.78 756.98 L 369.93 756.99 L 370.09 757 L 370.24 757 L 370.4 757.01 L 370.55 757.02 L 370.71 757.02 L 370.86 757.03 L 371.01 757.03 L 371.17 757.04 L 371.29 757.04 L 371.32 757.05 L 371.48 757.05 L 371.63 757.06 L 371.79 757.06 L 371.94 757.07 L 372.1 757.07 L 372.25 757.08 L 372.41 757.08 L 372.56 757.09 L 372.71 757.09 L 372.87 757.1 L 373.02 757.1 L 373.18 757.11 L 373.33 757.11 L 373.49 757.12 L 373.61 757.12 L 373.64 757.12 L 373.8 757.13 L 373.95 757.13 L 374.11 757.14 L 374.26 757.14 L 374.41 757.15 L 374.57 757.15 L 374.72 757.16 L 374.88 757.16 L 375.03 757.16 L 375.19 757.17 L 375.34 757.17 L 375.5 757.18 L 375.65 757.18 L 375.81 757.18 L 375.93 757.19 L 375.96 757.19 L 376.11 757.19 L 376.27 757.2 L 376.42 757.2 L 376.58 757.2 L 376.73 757.21 L 376.89 757.21 L 377.04 757.22 L 377.2 757.22 L 377.35 757.22 L 377.51 757.23 L 377.66 757.23 L 377.81 757.23 L 377.97 757.24 L 378.12 757.24 L 378.25 757.24 L 378.28 757.24 L 378.43 757.25 L 378.59 757.25 L 378.74 757.25 L 378.9 757.26 L 379.05 757.26 L 379.21 757.26 L 379.36 757.27 L 379.51 757.27 L 379.67 757.27 L 379.82 757.27 L 379.98 757.28 L 380.13 757.28 L 380.29 757.28 L 380.44 757.29 L 380.57 757.29 L 380.6 757.29 L 380.75 757.29 L 380.91 757.29 L 381.06 757.3 L 381.21 757.3 L 381.37 757.3 L 381.52 757.31 L 381.68 757.31 L 381.83 757.31 L 381.99 757.31 L 382.14 757.32 L 382.3 757.32 L 382.45 757.32 L 382.61 757.32 L 382.76 757.33 L 382.88 757.33 L 382.91 757.33 L 383.07 757.33 L 383.22 757.33 L 383.38 757.34 L 383.53 757.34 L 383.69 757.34 L 383.84 757.34 L 384 757.34 L 384.15 757.35 L 384.31 757.35 L 384.46 757.35 L 384.61 757.35 L 384.77 757.36 L 384.92 757.36 L 385.08 757.36 L 385.2 757.36 L 385.23 757.36 L 385.39 757.36 L 385.54 757.37 L 385.7 757.37 L 385.85 757.37 L 386.01 757.37 L 386.16 757.37 L 386.31 757.38 L 386.47 757.38 L 386.62 757.38 L 386.78 757.38 L 386.93 757.38 L 387.09 757.39 L 387.24 757.39 L 387.4 757.39 L 387.52 757.39 L 387.55 757.39 L 387.71 757.39 L 387.86 757.39 L 388.01 757.4 L 388.17 757.4 L 388.32 757.4 L 388.48 757.4 L 388.63 757.4 L 388.79 757.41 L 388.94 757.41 L 389.1 757.41 L 389.25 757.41 L 389.41 757.41 L 389.56 757.41 L 389.71 757.42 L 389.84 757.42 L 389.87 757.42 L 390.02 757.42 L 390.18 757.42 L 390.33 757.42 L 390.49 757.42 L 390.64 757.42 L 390.8 757.43 L 390.95 757.43 L 391.1 757.43 L 391.26 757.43 L 391.41 757.43 L 391.57 757.43 L 391.72 757.43 L 391.88 757.44 L 392.03 757.44 L 392.16 757.44 L 392.19 757.44 L 392.34 757.44 L 392.5 757.44 L 392.65 757.44 L 392.8 757.44 L 392.96 757.45 L 393.11 757.45 L 393.27 757.45 L 393.42 757.45 L 393.58 757.45 L 393.73 757.45 L 393.89 757.45 L 394.04 757.46 L 394.2 757.46 L 394.35 757.46 L 394.47 757.46 L 394.5 757.46 L 394.66 757.46 L 394.81 757.46 L 394.97 757.46 L 395.12 757.46 L 396.79 757.48 L 399.11 757.49 L 401.43 757.51 L 403.75 757.52 L 406.06 757.53 L 408.38 757.54 L 410.7 757.55 L 413.02 757.56 L 415.34 757.57 L 417.66 757.57 L 419.97 757.58 L 422.29 757.59 L 424.61 757.59 L 426.93 757.6 L 429.25 757.6 L 431.56 757.61 L 433.88 757.61 L 436.2 757.61 L 438.52 757.62 L 440.84 757.62 L 443.15 757.62 L 445.47 757.63 L 447.79 757.63 L 450.11 757.63 L 452.43 757.63 L 454.75 757.64 L 457.06 757.64 L 459.38 757.64 L 461.7 757.64 L 464.02 757.64 L 466.34 757.65 L 468.65 757.65 L 470.97 757.65 L 473.29 757.65 L 475.61 757.65 L 477.93 757.65 L 480.25 757.65 L 482.56 757.66 L 484.88 757.66 L 487.2 757.66 L 489.52 757.66 L 491.84 757.66 L 494.15 757.66 L 496.47 757.66 L 498.79 757.66 L 501.11 757.66 L 503.43 757.66 L 505.74 757.66 L 508.06 757.67 L 510.38 757.67 L 512.7 757.67 L 515.02 757.67 L 517.34 757.67 L 519.65 757.67 L 521.97 757.67 L 524.29 757.67 L 526.61 757.67 L 528.93 757.67 L 531.24 757.67 L 533.56 757.67 L 535.88 757.67 L 538.2 757.67 L 540.52 757.67 L 542.83 757.67 L 545.15 757.67 L 547.47 757.67 L 549.79 757.68 L 552.11 757.68 L 554.43 757.68 L 556.74 757.68 L 559.06 757.68 L 561.38 757.68 L 563.7 757.68 L 566.02 757.68 L 568.33 757.68" clip-path="url(#p94c4f2e22d)" style="fill: none; stroke: #9467bd; stroke-width: 2; stroke-linecap: square"/>
</g>
<g id="line2d_59">
<path d="M 104.71 757.68 L 107.03 757.68 L 109.34 757.68 L 111.66 757.68 L 113.98 757.68 L 116.3 757.68 L 118.62 757.68 L 120.93 757.68 L 123.25 757.68 L 125.57 757.68 L 127.89 757.68 L 130.21 757.68 L 132.52 757.68 L 134.84 757.68 L 137.16 757.68 L 139.48 757.68 L 141.8 757.68 L 144.12 757.68 L 146.43 757.68 L 148.75 757.68 L 151.07 757.68 L 153.39 757.68 L 155.71 757.68 L 158.02 757.67 L 160.34 757.67 L 162.66 757.67 L 164.98 757.67 L 167.3 757.67 L 169.61 757.67 L 171.93 757.67 L 174.25 757.67 L 176.57 757.67 L 178.89 757.67 L 181.21 757.67 L 183.52 757.67 L 185.84 757.67 L 188.16 757.67 L 190.48 757.67 L 192.8 757.66 L 195.11 757.66 L 197.43 757.66 L 199.75 757.66 L 202.07 757.66 L 204.39 757.66 L 206.7 757.66 L 209.02 757.66 L 211.34 757.66 L 213.66 757.65 L 215.98 757.65 L 218.3 757.65 L 220.61 757.65 L 222.93 757.65 L 225.25 757.64 L 227.57 757.64 L 229.89 757.64 L 232.2 757.64 L 234.52 757.64 L 236.84 757.63 L 239.16 757.63 L 241.48 757.63 L 243.8 757.62 L 246.11 757.62 L 248.43 757.61 L 250.75 757.61 L 253.07 757.6 L 255.39 757.6 L 257.7 757.59 L 260.02 757.59 L 262.34 757.58 L 264.66 757.57 L 266.98 757.56 L 269.29 757.55 L 271.61 757.54 L 273.93 757.52 L 276.25 757.51 L 278.57 757.49 L 279.22 757.49 L 279.37 757.49 L 279.53 757.48 L 279.68 757.48 L 279.83 757.48 L 279.99 757.48 L 280.14 757.48 L 280.3 757.48 L 280.45 757.48 L 280.61 757.48 L 280.76 757.47 L 280.89 757.47 L 280.92 757.47 L 281.07 757.47 L 281.23 757.47 L 281.38 757.47 L 281.53 757.47 L 281.69 757.47 L 281.84 757.46 L 282 757.46 L 282.15 757.46 L 282.31 757.46 L 282.46 757.46 L 282.62 757.46 L 282.77 757.45 L 282.93 757.45 L 283.08 757.45 L 283.2 757.45 L 283.23 757.45 L 283.39 757.45 L 283.54 757.45 L 283.7 757.45 L 283.85 757.44 L 284.01 757.44 L 284.16 757.44 L 284.32 757.44 L 284.47 757.44 L 284.63 757.43 L 284.78 757.43 L 284.93 757.43 L 285.09 757.43 L 285.24 757.43 L 285.4 757.43 L 285.52 757.42 L 285.55 757.42 L 285.71 757.42 L 285.86 757.42 L 286.02 757.42 L 286.17 757.42 L 286.33 757.41 L 286.48 757.41 L 286.63 757.41 L 286.79 757.41 L 286.94 757.41 L 287.1 757.4 L 287.25 757.4 L 287.41 757.4 L 287.56 757.4 L 287.72 757.4 L 287.84 757.39 L 287.87 757.39 L 288.03 757.39 L 288.18 757.39 L 288.33 757.39 L 288.49 757.38 L 288.64 757.38 L 288.8 757.38 L 288.95 757.38 L 289.11 757.37 L 289.26 757.37 L 289.42 757.37 L 289.57 757.37 L 289.73 757.36 L 289.88 757.36 L 290.03 757.36 L 290.16 757.36 L 290.19 757.36 L 290.34 757.35 L 290.5 757.35 L 290.65 757.35 L 290.81 757.35 L 290.96 757.34 L 291.12 757.34 L 291.27 757.34 L 291.43 757.33 L 291.58 757.33 L 291.73 757.33 L 291.89 757.33 L 292.04 757.32 L 292.2 757.32 L 292.35 757.32 L 292.48 757.31 L 292.51 757.31 L 292.66 757.31 L 292.82 757.31 L 292.97 757.3 L 293.13 757.3 L 293.28 757.3 L 293.43 757.29 L 293.59 757.29 L 293.74 757.29 L 293.9 757.28 L 294.05 757.28 L 294.21 757.28 L 294.36 757.27 L 294.52 757.27 L 294.67 757.26 L 294.79 757.26 L 294.83 757.26 L 294.98 757.26 L 295.13 757.25 L 295.29 757.25 L 295.44 757.24 L 295.6 757.24 L 295.75 757.24 L 295.91 757.23 L 296.06 757.23 L 296.22 757.22 L 296.37 757.22 L 296.53 757.21 L 296.68 757.21 L 296.83 757.21 L 296.99 757.2 L 297.11 757.2 L 297.14 757.2 L 297.3 757.19 L 297.45 757.19 L 297.61 757.18 L 297.76 757.18 L 297.92 757.17 L 298.07 757.17 L 298.22 757.16 L 298.38 757.16 L 298.53 757.15 L 298.69 757.14 L 298.84 757.14 L 299 757.13 L 299.15 757.13 L 299.31 757.12 L 299.43 757.12 L 299.46 757.12 L 299.62 757.11 L 299.77 757.1 L 299.92 757.1 L 300.08 757.09 L 300.23 757.08 L 300.39 757.08 L 300.54 757.07 L 300.7 757.07 L 300.85 757.06 L 301.01 757.05 L 301.16 757.04 L 301.32 757.04 L 301.47 757.03 L 301.62 757.02 L 301.75 757.02 L 301.78 757.01 L 301.93 757.01 L 302.09 757 L 302.24 756.99 L 302.4 756.98 L 302.55 756.98 L 302.71 756.97 L 302.86 756.96 L 303.02 756.95 L 303.17 756.94 L 303.32 756.93 L 303.48 756.92 L 303.63 756.91 L 303.79 756.9 L 303.94 756.89 L 304.07 756.89 L 304.1 756.89 L 304.25 756.88 L 304.41 756.87 L 304.56 756.85 L 304.72 756.84 L 304.87 756.83 L 305.02 756.82 L 305.18 756.81 L 305.33 756.8 L 305.49 756.79 L 305.64 756.78 L 305.8 756.76 L 305.95 756.75 L 306.11 756.74 L 306.26 756.73 L 306.38 756.72 L 306.42 756.71 L 306.57 756.7 L 306.72 756.69 L 306.88 756.67 L 307.03 756.66 L 307.19 756.64 L 307.34 756.63 L 307.5 756.62 L 307.65 756.6 L 307.81 756.58 L 307.96 756.57 L 308.12 756.55 L 308.27 756.54 L 308.42 756.52 L 308.58 756.5 L 308.7 756.49 L 308.73 756.48 L 308.89 756.46 L 309.04 756.45 L 309.2 756.43 L 309.35 756.41 L 309.51 756.39 L 309.66 756.37 L 309.82 756.35 L 309.97 756.32 L 310.12 756.3 L 310.28 756.28 L 310.43 756.26 L 310.59 756.23 L 310.74 756.21 L 310.9 756.18 L 311.02 756.16 L 311.05 756.16 L 311.21 756.13 L 311.36 756.11 L 311.52 756.08 L 311.67 756.05 L 311.82 756.02 L 311.98 755.99 L 312.13 755.96 L 312.29 755.93 L 312.44 755.9 L 312.6 755.86 L 312.75 755.83 L 312.91 755.79 L 313.06 755.76 L 313.22 755.72 L 313.34 755.69 L 313.37 755.68 L 313.52 755.64 L 313.68 755.6 L 313.83 755.56 L 313.99 755.52 L 314.14 755.48 L 314.3 755.43 L 314.45 755.38 L 314.61 755.34 L 314.76 755.29 L 314.92 755.23 L 315.07 755.18 L 315.22 755.13 L 315.38 755.07 L 315.53 755.01 L 315.66 754.96 L 315.69 754.95 L 315.84 754.89 L 316 754.82 L 316.15 754.76 L 316.31 754.69 L 316.46 754.62 L 316.62 754.54 L 316.77 754.46 L 316.92 754.38 L 317.08 754.3 L 317.23 754.22 L 317.39 754.13 L 317.54 754.03 L 317.7 753.94 L 317.85 753.84 L 317.98 753.75 L 318.01 753.73 L 318.16 753.62 L 318.32 753.51 L 318.47 753.39 L 318.62 753.27 L 318.78 753.14 L 318.93 753.01 L 319.09 752.87 L 319.24 752.72 L 319.4 752.57 L 319.55 752.41 L 319.71 752.24 L 319.86 752.07 L 320.02 751.88 L 320.17 751.69 L 320.29 751.53 L 320.32 751.49 L 320.48 751.28 L 320.63 751.05 L 320.79 750.82 L 320.94 750.57 L 321.1 750.31 L 321.25 750.03 L 321.41 749.74 L 321.56 749.43 L 321.72 749.1 L 321.87 748.76 L 322.02 748.39 L 322.18 748 L 322.33 747.58 L 322.49 747.14 L 322.61 746.77 L 322.64 746.67 L 322.8 746.17 L 322.95 745.63 L 323.11 745.05 L 323.26 744.44 L 323.42 743.78 L 323.57 743.07 L 323.72 742.3 L 323.88 741.47 L 324.03 740.58 L 324.19 739.61 L 324.34 738.57 L 324.5 737.43 L 324.65 736.19 L 324.81 734.84 L 324.93 733.66 L 324.96 733.36 L 325.12 731.74 L 325.27 729.95 L 325.42 727.99 L 325.58 725.83 L 325.73 723.43 L 325.89 720.77 L 326.04 717.81 L 326.2 714.5 L 326.35 710.81 L 326.51 706.67 L 326.66 702.01 L 326.82 696.76 L 326.97 690.84 L 327.12 684.14 L 327.25 678.16 L 327.28 676.57 L 327.43 668.02 L 327.59 658.37 L 327.74 647.54 L 327.9 635.45 L 328.05 622.11 L 328.21 607.62 L 328.36 592.24 L 328.52 576.44 L 328.67 560.97 L 328.82 546.81 L 328.98 535.14 L 329.13 527.15 L 329.29 523.75 L 329.44 525.36 L 329.57 530.15 L 329.6 531.79 L 329.75 542.26 L 329.91 555.66 L 330.06 570.79 L 330.22 586.56 L 330.37 602.16 L 330.52 617.01 L 330.68 630.79 L 330.83 643.33 L 330.99 654.61 L 331.14 664.68 L 331.3 673.61 L 331.45 681.52 L 331.61 688.52 L 331.76 694.71 L 331.88 699.15 L 331.92 700.19 L 332.07 705.05 L 332.22 709.37 L 332.38 713.22 L 332.53 716.66 L 332.69 719.74 L 332.84 722.5 L 333 724.99 L 333.15 727.24 L 333.31 729.27 L 333.46 731.11 L 333.62 732.79 L 333.77 734.32 L 333.92 735.72 L 334.08 736.99 L 334.2 737.94 L 334.23 738.17 L 334.39 739.25 L 334.54 740.24 L 334.7 741.16 L 334.85 742.01 L 335.01 742.8 L 335.16 743.53 L 335.32 744.21 L 335.47 744.84 L 335.62 745.43 L 335.78 745.98 L 335.93 746.49 L 336.09 746.97 L 336.24 747.43 L 336.4 747.85 L 336.52 748.17 L 336.55 748.25 L 336.71 748.63 L 336.86 748.98 L 337.02 749.31 L 337.17 749.63 L 337.32 749.93 L 337.48 750.21 L 337.63 750.48 L 337.79 750.73 L 337.94 750.97 L 338.1 751.2 L 338.25 751.41 L 338.41 751.62 L 338.56 751.82 L 338.72 752 L 338.84 752.15 L 338.87 752.18 L 339.02 752.35 L 339.18 752.51 L 339.33 752.67 L 339.49 752.82 L 339.64 752.96 L 339.8 753.1 L 339.95 753.23 L 340.11 753.35 L 340.26 753.47 L 340.42 753.58 L 340.57 753.69 L 340.72 753.8 L 340.88 753.9 L 341.03 754 L 341.16 754.08 L 341.19 754.09 L 341.34 754.18 L 341.5 754.27 L 341.65 754.36 L 341.81 754.44 L 341.96 754.51 L 342.12 754.59 L 342.27 754.66 L 342.42 754.73 L 342.58 754.8 L 342.73 754.87 L 342.89 754.93 L 343.04 754.99 L 343.2 755.05 L 343.35 755.11 L 343.48 755.15 L 343.51 755.16 L 343.66 755.22 L 343.81 755.27 L 343.97 755.32 L 344.12 755.37 L 344.28 755.41 L 344.43 755.46 L 344.59 755.5 L 344.74 755.55 L 344.9 755.59 L 345.05 755.63 L 345.21 755.67 L 345.36 755.71 L 345.51 755.75 L 345.67 755.78 L 345.79 755.81 L 345.82 755.82 L 345.98 755.85 L 346.13 755.89 L 346.29 755.92 L 346.44 755.95 L 346.6 755.98 L 346.75 756.01 L 346.91 756.04 L 347.06 756.07 L 347.21 756.1 L 347.37 756.12 L 347.52 756.15 L 347.68 756.17 L 347.83 756.2 L 347.99 756.22 L 348.11 756.24 L 348.14 756.25 L 348.3 756.27 L 348.45 756.29 L 348.61 756.32 L 348.76 756.34 L 348.91 756.36 L 349.07 756.38 L 349.22 756.4 L 349.38 756.42 L 349.53 756.44 L 349.69 756.46 L 349.84 756.48 L 350 756.49 L 350.15 756.51 L 350.31 756.53 L 350.43 756.54 L 350.46 756.55 L 350.61 756.56 L 350.77 756.58 L 350.92 756.59 L 351.08 756.61 L 351.23 756.62 L 351.39 756.64 L 351.54 756.65 L 351.7 756.67 L 351.85 756.68 L 352.01 756.7 L 352.16 756.71 L 352.31 756.72 L 352.47 756.74 L 352.62 756.75 L 352.75 756.76 L 352.78 756.76 L 352.93 756.77 L 353.09 756.78 L 353.24 756.8 L 353.4 756.81 L 353.55 756.82 L 353.71 756.83 L 353.86 756.84 L 354.01 756.85 L 354.17 756.86 L 354.32 756.87 L 354.48 756.88 L 354.63 756.89 L 354.79 756.9 L 354.94 756.91 L 355.07 756.92 L 355.1 756.92 L 355.25 756.93 L 355.41 756.94 L 355.56 756.95 L 355.71 756.96 L 355.87 756.96 L 356.02 756.97 L 356.18 756.98 L 356.33 756.99 L 356.49 757 L 356.64 757 L 356.8 757.01 L 356.95 757.02 L 357.11 757.03 L 357.26 757.03 L 357.38 757.04 L 357.41 757.04 L 357.57 757.05 L 357.72 757.06 L 357.88 757.06 L 358.03 757.07 L 358.19 757.08 L 358.34 757.08 L 358.5 757.09 L 358.65 757.1 L 358.81 757.1 L 358.96 757.11 L 359.11 757.11 L 359.27 757.12 L 359.42 757.13 L 359.58 757.13 L 359.7 757.14 L 359.73 757.14 L 359.89 757.14 L 360.04 757.15 L 360.2 757.15 L 360.35 757.16 L 360.51 757.16 L 360.66 757.17 L 360.81 757.17 L 360.97 757.18 L 361.12 757.18 L 361.28 757.19 L 361.43 757.19 L 361.59 757.2 L 361.74 757.2 L 361.9 757.21 L 362.02 757.21 L 362.05 757.21 L 362.21 757.22 L 362.36 757.22 L 362.51 757.23 L 362.67 757.23 L 362.82 757.23 L 362.98 757.24 L 363.13 757.24 L 363.29 757.25 L 363.44 757.25 L 363.6 757.25 L 363.75 757.26 L 363.91 757.26 L 364.06 757.27 L 364.21 757.27 L 364.34 757.27 L 364.37 757.27 L 364.52 757.28 L 364.68 757.28 L 364.83 757.28 L 364.99 757.29 L 365.14 757.29 L 365.3 757.3 L 365.45 757.3 L 365.61 757.3 L 365.76 757.31 L 365.91 757.31 L 366.07 757.31 L 366.22 757.31 L 366.38 757.32 L 366.53 757.32 L 366.66 757.32 L 366.69 757.32 L 366.84 757.33 L 367 757.33 L 367.15 757.33 L 367.31 757.34 L 367.46 757.34 L 367.61 757.34 L 367.77 757.34 L 367.92 757.35 L 368.08 757.35 L 368.23 757.35 L 368.39 757.36 L 368.54 757.36 L 368.7 757.36 L 368.85 757.36 L 368.97 757.37 L 369.01 757.37 L 369.16 757.37 L 369.31 757.37 L 369.47 757.37 L 369.62 757.38 L 369.78 757.38 L 369.93 757.38 L 370.09 757.38 L 370.24 757.39 L 370.4 757.39 L 370.55 757.39 L 370.71 757.39 L 370.86 757.39 L 371.01 757.4 L 371.17 757.4 L 371.29 757.4 L 371.32 757.4 L 371.48 757.4 L 371.63 757.41 L 371.79 757.41 L 371.94 757.41 L 372.1 757.41 L 372.25 757.41 L 372.41 757.42 L 372.56 757.42 L 372.71 757.42 L 372.87 757.42 L 373.02 757.42 L 373.18 757.42 L 373.33 757.43 L 373.49 757.43 L 373.61 757.43 L 373.64 757.43 L 373.8 757.43 L 373.95 757.43 L 374.11 757.44 L 374.26 757.44 L 374.41 757.44 L 374.57 757.44 L 374.72 757.44 L 374.88 757.44 L 375.03 757.45 L 375.19 757.45 L 375.34 757.45 L 375.5 757.45 L 375.65 757.45 L 375.81 757.45 L 375.93 757.46 L 375.96 757.46 L 376.11 757.46 L 376.27 757.46 L 376.42 757.46 L 376.58 757.46 L 376.73 757.46 L 376.89 757.46 L 377.04 757.47 L 377.2 757.47 L 377.35 757.47 L 377.51 757.47 L 377.66 757.47 L 377.81 757.47 L 377.97 757.47 L 378.12 757.48 L 378.25 757.48 L 378.28 757.48 L 378.43 757.48 L 378.59 757.48 L 378.74 757.48 L 378.9 757.48 L 379.05 757.48 L 379.21 757.49 L 379.36 757.49 L 379.51 757.49 L 379.67 757.49 L 379.82 757.49 L 379.98 757.49 L 380.13 757.49 L 380.29 757.49 L 380.44 757.5 L 380.57 757.5 L 380.6 757.5 L 380.75 757.5 L 380.91 757.5 L 381.06 757.5 L 381.21 757.5 L 381.37 757.5 L 381.52 757.5 L 381.68 757.5 L 381.83 757.51 L 381.99 757.51 L 382.14 757.51 L 382.3 757.51 L 382.45 757.51 L 382.61 757.51 L 382.76 757.51 L 382.88 757.51 L 382.91 757.51 L 383.07 757.51 L 383.22 757.52 L 383.38 757.52 L 383.53 757.52 L 383.69 757.52 L 383.84 757.52 L 384 757.52 L 384.15 757.52 L 384.31 757.52 L 384.46 757.52 L 384.61 757.52 L 384.77 757.52 L 384.92 757.53 L 385.08 757.53 L 385.2 757.53 L 385.23 757.53 L 385.39 757.53 L 385.54 757.53 L 385.7 757.53 L 385.85 757.53 L 386.01 757.53 L 386.16 757.53 L 386.31 757.53 L 386.47 757.53 L 386.62 757.54 L 386.78 757.54 L 386.93 757.54 L 387.09 757.54 L 387.24 757.54 L 387.4 757.54 L 387.52 757.54 L 387.55 757.54 L 387.71 757.54 L 387.86 757.54 L 388.01 757.54 L 388.17 757.54 L 388.32 757.54 L 388.48 757.55 L 388.63 757.55 L 388.79 757.55 L 388.94 757.55 L 389.1 757.55 L 389.25 757.55 L 389.41 757.55 L 389.56 757.55 L 389.71 757.55 L 389.84 757.55 L 389.87 757.55 L 390.02 757.55 L 390.18 757.55 L 390.33 757.55 L 390.49 757.55 L 390.64 757.56 L 390.8 757.56 L 390.95 757.56 L 391.1 757.56 L 391.26 757.56 L 391.41 757.56 L 391.57 757.56 L 391.72 757.56 L 391.88 757.56 L 392.03 757.56 L 392.16 757.56 L 392.19 757.56 L 392.34 757.56 L 392.5 757.56 L 392.65 757.56 L 392.8 757.56 L 392.96 757.57 L 393.11 757.57 L 393.27 757.57 L 393.42 757.57 L 393.58 757.57 L 393.73 757.57 L 393.89 757.57 L 394.04 757.57 L 394.2 757.57 L 394.35 757.57 L 394.47 757.57 L 394.5 757.57 L 394.66 757.57 L 394.81 757.57 L 394.97 757.57 L 395.12 757.57 L 396.79 757.58 L 399.11 757.59 L 401.43 757.59 L 403.75 757.6 L 406.06 757.6 L 408.38 757.61 L 410.7 757.61 L 413.02 757.62 L 415.34 757.62 L 417.66 757.63 L 419.97 757.63 L 422.29 757.63 L 424.61 757.64 L 426.93 757.64 L 429.25 757.64 L 431.56 757.64 L 433.88 757.65 L 436.2 757.65 L 438.52 757.65 L 440.84 757.65 L 443.15 757.65 L 445.47 757.65 L 447.79 757.66 L 450.11 757.66 L 452.43 757.66 L 454.75 757.66 L 457.06 757.66 L 459.38 757.66 L 461.7 757.66 L 464.02 757.66 L 466.34 757.66 L 468.65 757.67 L 470.97 757.67 L 473.29 757.67 L 475.61 757.67 L 477.93 757.67 L 480.25 757.67 L 482.56 757.67 L 484.88 757.67 L 487.2 757.67 L 489.52 757.67 L 491.84 757.67 L 494.15 757.67 L 496.47 757.67 L 498.79 757.67 L 501.11 757.67 L 503.43 757.68 L 505.74 757.68 L 508.06 757.68 L 510.38 757.68 L 512.7 757.68 L 515.02 757.68 L 517.34 757.68 L 519.65 757.68 L 521.97 757.68 L 524.29 757.68 L 526.61 757.68 L 528.93 757.68 L 531.24 757.68 L 533.56 757.68 L 535.88 757.68 L 538.2 757.68 L 540.52 757.68 L 542.83 757.68 L 545.15 757.68 L 547.47 757.68 L 549.79 757.68 L 552.11 757.68 L 554.43 757.68 L 556.74 757.68 L 559.06 757.68 L 561.38 757.68 L 563.7 757.68 L 566.02 757.68 L 568.33 757.68" clip-path="url(#p94c4f2e22d)" style="fill: none; stroke: #8c564b; stroke-width: 2; stroke-linecap: square"/>
</g>
<g id="line2d_60">
<path d="M 104.71 757.69 L 107.03 757.69 L 109.34 757.69 L 111.66 757.69 L 113.98 757.69 L 116.3 757.69 L 118.62 757.69 L 120.93 757.69 L 123.25 757.69 L 125.57 757.69 L 127.89 757.69 L 130.21 757.69 L 132.52 757.69 L 134.84 757.69 L 137.16 757.68 L 139.48 757.68 L 141.8 757.68 L 144.12 757.68 L 146.43 757.68 L 148.75 757.68 L 151.07 757.68 L 153.39 757.68 L 155.71 757.68 L 158.02 757.68 L 160.34 757.68 L 162.66 757.68 L 164.98 757.68 L 167.3 757.68 L 169.61 757.68 L 171.93 757.68 L 174.25 757.68 L 176.57 757.68 L 178.89 757.68 L 181.21 757.68 L 183.52 757.68 L 185.84 757.68 L 188.16 757.68 L 190.48 757.68 L 192.8 757.68 L 195.11 757.68 L 197.43 757.68 L 199.75 757.68 L 202.07 757.68 L 204.39 757.68 L 206.7 757.67 L 209.02 757.67 L 211.34 757.67 L 213.66 757.67 L 215.98 757.67 L 218.3 757.67 L 220.61 757.67 L 222.93 757.67 L 225.25 757.67 L 227.57 757.67 L 229.89 757.67 L 232.2 757.67 L 234.52 757.66 L 236.84 757.66 L 239.16 757.66 L 241.48 757.66 L 243.8 757.66 L 246.11 757.66 L 248.43 757.65 L 250.75 757.65 L 253.07 757.65 L 255.39 757.65 L 257.7 757.64 L 260.02 757.64 L 262.34 757.64 L 264.66 757.63 L 266.98 757.63 L 269.29 757.63 L 271.61 757.62 L 273.93 757.62 L 276.25 757.61 L 278.57 757.6 L 279.22 757.6 L 279.37 757.6 L 279.53 757.6 L 279.68 757.6 L 279.83 757.6 L 279.99 757.6 L 280.14 757.6 L 280.3 757.6 L 280.45 757.6 L 280.61 757.6 L 280.76 757.6 L 280.89 757.6 L 280.92 757.6 L 281.07 757.6 L 281.23 757.6 L 281.38 757.59 L 281.53 757.59 L 281.69 757.59 L 281.84 757.59 L 282 757.59 L 282.15 757.59 L 282.31 757.59 L 282.46 757.59 L 282.62 757.59 L 282.77 757.59 L 282.93 757.59 L 283.08 757.59 L 283.2 757.59 L 283.23 757.59 L 283.39 757.59 L 283.54 757.59 L 283.7 757.59 L 283.85 757.59 L 284.01 757.58 L 284.16 757.58 L 284.32 757.58 L 284.47 757.58 L 284.63 757.58 L 284.78 757.58 L 284.93 757.58 L 285.09 757.58 L 285.24 757.58 L 285.4 757.58 L 285.52 757.58 L 285.55 757.58 L 285.71 757.58 L 285.86 757.58 L 286.02 757.58 L 286.17 757.58 L 286.33 757.57 L 286.48 757.57 L 286.63 757.57 L 286.79 757.57 L 286.94 757.57 L 287.1 757.57 L 287.25 757.57 L 287.41 757.57 L 287.56 757.57 L 287.72 757.57 L 287.84 757.57 L 287.87 757.57 L 288.03 757.57 L 288.18 757.57 L 288.33 757.56 L 288.49 757.56 L 288.64 757.56 L 288.8 757.56 L 288.95 757.56 L 289.11 757.56 L 289.26 757.56 L 289.42 757.56 L 289.57 757.56 L 289.73 757.56 L 289.88 757.56 L 290.03 757.56 L 290.16 757.55 L 290.19 757.55 L 290.34 757.55 L 290.5 757.55 L 290.65 757.55 L 290.81 757.55 L 290.96 757.55 L 291.12 757.55 L 291.27 757.55 L 291.43 757.55 L 291.58 757.55 L 291.73 757.54 L 291.89 757.54 L 292.04 757.54 L 292.2 757.54 L 292.35 757.54 L 292.48 757.54 L 292.51 757.54 L 292.66 757.54 L 292.82 757.54 L 292.97 757.54 L 293.13 757.53 L 293.28 757.53 L 293.43 757.53 L 293.59 757.53 L 293.74 757.53 L 293.9 757.53 L 294.05 757.53 L 294.21 757.53 L 294.36 757.53 L 294.52 757.52 L 294.67 757.52 L 294.79 757.52 L 294.83 757.52 L 294.98 757.52 L 295.13 757.52 L 295.29 757.52 L 295.44 757.52 L 295.6 757.52 L 295.75 757.51 L 295.91 757.51 L 296.06 757.51 L 296.22 757.51 L 296.37 757.51 L 296.53 757.51 L 296.68 757.51 L 296.83 757.5 L 296.99 757.5 L 297.11 757.5 L 297.14 757.5 L 297.3 757.5 L 297.45 757.5 L 297.61 757.5 L 297.76 757.49 L 297.92 757.49 L 298.07 757.49 L 298.22 757.49 L 298.38 757.49 L 298.53 757.49 L 298.69 757.49 L 298.84 757.48 L 299 757.48 L 299.15 757.48 L 299.31 757.48 L 299.43 757.48 L 299.46 757.48 L 299.62 757.47 L 299.77 757.47 L 299.92 757.47 L 300.08 757.47 L 300.23 757.47 L 300.39 757.47 L 300.54 757.46 L 300.7 757.46 L 300.85 757.46 L 301.01 757.46 L 301.16 757.46 L 301.32 757.45 L 301.47 757.45 L 301.62 757.45 L 301.75 757.45 L 301.78 757.45 L 301.93 757.44 L 302.09 757.44 L 302.24 757.44 L 302.4 757.44 L 302.55 757.44 L 302.71 757.43 L 302.86 757.43 L 303.02 757.43 L 303.17 757.43 L 303.32 757.42 L 303.48 757.42 L 303.63 757.42 L 303.79 757.42 L 303.94 757.41 L 304.07 757.41 L 304.1 757.41 L 304.25 757.41 L 304.41 757.4 L 304.56 757.4 L 304.72 757.4 L 304.87 757.4 L 305.02 757.39 L 305.18 757.39 L 305.33 757.39 L 305.49 757.38 L 305.64 757.38 L 305.8 757.38 L 305.95 757.38 L 306.11 757.37 L 306.26 757.37 L 306.38 757.37 L 306.42 757.37 L 306.57 757.36 L 306.72 757.36 L 306.88 757.35 L 307.03 757.35 L 307.19 757.35 L 307.34 757.34 L 307.5 757.34 L 307.65 757.34 L 307.81 757.33 L 307.96 757.33 L 308.12 757.33 L 308.27 757.32 L 308.42 757.32 L 308.58 757.31 L 308.7 757.31 L 308.73 757.31 L 308.89 757.3 L 309.04 757.3 L 309.2 757.3 L 309.35 757.29 L 309.51 757.29 L 309.66 757.28 L 309.82 757.28 L 309.97 757.27 L 310.12 757.27 L 310.28 757.26 L 310.43 757.26 L 310.59 757.25 L 310.74 757.25 L 310.9 757.24 L 311.02 757.24 L 311.05 757.24 L 311.21 757.23 L 311.36 757.22 L 311.52 757.22 L 311.67 757.21 L 311.82 757.21 L 311.98 757.2 L 312.13 757.19 L 312.29 757.19 L 312.44 757.18 L 312.6 757.17 L 312.75 757.17 L 312.91 757.16 L 313.06 757.15 L 313.22 757.15 L 313.34 757.14 L 313.37 757.14 L 313.52 757.13 L 313.68 757.12 L 313.83 757.12 L 313.99 757.11 L 314.14 757.1 L 314.3 757.09 L 314.45 757.08 L 314.61 757.08 L 314.76 757.07 L 314.92 757.06 L 315.07 757.05 L 315.22 757.04 L 315.38 757.03 L 315.53 757.02 L 315.66 757.01 L 315.69 757.01 L 315.84 757 L 316 756.99 L 316.15 756.98 L 316.31 756.97 L 316.46 756.96 L 316.62 756.95 L 316.77 756.93 L 316.92 756.92 L 317.08 756.91 L 317.23 756.9 L 317.39 756.88 L 317.54 756.87 L 317.7 756.86 L 317.85 756.84 L 317.98 756.83 L 318.01 756.83 L 318.16 756.82 L 318.32 756.8 L 318.47 756.78 L 318.62 756.77 L 318.78 756.75 L 318.93 756.74 L 319.09 756.72 L 319.24 756.7 L 319.4 756.68 L 319.55 756.67 L 319.71 756.65 L 319.86 756.63 L 320.02 756.61 L 320.17 756.59 L 320.29 756.57 L 320.32 756.57 L 320.48 756.54 L 320.63 756.52 L 320.79 756.5 L 320.94 756.48 L 321.1 756.45 L 321.25 756.43 L 321.41 756.4 L 321.56 756.37 L 321.72 756.35 L 321.87 756.32 L 322.02 756.29 L 322.18 756.26 L 322.33 756.23 L 322.49 756.19 L 322.61 756.17 L 322.64 756.16 L 322.8 756.13 L 322.95 756.09 L 323.11 756.05 L 323.26 756.02 L 323.42 755.98 L 323.57 755.94 L 323.72 755.89 L 323.88 755.85 L 324.03 755.8 L 324.19 755.76 L 324.34 755.71 L 324.5 755.66 L 324.65 755.6 L 324.81 755.55 L 324.93 755.5 L 324.96 755.49 L 325.12 755.43 L 325.27 755.37 L 325.42 755.31 L 325.58 755.24 L 325.73 755.17 L 325.89 755.1 L 326.04 755.02 L 326.2 754.94 L 326.35 754.86 L 326.51 754.77 L 326.66 754.68 L 326.82 754.58 L 326.97 754.48 L 327.12 754.38 L 327.25 754.29 L 327.28 754.27 L 327.43 754.15 L 327.59 754.03 L 327.74 753.9 L 327.9 753.77 L 328.05 753.62 L 328.21 753.47 L 328.36 753.32 L 328.52 753.15 L 328.67 752.97 L 328.82 752.78 L 328.98 752.58 L 329.13 752.37 L 329.29 752.15 L 329.44 751.91 L 329.57 751.71 L 329.6 751.66 L 329.75 751.38 L 329.91 751.09 L 330.06 750.78 L 330.22 750.45 L 330.37 750.1 L 330.52 749.71 L 330.68 749.3 L 330.83 748.85 L 330.99 748.37 L 331.14 747.85 L 331.3 747.29 L 331.45 746.67 L 331.61 746 L 331.76 745.27 L 331.88 744.64 L 331.92 744.47 L 332.07 743.59 L 332.22 742.62 L 332.38 741.55 L 332.53 740.37 L 332.69 739.06 L 332.84 737.59 L 333 735.95 L 333.15 734.11 L 333.31 732.04 L 333.46 729.69 L 333.62 727.03 L 333.77 723.98 L 333.92 720.49 L 334.08 716.47 L 334.2 712.8 L 334.23 711.81 L 334.39 706.4 L 334.54 700.07 L 334.7 692.65 L 334.85 683.93 L 335.01 673.65 L 335.16 661.56 L 335.32 647.4 L 335.47 630.98 L 335.62 612.31 L 335.78 591.72 L 335.93 570.19 L 336.09 549.45 L 336.24 532.06 L 336.4 520.88 L 336.52 517.96 L 336.55 518.15 L 336.71 524.44 L 336.86 538.43 L 337.02 557.5 L 337.17 578.83 L 337.32 600.14 L 337.48 620.04 L 337.63 637.83 L 337.79 653.33 L 337.94 666.63 L 338.1 677.97 L 338.25 687.59 L 338.41 695.76 L 338.56 702.72 L 338.72 708.66 L 338.84 712.8 L 338.87 713.76 L 339.02 718.15 L 339.18 721.95 L 339.33 725.25 L 339.49 728.14 L 339.64 730.67 L 339.8 732.9 L 339.95 734.88 L 340.11 736.63 L 340.26 738.2 L 340.42 739.6 L 340.57 740.86 L 340.72 741.99 L 340.88 743.02 L 341.03 743.95 L 341.16 744.64 L 341.19 744.8 L 341.34 745.57 L 341.5 746.28 L 341.65 746.92 L 341.81 747.52 L 341.96 748.07 L 342.12 748.57 L 342.27 749.04 L 342.42 749.47 L 342.58 749.87 L 342.73 750.24 L 342.89 750.59 L 343.04 750.91 L 343.2 751.21 L 343.35 751.5 L 343.48 751.71 L 343.51 751.76 L 343.66 752.01 L 343.81 752.24 L 343.97 752.46 L 344.12 752.67 L 344.28 752.86 L 344.43 753.04 L 344.59 753.22 L 344.74 753.38 L 344.9 753.54 L 345.05 753.68 L 345.21 753.82 L 345.36 753.95 L 345.51 754.08 L 345.67 754.2 L 345.79 754.29 L 345.82 754.31 L 345.98 754.42 L 346.13 754.52 L 346.29 754.62 L 346.44 754.71 L 346.6 754.8 L 346.75 754.89 L 346.91 754.97 L 347.06 755.05 L 347.21 755.12 L 347.37 755.2 L 347.52 755.27 L 347.68 755.33 L 347.83 755.4 L 347.99 755.46 L 348.11 755.5 L 348.14 755.51 L 348.3 755.57 L 348.45 755.63 L 348.61 755.68 L 348.76 755.73 L 348.91 755.78 L 349.07 755.82 L 349.22 755.87 L 349.38 755.91 L 349.53 755.95 L 349.69 755.99 L 349.84 756.03 L 350 756.07 L 350.15 756.11 L 350.31 756.14 L 350.43 756.17 L 350.46 756.17 L 350.61 756.21 L 350.77 756.24 L 350.92 756.27 L 351.08 756.3 L 351.23 756.33 L 351.39 756.36 L 351.54 756.38 L 351.7 756.41 L 351.85 756.44 L 352.01 756.46 L 352.16 756.48 L 352.31 756.51 L 352.47 756.53 L 352.62 756.55 L 352.75 756.57 L 352.78 756.57 L 352.93 756.6 L 353.09 756.62 L 353.24 756.64 L 353.4 756.65 L 353.55 756.67 L 353.71 756.69 L 353.86 756.71 L 354.01 756.73 L 354.17 756.74 L 354.32 756.76 L 354.48 756.78 L 354.63 756.79 L 354.79 756.81 L 354.94 756.82 L 355.07 756.83 L 355.1 756.84 L 355.25 756.85 L 355.41 756.86 L 355.56 756.88 L 355.71 756.89 L 355.87 756.9 L 356.02 756.91 L 356.18 756.93 L 356.33 756.94 L 356.49 756.95 L 356.64 756.96 L 356.8 756.97 L 356.95 756.98 L 357.11 756.99 L 357.26 757 L 357.38 757.01 L 357.41 757.01 L 357.57 757.02 L 357.72 757.03 L 357.88 757.04 L 358.03 757.05 L 358.19 757.06 L 358.34 757.07 L 358.5 757.08 L 358.65 757.09 L 358.81 757.1 L 358.96 757.1 L 359.11 757.11 L 359.27 757.12 L 359.42 757.13 L 359.58 757.14 L 359.7 757.14 L 359.73 757.14 L 359.89 757.15 L 360.04 757.16 L 360.2 757.16 L 360.35 757.17 L 360.51 757.18 L 360.66 757.18 L 360.81 757.19 L 360.97 757.2 L 361.12 757.2 L 361.28 757.21 L 361.43 757.22 L 361.59 757.22 L 361.74 757.23 L 361.9 757.23 L 362.02 757.24 L 362.05 757.24 L 362.21 757.24 L 362.36 757.25 L 362.51 757.25 L 362.67 757.26 L 362.82 757.26 L 362.98 757.27 L 363.13 757.27 L 363.29 757.28 L 363.44 757.28 L 363.6 757.29 L 363.75 757.29 L 363.91 757.3 L 364.06 757.3 L 364.21 757.31 L 364.34 757.31 L 364.37 757.31 L 364.52 757.31 L 364.68 757.32 L 364.83 757.32 L 364.99 757.33 L 365.14 757.33 L 365.3 757.33 L 365.45 757.34 L 365.61 757.34 L 365.76 757.35 L 365.91 757.35 L 366.07 757.35 L 366.22 757.36 L 366.38 757.36 L 366.53 757.36 L 366.66 757.37 L 366.69 757.37 L 366.84 757.37 L 367 757.37 L 367.15 757.38 L 367.31 757.38 L 367.46 757.38 L 367.61 757.39 L 367.77 757.39 L 367.92 757.39 L 368.08 757.39 L 368.23 757.4 L 368.39 757.4 L 368.54 757.4 L 368.7 757.41 L 368.85 757.41 L 368.97 757.41 L 369.01 757.41 L 369.16 757.41 L 369.31 757.42 L 369.47 757.42 L 369.62 757.42 L 369.78 757.42 L 369.93 757.43 L 370.09 757.43 L 370.24 757.43 L 370.4 757.43 L 370.55 757.44 L 370.71 757.44 L 370.86 757.44 L 371.01 757.44 L 371.17 757.45 L 371.29 757.45 L 371.32 757.45 L 371.48 757.45 L 371.63 757.45 L 371.79 757.45 L 371.94 757.46 L 372.1 757.46 L 372.25 757.46 L 372.41 757.46 L 372.56 757.46 L 372.71 757.47 L 372.87 757.47 L 373.02 757.47 L 373.18 757.47 L 373.33 757.47 L 373.49 757.48 L 373.61 757.48 L 373.64 757.48 L 373.8 757.48 L 373.95 757.48 L 374.11 757.48 L 374.26 757.48 L 374.41 757.49 L 374.57 757.49 L 374.72 757.49 L 374.88 757.49 L 375.03 757.49 L 375.19 757.49 L 375.34 757.5 L 375.5 757.5 L 375.65 757.5 L 375.81 757.5 L 375.93 757.5 L 375.96 757.5 L 376.11 757.5 L 376.27 757.5 L 376.42 757.51 L 376.58 757.51 L 376.73 757.51 L 376.89 757.51 L 377.04 757.51 L 377.2 757.51 L 377.35 757.51 L 377.51 757.52 L 377.66 757.52 L 377.81 757.52 L 377.97 757.52 L 378.12 757.52 L 378.25 757.52 L 378.28 757.52 L 378.43 757.52 L 378.59 757.52 L 378.74 757.53 L 378.9 757.53 L 379.05 757.53 L 379.21 757.53 L 379.36 757.53 L 379.51 757.53 L 379.67 757.53 L 379.82 757.53 L 379.98 757.54 L 380.13 757.54 L 380.29 757.54 L 380.44 757.54 L 380.57 757.54 L 380.6 757.54 L 380.75 757.54 L 380.91 757.54 L 381.06 757.54 L 381.21 757.54 L 381.37 757.54 L 381.52 757.55 L 381.68 757.55 L 381.83 757.55 L 381.99 757.55 L 382.14 757.55 L 382.3 757.55 L 382.45 757.55 L 382.61 757.55 L 382.76 757.55 L 382.88 757.55 L 382.91 757.55 L 383.07 757.56 L 383.22 757.56 L 383.38 757.56 L 383.53 757.56 L 383.69 757.56 L 383.84 757.56 L 384 757.56 L 384.15 757.56 L 384.31 757.56 L 384.46 757.56 L 384.61 757.56 L 384.77 757.56 L 384.92 757.57 L 385.08 757.57 L 385.2 757.57 L 385.23 757.57 L 385.39 757.57 L 385.54 757.57 L 385.7 757.57 L 385.85 757.57 L 386.01 757.57 L 386.16 757.57 L 386.31 757.57 L 386.47 757.57 L 386.62 757.57 L 386.78 757.57 L 386.93 757.58 L 387.09 757.58 L 387.24 757.58 L 387.4 757.58 L 387.52 757.58 L 387.55 757.58 L 387.71 757.58 L 387.86 757.58 L 388.01 757.58 L 388.17 757.58 L 388.32 757.58 L 388.48 757.58 L 388.63 757.58 L 388.79 757.58 L 388.94 757.58 L 389.1 757.59 L 389.25 757.59 L 389.41 757.59 L 389.56 757.59 L 389.71 757.59 L 389.84 757.59 L 389.87 757.59 L 390.02 757.59 L 390.18 757.59 L 390.33 757.59 L 390.49 757.59 L 390.64 757.59 L 390.8 757.59 L 390.95 757.59 L 391.1 757.59 L 391.26 757.59 L 391.41 757.59 L 391.57 757.59 L 391.72 757.59 L 391.88 757.6 L 392.03 757.6 L 392.16 757.6 L 392.19 757.6 L 392.34 757.6 L 392.5 757.6 L 392.65 757.6 L 392.8 757.6 L 392.96 757.6 L 393.11 757.6 L 393.27 757.6 L 393.42 757.6 L 393.58 757.6 L 393.73 757.6 L 393.89 757.6 L 394.04 757.6 L 394.2 757.6 L 394.35 757.6 L 394.47 757.6 L 394.5 757.6 L 394.66 757.6 L 394.81 757.61 L 394.97 757.61 L 395.12 757.61 L 396.79 757.61 L 399.11 757.62 L 401.43 757.62 L 403.75 757.63 L 406.06 757.63 L 408.38 757.63 L 410.7 757.64 L 413.02 757.64 L 415.34 757.64 L 417.66 757.65 L 419.97 757.65 L 422.29 757.65 L 424.61 757.65 L 426.93 757.66 L 429.25 757.66 L 431.56 757.66 L 433.88 757.66 L 436.2 757.66 L 438.52 757.66 L 440.84 757.67 L 443.15 757.67 L 445.47 757.67 L 447.79 757.67 L 450.11 757.67 L 452.43 757.67 L 454.75 757.67 L 457.06 757.67 L 459.38 757.67 L 461.7 757.67 L 464.02 757.67 L 466.34 757.67 L 468.65 757.68 L 470.97 757.68 L 473.29 757.68 L 475.61 757.68 L 477.93 757.68 L 480.25 757.68 L 482.56 757.68 L 484.88 757.68 L 487.2 757.68 L 489.52 757.68 L 491.84 757.68 L 494.15 757.68 L 496.47 757.68 L 498.79 757.68 L 501.11 757.68 L 503.43 757.68 L 505.74 757.68 L 508.06 757.68 L 510.38 757.68 L 512.7 757.68 L 515.02 757.68 L 517.34 757.68 L 519.65 757.68 L 521.97 757.68 L 524.29 757.68 L 526.61 757.68 L 528.93 757.68 L 531.24 757.68 L 533.56 757.68 L 535.88 757.68 L 538.2 757.69 L 540.52 757.69 L 542.83 757.69 L 545.15 757.69 L 547.47 757.69 L 549.79 757.69 L 552.11 757.69 L 554.43 757.69 L 556.74 757.69 L 559.06 757.69 L 561.38 757.69 L 563.7 757.69 L 566.02 757.69 L 568.33 757.69" clip-path="url(#p94c4f2e22d)" style="fill: none; stroke: #e377c2; stroke-width: 2; stroke-linecap: square"/>
</g>
<g id="line2d_61">
<path d="M 104.71 757.69 L 107.03 757.69 L 109.34 757.69 L 111.66 757.69 L 113.98 757.69 L 116.3 757.69 L 118.62 757.69 L 120.93 757.69 L 123.25 757.69 L 125.57 757.69 L 127.89 757.69 L 130.21 757.69 L 132.52 757.69 L 134.84 757.69 L 137.16 757.69 L 139.48 757.69 L 141.8 757.69 L 144.12 757.69 L 146.43 757.69 L 148.75 757.69 L 151.07 757.69 L 153.39 757.69 L 155.71 757.69 L 158.02 757.69 L 160.34 757.69 L 162.66 757.69 L 164.98 757.69 L 167.3 757.69 L 169.61 757.69 L 171.93 757.69 L 174.25 757.69 L 176.57 757.69 L 178.89 757.69 L 181.21 757.69 L 183.52 757.69 L 185.84 757.69 L 188.16 757.69 L 190.48 757.69 L 192.8 757.69 L 195.11 757.69 L 197.43 757.69 L 199.75 757.69 L 202.07 757.69 L 204.39 757.69 L 206.7 757.69 L 209.02 757.68 L 211.34 757.68 L 213.66 757.68 L 215.98 757.68 L 218.3 757.68 L 220.61 757.68 L 222.93 757.68 L 225.25 757.68 L 227.57 757.68 L 229.89 757.68 L 232.2 757.68 L 234.52 757.68 L 236.84 757.68 L 239.16 757.68 L 241.48 757.68 L 243.8 757.68 L 246.11 757.68 L 248.43 757.68 L 250.75 757.68 L 253.07 757.68 L 255.39 757.68 L 257.7 757.67 L 260.02 757.67 L 262.34 757.67 L 264.66 757.67 L 266.98 757.67 L 269.29 757.67 L 271.61 757.67 L 273.93 757.66 L 276.25 757.66 L 278.57 757.66 L 279.22 757.66 L 279.37 757.66 L 279.53 757.66 L 279.68 757.66 L 279.83 757.66 L 279.99 757.66 L 280.14 757.66 L 280.3 757.66 L 280.45 757.66 L 280.61 757.66 L 280.76 757.66 L 280.89 757.66 L 280.92 757.66 L 281.07 757.66 L 281.23 757.66 L 281.38 757.66 L 281.53 757.66 L 281.69 757.66 L 281.84 757.66 L 282 757.66 L 282.15 757.66 L 282.31 757.66 L 282.46 757.66 L 282.62 757.66 L 282.77 757.66 L 282.93 757.66 L 283.08 757.66 L 283.2 757.66 L 283.23 757.66 L 283.39 757.66 L 283.54 757.66 L 283.7 757.65 L 283.85 757.65 L 284.01 757.65 L 284.16 757.65 L 284.32 757.65 L 284.47 757.65 L 284.63 757.65 L 284.78 757.65 L 284.93 757.65 L 285.09 757.65 L 285.24 757.65 L 285.4 757.65 L 285.52 757.65 L 285.55 757.65 L 285.71 757.65 L 285.86 757.65 L 286.02 757.65 L 286.17 757.65 L 286.33 757.65 L 286.48 757.65 L 286.63 757.65 L 286.79 757.65 L 286.94 757.65 L 287.1 757.65 L 287.25 757.65 L 287.41 757.65 L 287.56 757.65 L 287.72 757.65 L 287.84 757.65 L 287.87 757.65 L 288.03 757.65 L 288.18 757.65 L 288.33 757.65 L 288.49 757.65 L 288.64 757.65 L 288.8 757.65 L 288.95 757.65 L 289.11 757.65 L 289.26 757.65 L 289.42 757.65 L 289.57 757.65 L 289.73 757.65 L 289.88 757.65 L 290.03 757.65 L 290.16 757.65 L 290.19 757.65 L 290.34 757.64 L 290.5 757.64 L 290.65 757.64 L 290.81 757.64 L 290.96 757.64 L 291.12 757.64 L 291.27 757.64 L 291.43 757.64 L 291.58 757.64 L 291.73 757.64 L 291.89 757.64 L 292.04 757.64 L 292.2 757.64 L 292.35 757.64 L 292.48 757.64 L 292.51 757.64 L 292.66 757.64 L 292.82 757.64 L 292.97 757.64 L 293.13 757.64 L 293.28 757.64 L 293.43 757.64 L 293.59 757.64 L 293.74 757.64 L 293.9 757.64 L 294.05 757.64 L 294.21 757.64 L 294.36 757.64 L 294.52 757.64 L 294.67 757.64 L 294.79 757.64 L 294.83 757.64 L 294.98 757.64 L 295.13 757.64 L 295.29 757.63 L 295.44 757.63 L 295.6 757.63 L 295.75 757.63 L 295.91 757.63 L 296.06 757.63 L 296.22 757.63 L 296.37 757.63 L 296.53 757.63 L 296.68 757.63 L 296.83 757.63 L 296.99 757.63 L 297.11 757.63 L 297.14 757.63 L 297.3 757.63 L 297.45 757.63 L 297.61 757.63 L 297.76 757.63 L 297.92 757.63 L 298.07 757.63 L 298.22 757.63 L 298.38 757.63 L 298.53 757.63 L 298.69 757.63 L 298.84 757.63 L 299 757.62 L 299.15 757.62 L 299.31 757.62 L 299.43 757.62 L 299.46 757.62 L 299.62 757.62 L 299.77 757.62 L 299.92 757.62 L 300.08 757.62 L 300.23 757.62 L 300.39 757.62 L 300.54 757.62 L 300.7 757.62 L 300.85 757.62 L 301.01 757.62 L 301.16 757.62 L 301.32 757.62 L 301.47 757.62 L 301.62 757.62 L 301.75 757.62 L 301.78 757.62 L 301.93 757.62 L 302.09 757.61 L 302.24 757.61 L 302.4 757.61 L 302.55 757.61 L 302.71 757.61 L 302.86 757.61 L 303.02 757.61 L 303.17 757.61 L 303.32 757.61 L 303.48 757.61 L 303.63 757.61 L 303.79 757.61 L 303.94 757.61 L 304.07 757.61 L 304.1 757.61 L 304.25 757.61 L 304.41 757.61 L 304.56 757.6 L 304.72 757.6 L 304.87 757.6 L 305.02 757.6 L 305.18 757.6 L 305.33 757.6 L 305.49 757.6 L 305.64 757.6 L 305.8 757.6 L 305.95 757.6 L 306.11 757.6 L 306.26 757.6 L 306.38 757.6 L 306.42 757.6 L 306.57 757.59 L 306.72 757.59 L 306.88 757.59 L 307.03 757.59 L 307.19 757.59 L 307.34 757.59 L 307.5 757.59 L 307.65 757.59 L 307.81 757.59 L 307.96 757.59 L 308.12 757.59 L 308.27 757.58 L 308.42 757.58 L 308.58 757.58 L 308.7 757.58 L 308.73 757.58 L 308.89 757.58 L 309.04 757.58 L 309.2 757.58 L 309.35 757.58 L 309.51 757.58 L 309.66 757.58 L 309.82 757.57 L 309.97 757.57 L 310.12 757.57 L 310.28 757.57 L 310.43 757.57 L 310.59 757.57 L 310.74 757.57 L 310.9 757.57 L 311.02 757.57 L 311.05 757.57 L 311.21 757.56 L 311.36 757.56 L 311.52 757.56 L 311.67 757.56 L 311.82 757.56 L 311.98 757.56 L 312.13 757.56 L 312.29 757.56 L 312.44 757.55 L 312.6 757.55 L 312.75 757.55 L 312.91 757.55 L 313.06 757.55 L 313.22 757.55 L 313.34 757.55 L 313.37 757.55 L 313.52 757.54 L 313.68 757.54 L 313.83 757.54 L 313.99 757.54 L 314.14 757.54 L 314.3 757.54 L 314.45 757.53 L 314.61 757.53 L 314.76 757.53 L 314.92 757.53 L 315.07 757.53 L 315.22 757.53 L 315.38 757.52 L 315.53 757.52 L 315.66 757.52 L 315.69 757.52 L 315.84 757.52 L 316 757.52 L 316.15 757.51 L 316.31 757.51 L 316.46 757.51 L 316.62 757.51 L 316.77 757.51 L 316.92 757.5 L 317.08 757.5 L 317.23 757.5 L 317.39 757.5 L 317.54 757.5 L 317.7 757.49 L 317.85 757.49 L 317.98 757.49 L 318.01 757.49 L 318.16 757.49 L 318.32 757.48 L 318.47 757.48 L 318.62 757.48 L 318.78 757.48 L 318.93 757.47 L 319.09 757.47 L 319.24 757.47 L 319.4 757.46 L 319.55 757.46 L 319.71 757.46 L 319.86 757.46 L 320.02 757.45 L 320.17 757.45 L 320.29 757.45 L 320.32 757.45 L 320.48 757.44 L 320.63 757.44 L 320.79 757.44 L 320.94 757.43 L 321.1 757.43 L 321.25 757.43 L 321.41 757.42 L 321.56 757.42 L 321.72 757.41 L 321.87 757.41 L 322.02 757.41 L 322.18 757.4 L 322.33 757.4 L 322.49 757.39 L 322.61 757.39 L 322.64 757.39 L 322.8 757.38 L 322.95 757.38 L 323.11 757.38 L 323.26 757.37 L 323.42 757.37 L 323.57 757.36 L 323.72 757.36 L 323.88 757.35 L 324.03 757.34 L 324.19 757.34 L 324.34 757.33 L 324.5 757.33 L 324.65 757.32 L 324.81 757.32 L 324.93 757.31 L 324.96 757.31 L 325.12 757.3 L 325.27 757.3 L 325.42 757.29 L 325.58 757.28 L 325.73 757.28 L 325.89 757.27 L 326.04 757.26 L 326.2 757.25 L 326.35 757.25 L 326.51 757.24 L 326.66 757.23 L 326.82 757.22 L 326.97 757.21 L 327.12 757.2 L 327.25 757.2 L 327.28 757.19 L 327.43 757.18 L 327.59 757.17 L 327.74 757.16 L 327.9 757.15 L 328.05 757.14 L 328.21 757.13 L 328.36 757.12 L 328.52 757.11 L 328.67 757.1 L 328.82 757.09 L 328.98 757.07 L 329.13 757.06 L 329.29 757.05 L 329.44 757.03 L 329.57 757.02 L 329.6 757.02 L 329.75 757 L 329.91 756.99 L 330.06 756.97 L 330.22 756.95 L 330.37 756.94 L 330.52 756.92 L 330.68 756.9 L 330.83 756.88 L 330.99 756.86 L 331.14 756.84 L 331.3 756.82 L 331.45 756.8 L 331.61 756.78 L 331.76 756.75 L 331.88 756.73 L 331.92 756.73 L 332.07 756.7 L 332.22 756.68 L 332.38 756.65 L 332.53 756.62 L 332.69 756.59 L 332.84 756.56 L 333 756.52 L 333.15 756.49 L 333.31 756.45 L 333.46 756.42 L 333.62 756.38 L 333.77 756.34 L 333.92 756.29 L 334.08 756.25 L 334.2 756.21 L 334.23 756.2 L 334.39 756.15 L 334.54 756.1 L 334.7 756.05 L 334.85 755.99 L 335.01 755.93 L 335.16 755.86 L 335.32 755.8 L 335.47 755.73 L 335.62 755.65 L 335.78 755.57 L 335.93 755.49 L 336.09 755.4 L 336.24 755.3 L 336.4 755.2 L 336.52 755.12 L 336.55 755.1 L 336.71 754.98 L 336.86 754.86 L 337.02 754.73 L 337.17 754.59 L 337.32 754.44 L 337.48 754.28 L 337.63 754.11 L 337.79 753.92 L 337.94 753.72 L 338.1 753.5 L 338.25 753.27 L 338.41 753.01 L 338.56 752.73 L 338.72 752.43 L 338.84 752.16 L 338.87 752.09 L 339.02 751.73 L 339.18 751.33 L 339.33 750.89 L 339.49 750.39 L 339.64 749.85 L 339.8 749.24 L 339.95 748.56 L 340.11 747.8 L 340.26 746.94 L 340.42 745.96 L 340.57 744.84 L 340.72 743.56 L 340.88 742.09 L 341.03 740.37 L 341.16 738.8 L 341.19 738.37 L 341.34 736.01 L 341.5 733.21 L 341.65 729.85 L 341.81 725.8 L 341.96 720.84 L 342.12 714.73 L 342.27 707.1 L 342.42 697.49 L 342.58 685.28 L 342.73 669.69 L 342.89 649.81 L 343.04 624.87 L 343.2 594.9 L 343.35 562 L 343.48 537.35 L 343.51 532 L 343.66 514.12 L 343.81 515.78 L 343.97 536.25 L 344.12 567.27 L 344.28 599.98 L 344.43 629.22 L 344.59 653.31 L 344.74 672.45 L 344.9 687.44 L 345.05 699.19 L 345.21 708.44 L 345.36 715.8 L 345.51 721.7 L 345.67 726.5 L 345.79 729.71 L 345.82 730.43 L 345.98 733.69 L 346.13 736.42 L 346.29 738.71 L 346.44 740.66 L 346.6 742.34 L 346.75 743.78 L 346.91 745.03 L 347.06 746.12 L 347.21 747.08 L 347.37 747.93 L 347.52 748.68 L 347.68 749.34 L 347.83 749.94 L 347.99 750.48 L 348.11 750.87 L 348.14 750.96 L 348.3 751.4 L 348.45 751.79 L 348.61 752.15 L 348.76 752.48 L 348.91 752.78 L 349.07 753.05 L 349.22 753.31 L 349.38 753.54 L 349.53 753.75 L 349.69 753.95 L 349.84 754.13 L 350 754.31 L 350.15 754.46 L 350.31 754.61 L 350.43 754.72 L 350.46 754.75 L 350.61 754.88 L 350.77 755 L 350.92 755.11 L 351.08 755.22 L 351.23 755.32 L 351.39 755.41 L 351.54 755.5 L 351.7 755.59 L 351.85 755.66 L 352.01 755.74 L 352.16 755.81 L 352.31 755.88 L 352.47 755.94 L 352.62 756 L 352.75 756.04 L 352.78 756.06 L 352.93 756.11 L 353.09 756.16 L 353.24 756.21 L 353.4 756.26 L 353.55 756.3 L 353.71 756.34 L 353.86 756.38 L 354.01 756.42 L 354.17 756.46 L 354.32 756.5 L 354.48 756.53 L 354.63 756.56 L 354.79 756.59 L 354.94 756.62 L 355.07 756.65 L 355.1 756.65 L 355.25 756.68 L 355.41 756.71 L 355.56 756.73 L 355.71 756.76 L 355.87 756.78 L 356.02 756.8 L 356.18 756.82 L 356.33 756.85 L 356.49 756.87 L 356.64 756.89 L 356.8 756.9 L 356.95 756.92 L 357.11 756.94 L 357.26 756.96 L 357.38 756.97 L 357.41 756.97 L 357.57 756.99 L 357.72 757.01 L 357.88 757.02 L 358.03 757.03 L 358.19 757.05 L 358.34 757.06 L 358.5 757.07 L 358.65 757.09 L 358.81 757.1 L 358.96 757.11 L 359.11 757.12 L 359.27 757.13 L 359.42 757.15 L 359.58 757.16 L 359.7 757.16 L 359.73 757.17 L 359.89 757.18 L 360.04 757.19 L 360.2 757.2 L 360.35 757.2 L 360.51 757.21 L 360.66 757.22 L 360.81 757.23 L 360.97 757.24 L 361.12 757.25 L 361.28 757.25 L 361.43 757.26 L 361.59 757.27 L 361.74 757.28 L 361.9 757.28 L 362.02 757.29 L 362.05 757.29 L 362.21 757.3 L 362.36 757.3 L 362.51 757.31 L 362.67 757.32 L 362.82 757.32 L 362.98 757.33 L 363.13 757.33 L 363.29 757.34 L 363.44 757.35 L 363.6 757.35 L 363.75 757.36 L 363.91 757.36 L 364.06 757.37 L 364.21 757.37 L 364.34 757.37 L 364.37 757.38 L 364.52 757.38 L 364.68 757.39 L 364.83 757.39 L 364.99 757.39 L 365.14 757.4 L 365.3 757.4 L 365.45 757.41 L 365.61 757.41 L 365.76 757.41 L 365.91 757.42 L 366.07 757.42 L 366.22 757.43 L 366.38 757.43 L 366.53 757.43 L 366.66 757.44 L 366.69 757.44 L 366.84 757.44 L 367 757.44 L 367.15 757.45 L 367.31 757.45 L 367.46 757.45 L 367.61 757.46 L 367.77 757.46 L 367.92 757.46 L 368.08 757.46 L 368.23 757.47 L 368.39 757.47 L 368.54 757.47 L 368.7 757.48 L 368.85 757.48 L 368.97 757.48 L 369.01 757.48 L 369.16 757.48 L 369.31 757.49 L 369.47 757.49 L 369.62 757.49 L 369.78 757.49 L 369.93 757.5 L 370.09 757.5 L 370.24 757.5 L 370.4 757.5 L 370.55 757.5 L 370.71 757.51 L 370.86 757.51 L 371.01 757.51 L 371.17 757.51 L 371.29 757.51 L 371.32 757.52 L 371.48 757.52 L 371.63 757.52 L 371.79 757.52 L 371.94 757.52 L 372.1 757.52 L 372.25 757.53 L 372.41 757.53 L 372.56 757.53 L 372.71 757.53 L 372.87 757.53 L 373.02 757.54 L 373.18 757.54 L 373.33 757.54 L 373.49 757.54 L 373.61 757.54 L 373.64 757.54 L 373.8 757.54 L 373.95 757.54 L 374.11 757.55 L 374.26 757.55 L 374.41 757.55 L 374.57 757.55 L 374.72 757.55 L 374.88 757.55 L 375.03 757.55 L 375.19 757.56 L 375.34 757.56 L 375.5 757.56 L 375.65 757.56 L 375.81 757.56 L 375.93 757.56 L 375.96 757.56 L 376.11 757.56 L 376.27 757.56 L 376.42 757.57 L 376.58 757.57 L 376.73 757.57 L 376.89 757.57 L 377.04 757.57 L 377.2 757.57 L 377.35 757.57 L 377.51 757.57 L 377.66 757.58 L 377.81 757.58 L 377.97 757.58 L 378.12 757.58 L 378.25 757.58 L 378.28 757.58 L 378.43 757.58 L 378.59 757.58 L 378.74 757.58 L 378.9 757.58 L 379.05 757.58 L 379.21 757.59 L 379.36 757.59 L 379.51 757.59 L 379.67 757.59 L 379.82 757.59 L 379.98 757.59 L 380.13 757.59 L 380.29 757.59 L 380.44 757.59 L 380.57 757.59 L 380.6 757.59 L 380.75 757.59 L 380.91 757.59 L 381.06 757.6 L 381.21 757.6 L 381.37 757.6 L 381.52 757.6 L 381.68 757.6 L 381.83 757.6 L 381.99 757.6 L 382.14 757.6 L 382.3 757.6 L 382.45 757.6 L 382.61 757.6 L 382.76 757.6 L 382.88 757.6 L 382.91 757.6 L 383.07 757.61 L 383.22 757.61 L 383.38 757.61 L 383.53 757.61 L 383.69 757.61 L 383.84 757.61 L 384 757.61 L 384.15 757.61 L 384.31 757.61 L 384.46 757.61 L 384.61 757.61 L 384.77 757.61 L 384.92 757.61 L 385.08 757.61 L 385.2 757.61 L 385.23 757.61 L 385.39 757.61 L 385.54 757.62 L 385.7 757.62 L 385.85 757.62 L 386.01 757.62 L 386.16 757.62 L 386.31 757.62 L 386.47 757.62 L 386.62 757.62 L 386.78 757.62 L 386.93 757.62 L 387.09 757.62 L 387.24 757.62 L 387.4 757.62 L 387.52 757.62 L 387.55 757.62 L 387.71 757.62 L 387.86 757.62 L 388.01 757.62 L 388.17 757.62 L 388.32 757.62 L 388.48 757.62 L 388.63 757.63 L 388.79 757.63 L 388.94 757.63 L 389.1 757.63 L 389.25 757.63 L 389.41 757.63 L 389.56 757.63 L 389.71 757.63 L 389.84 757.63 L 389.87 757.63 L 390.02 757.63 L 390.18 757.63 L 390.33 757.63 L 390.49 757.63 L 390.64 757.63 L 390.8 757.63 L 390.95 757.63 L 391.1 757.63 L 391.26 757.63 L 391.41 757.63 L 391.57 757.63 L 391.72 757.63 L 391.88 757.63 L 392.03 757.63 L 392.16 757.63 L 392.19 757.63 L 392.34 757.64 L 392.5 757.64 L 392.65 757.64 L 392.8 757.64 L 392.96 757.64 L 393.11 757.64 L 393.27 757.64 L 393.42 757.64 L 393.58 757.64 L 393.73 757.64 L 393.89 757.64 L 394.04 757.64 L 394.2 757.64 L 394.35 757.64 L 394.47 757.64 L 394.5 757.64 L 394.66 757.64 L 394.81 757.64 L 394.97 757.64 L 395.12 757.64 L 396.79 757.64 L 399.11 757.65 L 401.43 757.65 L 403.75 757.65 L 406.06 757.66 L 408.38 757.66 L 410.7 757.66 L 413.02 757.66 L 415.34 757.67 L 417.66 757.67 L 419.97 757.67 L 422.29 757.67 L 424.61 757.67 L 426.93 757.67 L 429.25 757.67 L 431.56 757.67 L 433.88 757.68 L 436.2 757.68 L 438.52 757.68 L 440.84 757.68 L 443.15 757.68 L 445.47 757.68 L 447.79 757.68 L 450.11 757.68 L 452.43 757.68 L 454.75 757.68 L 457.06 757.68 L 459.38 757.68 L 461.7 757.68 L 464.02 757.68 L 466.34 757.68 L 468.65 757.68 L 470.97 757.68 L 473.29 757.68 L 475.61 757.68 L 477.93 757.68 L 480.25 757.69 L 482.56 757.69 L 484.88 757.69 L 487.2 757.69 L 489.52 757.69 L 491.84 757.69 L 494.15 757.69 L 496.47 757.69 L 498.79 757.69 L 501.11 757.69 L 503.43 757.69 L 505.74 757.69 L 508.06 757.69 L 510.38 757.69 L 512.7 757.69 L 515.02 757.69 L 517.34 757.69 L 519.65 757.69 L 521.97 757.69 L 524.29 757.69 L 526.61 757.69 L 528.93 757.69 L 531.24 757.69 L 533.56 757.69 L 535.88 757.69 L 538.2 757.69 L 540.52 757.69 L 542.83 757.69 L 545.15 757.69 L 547.47 757.69 L 549.79 757.69 L 552.11 757.69 L 554.43 757.69 L 556.74 757.69 L 559.06 757.69 L 561.38 757.69 L 563.7 757.69 L 566.02 757.69 L 568.33 757.69" clip-path="url(#p94c4f2e22d)" style="fill: none; stroke: #7f7f7f; stroke-width: 2; stroke-linecap: square"/>
</g>
<g id="line2d_62">
<path d="M 104.71 757.69 L 107.03 757.69 L 109.34 757.69 L 111.66 757.69 L 113.98 757.69 L 116.3 757.69 L 118.62 757.69 L 120.93 757.69 L 123.25 757.69 L 125.57 757.69 L 127.89 757.69 L 130.21 757.69 L 132.52 757.69 L 134.84 757.69 L 137.16 757.69 L 139.48 757.69 L 141.8 757.69 L 144.12 757.69 L 146.43 757.69 L 148.75 757.69 L 151.07 757.69 L 153.39 757.69 L 155.71 757.69 L 158.02 757.69 L 160.34 757.69 L 162.66 757.69 L 164.98 757.69 L 167.3 757.69 L 169.61 757.69 L 171.93 757.69 L 174.25 757.69 L 176.57 757.69 L 178.89 757.69 L 181.21 757.69 L 183.52 757.69 L 185.84 757.69 L 188.16 757.69 L 190.48 757.69 L 192.8 757.69 L 195.11 757.69 L 197.43 757.69 L 199.75 757.69 L 202.07 757.69 L 204.39 757.69 L 206.7 757.69 L 209.02 757.69 L 211.34 757.69 L 213.66 757.69 L 215.98 757.69 L 218.3 757.69 L 220.61 757.69 L 222.93 757.69 L 225.25 757.69 L 227.57 757.69 L 229.89 757.69 L 232.2 757.69 L 234.52 757.69 L 236.84 757.69 L 239.16 757.69 L 241.48 757.69 L 243.8 757.69 L 246.11 757.69 L 248.43 757.69 L 250.75 757.69 L 253.07 757.69 L 255.39 757.69 L 257.7 757.69 L 260.02 757.69 L 262.34 757.69 L 264.66 757.69 L 266.98 757.69 L 269.29 757.68 L 271.61 757.68 L 273.93 757.68 L 276.25 757.68 L 278.57 757.68 L 279.22 757.68 L 279.37 757.68 L 279.53 757.68 L 279.68 757.68 L 279.83 757.68 L 279.99 757.68 L 280.14 757.68 L 280.3 757.68 L 280.45 757.68 L 280.61 757.68 L 280.76 757.68 L 280.89 757.68 L 280.92 757.68 L 281.07 757.68 L 281.23 757.68 L 281.38 757.68 L 281.53 757.68 L 281.69 757.68 L 281.84 757.68 L 282 757.68 L 282.15 757.68 L 282.31 757.68 L 282.46 757.68 L 282.62 757.68 L 282.77 757.68 L 282.93 757.68 L 283.08 757.68 L 283.2 757.68 L 283.23 757.68 L 283.39 757.68 L 283.54 757.68 L 283.7 757.68 L 283.85 757.68 L 284.01 757.68 L 284.16 757.68 L 284.32 757.68 L 284.47 757.68 L 284.63 757.68 L 284.78 757.68 L 284.93 757.68 L 285.09 757.68 L 285.24 757.68 L 285.4 757.68 L 285.52 757.68 L 285.55 757.68 L 285.71 757.68 L 285.86 757.68 L 286.02 757.68 L 286.17 757.68 L 286.33 757.68 L 286.48 757.68 L 286.63 757.68 L 286.79 757.68 L 286.94 757.68 L 287.1 757.68 L 287.25 757.68 L 287.41 757.68 L 287.56 757.68 L 287.72 757.68 L 287.84 757.68 L 287.87 757.68 L 288.03 757.68 L 288.18 757.68 L 288.33 757.68 L 288.49 757.68 L 288.64 757.68 L 288.8 757.68 L 288.95 757.68 L 289.11 757.68 L 289.26 757.68 L 289.42 757.68 L 289.57 757.68 L 289.73 757.68 L 289.88 757.68 L 290.03 757.68 L 290.16 757.68 L 290.19 757.68 L 290.34 757.68 L 290.5 757.68 L 290.65 757.68 L 290.81 757.68 L 290.96 757.68 L 291.12 757.68 L 291.27 757.68 L 291.43 757.68 L 291.58 757.68 L 291.73 757.68 L 291.89 757.67 L 292.04 757.67 L 292.2 757.67 L 292.35 757.67 L 292.48 757.67 L 292.51 757.67 L 292.66 757.67 L 292.82 757.67 L 292.97 757.67 L 293.13 757.67 L 293.28 757.67 L 293.43 757.67 L 293.59 757.67 L 293.74 757.67 L 293.9 757.67 L 294.05 757.67 L 294.21 757.67 L 294.36 757.67 L 294.52 757.67 L 294.67 757.67 L 294.79 757.67 L 294.83 757.67 L 294.98 757.67 L 295.13 757.67 L 295.29 757.67 L 295.44 757.67 L 295.6 757.67 L 295.75 757.67 L 295.91 757.67 L 296.06 757.67 L 296.22 757.67 L 296.37 757.67 L 296.53 757.67 L 296.68 757.67 L 296.83 757.67 L 296.99 757.67 L 297.11 757.67 L 297.14 757.67 L 297.3 757.67 L 297.45 757.67 L 297.61 757.67 L 297.76 757.67 L 297.92 757.67 L 298.07 757.67 L 298.22 757.67 L 298.38 757.67 L 298.53 757.67 L 298.69 757.67 L 298.84 757.67 L 299 757.67 L 299.15 757.67 L 299.31 757.67 L 299.43 757.67 L 299.46 757.67 L 299.62 757.67 L 299.77 757.67 L 299.92 757.67 L 300.08 757.67 L 300.23 757.67 L 300.39 757.67 L 300.54 757.67 L 300.7 757.67 L 300.85 757.67 L 301.01 757.66 L 301.16 757.66 L 301.32 757.66 L 301.47 757.66 L 301.62 757.66 L 301.75 757.66 L 301.78 757.66 L 301.93 757.66 L 302.09 757.66 L 302.24 757.66 L 302.4 757.66 L 302.55 757.66 L 302.71 757.66 L 302.86 757.66 L 303.02 757.66 L 303.17 757.66 L 303.32 757.66 L 303.48 757.66 L 303.63 757.66 L 303.79 757.66 L 303.94 757.66 L 304.07 757.66 L 304.1 757.66 L 304.25 757.66 L 304.41 757.66 L 304.56 757.66 L 304.72 757.66 L 304.87 757.66 L 305.02 757.66 L 305.18 757.66 L 305.33 757.66 L 305.49 757.66 L 305.64 757.66 L 305.8 757.66 L 305.95 757.66 L 306.11 757.65 L 306.26 757.65 L 306.38 757.65 L 306.42 757.65 L 306.57 757.65 L 306.72 757.65 L 306.88 757.65 L 307.03 757.65 L 307.19 757.65 L 307.34 757.65 L 307.5 757.65 L 307.65 757.65 L 307.81 757.65 L 307.96 757.65 L 308.12 757.65 L 308.27 757.65 L 308.42 757.65 L 308.58 757.65 L 308.7 757.65 L 308.73 757.65 L 308.89 757.65 L 309.04 757.65 L 309.2 757.65 L 309.35 757.65 L 309.51 757.65 L 309.66 757.64 L 309.82 757.64 L 309.97 757.64 L 310.12 757.64 L 310.28 757.64 L 310.43 757.64 L 310.59 757.64 L 310.74 757.64 L 310.9 757.64 L 311.02 757.64 L 311.05 757.64 L 311.21 757.64 L 311.36 757.64 L 311.52 757.64 L 311.67 757.64 L 311.82 757.64 L 311.98 757.63 L 312.13 757.63 L 312.29 757.63 L 312.44 757.63 L 312.6 757.63 L 312.75 757.63 L 312.91 757.63 L 313.06 757.63 L 313.22 757.63 L 313.34 757.63 L 313.37 757.63 L 313.52 757.63 L 313.68 757.63 L 313.83 757.63 L 313.99 757.62 L 314.14 757.62 L 314.3 757.62 L 314.45 757.62 L 314.61 757.62 L 314.76 757.62 L 314.92 757.62 L 315.07 757.62 L 315.22 757.62 L 315.38 757.62 L 315.53 757.61 L 315.66 757.61 L 315.69 757.61 L 315.84 757.61 L 316 757.61 L 316.15 757.61 L 316.31 757.61 L 316.46 757.61 L 316.62 757.61 L 316.77 757.6 L 316.92 757.6 L 317.08 757.6 L 317.23 757.6 L 317.39 757.6 L 317.54 757.6 L 317.7 757.59 L 317.85 757.59 L 317.98 757.59 L 318.01 757.59 L 318.16 757.59 L 318.32 757.59 L 318.47 757.59 L 318.62 757.58 L 318.78 757.58 L 318.93 757.58 L 319.09 757.58 L 319.24 757.58 L 319.4 757.57 L 319.55 757.57 L 319.71 757.57 L 319.86 757.57 L 320.02 757.57 L 320.17 757.56 L 320.29 757.56 L 320.32 757.56 L 320.48 757.56 L 320.63 757.56 L 320.79 757.55 L 320.94 757.55 L 321.1 757.55 L 321.25 757.54 L 321.41 757.54 L 321.56 757.54 L 321.72 757.53 L 321.87 757.53 L 322.02 757.53 L 322.18 757.52 L 322.33 757.52 L 322.49 757.52 L 322.61 757.51 L 322.64 757.51 L 322.8 757.51 L 322.95 757.5 L 323.11 757.5 L 323.26 757.5 L 323.42 757.49 L 323.57 757.49 L 323.72 757.48 L 323.88 757.48 L 324.03 757.47 L 324.19 757.47 L 324.34 757.46 L 324.5 757.45 L 324.65 757.45 L 324.81 757.44 L 324.93 757.44 L 324.96 757.43 L 325.12 757.43 L 325.27 757.42 L 325.42 757.41 L 325.58 757.4 L 325.73 757.4 L 325.89 757.39 L 326.04 757.38 L 326.2 757.37 L 326.35 757.36 L 326.51 757.35 L 326.66 757.34 L 326.82 757.33 L 326.97 757.31 L 327.12 757.3 L 327.25 757.29 L 327.28 757.29 L 327.43 757.27 L 327.59 757.26 L 327.74 757.24 L 327.9 757.23 L 328.05 757.21 L 328.21 757.19 L 328.36 757.17 L 328.52 757.15 L 328.67 757.13 L 328.82 757.11 L 328.98 757.09 L 329.13 757.06 L 329.29 757.03 L 329.44 757 L 329.57 756.98 L 329.6 756.97 L 329.75 756.94 L 329.91 756.91 L 330.06 756.87 L 330.22 756.83 L 330.37 756.78 L 330.52 756.74 L 330.68 756.68 L 330.83 756.63 L 330.99 756.57 L 331.14 756.5 L 331.3 756.43 L 331.45 756.35 L 331.61 756.27 L 331.76 756.18 L 331.88 756.1 L 331.92 756.07 L 332.07 755.96 L 332.22 755.83 L 332.38 755.69 L 332.53 755.54 L 332.69 755.36 L 332.84 755.16 L 333 754.94 L 333.15 754.68 L 333.31 754.39 L 333.46 754.06 L 333.62 753.67 L 333.77 753.21 L 333.92 752.67 L 334.08 752.03 L 334.2 751.42 L 334.23 751.26 L 334.39 750.32 L 334.54 749.16 L 334.7 747.72 L 334.85 745.87 L 335.01 743.48 L 335.16 740.31 L 335.32 735.97 L 335.47 729.87 L 335.62 720.98 L 335.78 707.46 L 335.93 686.08 L 336.09 651.32 L 336.24 596.96 L 336.4 531.66 L 336.52 506.54 L 336.55 508.28 L 336.71 556.77 L 336.86 621.22 L 337.02 667.28 L 337.17 695.87 L 337.32 713.59 L 337.48 724.96 L 337.63 732.58 L 337.79 737.88 L 337.94 741.69 L 338.1 744.52 L 338.25 746.67 L 338.41 748.34 L 338.56 749.66 L 338.72 750.72 L 338.84 751.42 L 338.87 751.58 L 339.02 752.3 L 339.18 752.9 L 339.33 753.4 L 339.49 753.83 L 339.64 754.2 L 339.8 754.51 L 339.95 754.79 L 340.11 755.03 L 340.26 755.25 L 340.42 755.43 L 340.57 755.6 L 340.72 755.75 L 340.88 755.89 L 341.03 756.01 L 341.16 756.1 L 341.19 756.12 L 341.34 756.21 L 341.5 756.3 L 341.65 756.39 L 341.81 756.46 L 341.96 756.53 L 342.12 756.59 L 342.27 756.65 L 342.42 756.7 L 342.58 756.75 L 342.73 756.8 L 342.89 756.84 L 343.04 756.88 L 343.2 756.92 L 343.35 756.95 L 343.48 756.98 L 343.51 756.99 L 343.66 757.02 L 343.81 757.04 L 343.97 757.07 L 344.12 757.1 L 344.28 757.12 L 344.43 757.14 L 344.59 757.16 L 344.74 757.18 L 344.9 757.2 L 345.05 757.22 L 345.21 757.24 L 345.36 757.25 L 345.51 757.27 L 345.67 757.28 L 345.79 757.29 L 345.82 757.29 L 345.98 757.31 L 346.13 757.32 L 346.29 757.33 L 346.44 757.34 L 346.6 757.35 L 346.75 757.36 L 346.91 757.37 L 347.06 757.38 L 347.21 757.39 L 347.37 757.4 L 347.52 757.41 L 347.68 757.42 L 347.83 757.42 L 347.99 757.43 L 348.11 757.44 L 348.14 757.44 L 348.3 757.44 L 348.45 757.45 L 348.61 757.46 L 348.76 757.46 L 348.91 757.47 L 349.07 757.47 L 349.22 757.48 L 349.38 757.48 L 349.53 757.49 L 349.69 757.49 L 349.84 757.5 L 350 757.5 L 350.15 757.51 L 350.31 757.51 L 350.43 757.51 L 350.46 757.51 L 350.61 757.52 L 350.77 757.52 L 350.92 757.53 L 351.08 757.53 L 351.23 757.53 L 351.39 757.54 L 351.54 757.54 L 351.7 757.54 L 351.85 757.55 L 352.01 757.55 L 352.16 757.55 L 352.31 757.55 L 352.47 757.56 L 352.62 757.56 L 352.75 757.56 L 352.78 757.56 L 352.93 757.56 L 353.09 757.57 L 353.24 757.57 L 353.4 757.57 L 353.55 757.57 L 353.71 757.58 L 353.86 757.58 L 354.01 757.58 L 354.17 757.58 L 354.32 757.58 L 354.48 757.59 L 354.63 757.59 L 354.79 757.59 L 354.94 757.59 L 355.07 757.59 L 355.1 757.59 L 355.25 757.59 L 355.41 757.6 L 355.56 757.6 L 355.71 757.6 L 355.87 757.6 L 356.02 757.6 L 356.18 757.6 L 356.33 757.6 L 356.49 757.61 L 356.64 757.61 L 356.8 757.61 L 356.95 757.61 L 357.11 757.61 L 357.26 757.61 L 357.38 757.61 L 357.41 757.61 L 357.57 757.61 L 357.72 757.62 L 357.88 757.62 L 358.03 757.62 L 358.19 757.62 L 358.34 757.62 L 358.5 757.62 L 358.65 757.62 L 358.81 757.62 L 358.96 757.62 L 359.11 757.62 L 359.27 757.63 L 359.42 757.63 L 359.58 757.63 L 359.7 757.63 L 359.73 757.63 L 359.89 757.63 L 360.04 757.63 L 360.2 757.63 L 360.35 757.63 L 360.51 757.63 L 360.66 757.63 L 360.81 757.63 L 360.97 757.63 L 361.12 757.64 L 361.28 757.64 L 361.43 757.64 L 361.59 757.64 L 361.74 757.64 L 361.9 757.64 L 362.02 757.64 L 362.05 757.64 L 362.21 757.64 L 362.36 757.64 L 362.51 757.64 L 362.67 757.64 L 362.82 757.64 L 362.98 757.64 L 363.13 757.64 L 363.29 757.64 L 363.44 757.64 L 363.6 757.65 L 363.75 757.65 L 363.91 757.65 L 364.06 757.65 L 364.21 757.65 L 364.34 757.65 L 364.37 757.65 L 364.52 757.65 L 364.68 757.65 L 364.83 757.65 L 364.99 757.65 L 365.14 757.65 L 365.3 757.65 L 365.45 757.65 L 365.61 757.65 L 365.76 757.65 L 365.91 757.65 L 366.07 757.65 L 366.22 757.65 L 366.38 757.65 L 366.53 757.65 L 366.66 757.65 L 366.69 757.65 L 366.84 757.65 L 367 757.66 L 367.15 757.66 L 367.31 757.66 L 367.46 757.66 L 367.61 757.66 L 367.77 757.66 L 367.92 757.66 L 368.08 757.66 L 368.23 757.66 L 368.39 757.66 L 368.54 757.66 L 368.7 757.66 L 368.85 757.66 L 368.97 757.66 L 369.01 757.66 L 369.16 757.66 L 369.31 757.66 L 369.47 757.66 L 369.62 757.66 L 369.78 757.66 L 369.93 757.66 L 370.09 757.66 L 370.24 757.66 L 370.4 757.66 L 370.55 757.66 L 370.71 757.66 L 370.86 757.66 L 371.01 757.66 L 371.17 757.66 L 371.29 757.66 L 371.32 757.66 L 371.48 757.66 L 371.63 757.66 L 371.79 757.66 L 371.94 757.66 L 372.1 757.67 L 372.25 757.67 L 372.41 757.67 L 372.56 757.67 L 372.71 757.67 L 372.87 757.67 L 373.02 757.67 L 373.18 757.67 L 373.33 757.67 L 373.49 757.67 L 373.61 757.67 L 373.64 757.67 L 373.8 757.67 L 373.95 757.67 L 374.11 757.67 L 374.26 757.67 L 374.41 757.67 L 374.57 757.67 L 374.72 757.67 L 374.88 757.67 L 375.03 757.67 L 375.19 757.67 L 375.34 757.67 L 375.5 757.67 L 375.65 757.67 L 375.81 757.67 L 375.93 757.67 L 375.96 757.67 L 376.11 757.67 L 376.27 757.67 L 376.42 757.67 L 376.58 757.67 L 376.73 757.67 L 376.89 757.67 L 377.04 757.67 L 377.2 757.67 L 377.35 757.67 L 377.51 757.67 L 377.66 757.67 L 377.81 757.67 L 377.97 757.67 L 378.12 757.67 L 378.25 757.67 L 378.28 757.67 L 378.43 757.67 L 378.59 757.67 L 378.74 757.67 L 378.9 757.67 L 379.05 757.67 L 379.21 757.67 L 379.36 757.67 L 379.51 757.67 L 379.67 757.67 L 379.82 757.67 L 379.98 757.67 L 380.13 757.67 L 380.29 757.67 L 380.44 757.67 L 380.57 757.67 L 380.6 757.67 L 380.75 757.67 L 380.91 757.67 L 381.06 757.67 L 381.21 757.68 L 381.37 757.68 L 381.52 757.68 L 381.68 757.68 L 381.83 757.68 L 381.99 757.68 L 382.14 757.68 L 382.3 757.68 L 382.45 757.68 L 382.61 757.68 L 382.76 757.68 L 382.88 757.68 L 382.91 757.68 L 383.07 757.68 L 383.22 757.68 L 383.38 757.68 L 383.53 757.68 L 383.69 757.68 L 383.84 757.68 L 384 757.68 L 384.15 757.68 L 384.31 757.68 L 384.46 757.68 L 384.61 757.68 L 384.77 757.68 L 384.92 757.68 L 385.08 757.68 L 385.2 757.68 L 385.23 757.68 L 385.39 757.68 L 385.54 757.68 L 385.7 757.68 L 385.85 757.68 L 386.01 757.68 L 386.16 757.68 L 386.31 757.68 L 386.47 757.68 L 386.62 757.68 L 386.78 757.68 L 386.93 757.68 L 387.09 757.68 L 387.24 757.68 L 387.4 757.68 L 387.52 757.68 L 387.55 757.68 L 387.71 757.68 L 387.86 757.68 L 388.01 757.68 L 388.17 757.68 L 388.32 757.68 L 388.48 757.68 L 388.63 757.68 L 388.79 757.68 L 388.94 757.68 L 389.1 757.68 L 389.25 757.68 L 389.41 757.68 L 389.56 757.68 L 389.71 757.68 L 389.84 757.68 L 389.87 757.68 L 390.02 757.68 L 390.18 757.68 L 390.33 757.68 L 390.49 757.68 L 390.64 757.68 L 390.8 757.68 L 390.95 757.68 L 391.1 757.68 L 391.26 757.68 L 391.41 757.68 L 391.57 757.68 L 391.72 757.68 L 391.88 757.68 L 392.03 757.68 L 392.16 757.68 L 392.19 757.68 L 392.34 757.68 L 392.5 757.68 L 392.65 757.68 L 392.8 757.68 L 392.96 757.68 L 393.11 757.68 L 393.27 757.68 L 393.42 757.68 L 393.58 757.68 L 393.73 757.68 L 393.89 757.68 L 394.04 757.68 L 394.2 757.68 L 394.35 757.68 L 394.47 757.68 L 394.5 757.68 L 394.66 757.68 L 394.81 757.68 L 394.97 757.68 L 395.12 757.68 L 396.79 757.68 L 399.11 757.68 L 401.43 757.68 L 403.75 757.68 L 406.06 757.69 L 408.38 757.69 L 410.7 757.69 L 413.02 757.69 L 415.34 757.69 L 417.66 757.69 L 419.97 757.69 L 422.29 757.69 L 424.61 757.69 L 426.93 757.69 L 429.25 757.69 L 431.56 757.69 L 433.88 757.69 L 436.2 757.69 L 438.52 757.69 L 440.84 757.69 L 443.15 757.69 L 445.47 757.69 L 447.79 757.69 L 450.11 757.69 L 452.43 757.69 L 454.75 757.69 L 457.06 757.69 L 459.38 757.69 L 461.7 757.69 L 464.02 757.69 L 466.34 757.69 L 468.65 757.69 L 470.97 757.69 L 473.29 757.69 L 475.61 757.69 L 477.93 757.69 L 480.25 757.69 L 482.56 757.69 L 484.88 757.69 L 487.2 757.69 L 489.52 757.69 L 491.84 757.69 L 494.15 757.69 L 496.47 757.69 L 498.79 757.69 L 501.11 757.69 L 503.43 757.69 L 505.74 757.69 L 508.06 757.69 L 510.38 757.69 L 512.7 757.69 L 515.02 757.69 L 517.34 757.69 L 519.65 757.69 L 521.97 757.69 L 524.29 757.69 L 526.61 757.69 L 528.93 757.69 L 531.24 757.69 L 533.56 757.69 L 535.88 757.69 L 538.2 757.69 L 540.52 757.69 L 542.83 757.69 L 545.15 757.69 L 547.47 757.69 L 549.79 757.69 L 552.11 757.69 L 554.43 757.69 L 556.74 757.69 L 559.06 757.69 L 561.38 757.69 L 563.7 757.69 L 566.02 757.69 L 568.33 757.69" clip-path="url(#p94c4f2e22d)" style="fill: none; stroke: #bcbd22; stroke-width: 2; stroke-linecap: square"/>
</g>
<g id="patch_16">
<path d="M 81.29 769.93 L 81.29 494.06" style="fill: none; stroke: #000000; stroke-width: 0.8; stroke-linejoin: miter; stroke-linecap: square"/>
</g>
<g id="patch_17">
<path d="M 591.61 769.93 L 591.61 494.06" style="fill: none; stroke: #000000; stroke-width: 0.8; stroke-linejoin: miter; stroke-linecap: square"/>
</g>
<g id="patch_18">
<path d="M 81.29 769.93 L 591.61 769.93" style="fill: none; stroke: #000000; stroke-width: 0.8; stroke-linejoin: miter; stroke-linecap: square"/>
</g>
<g id="patch_19">
<path d="M 81.29 494.06 L 591.61 494.06" style="fill: none; stroke: #000000; stroke-width: 0.8; stroke-linejoin: miter; stroke-linecap: square"/>
</g>
<g id="text_84">
<text style="font-weight: 700; font-size: 22px; font-family: 'Liberation Serif', serif; text-anchor: start" x="91.5" y="488.538462">(c)</text>
</g>
<g id="text_85">
<text style="font-size: 21.6px; font-family: 'Liberation Serif', serif; text-anchor: middle" x="336.451049" y="488.055944">XRD Profiles at Selected Knots</text>
</g>
<g id="legend_4">
<g id="patch_20">
<path d="M 171.35 854.01 L 501.73 854.01 Q 503.53 854.01 503.53 852.21 L 503.53 827.67 Q 503.53 825.87 501.73 825.87 L 171.35 825.87 Q 169.55 825.87 169.55 827.67 L 169.55 852.21 Q 169.55 854.01 171.35 854.01 z" style="fill: #ffffff; opacity: 0.8; stroke: #cccccc; stroke-linejoin: miter"/>
</g>
<g id="line2d_63">
<path d="M 173.15 832.62 L 182.15 832.62 L 191.15 832.62" style="fill: none; stroke: #1f77b4; stroke-width: 2; stroke-linecap: square"/>
</g>
<g id="text_86">
<text style="font-size: 9px; font-family: 'Liberation Serif', serif; text-anchor: start" x="198.34979" y="835.774126">Point 1</text>
</g>
<g id="line2d_64">
<path d="M 173.15 845.34 L 182.15 845.34 L 191.15 845.34" style="fill: none; stroke: #ff7f0e; stroke-width: 2; stroke-linecap: square"/>
</g>
<g id="text_87">
<text style="font-size: 9px; font-family: 'Liberation Serif', serif; text-anchor: start" x="198.34979" y="848.490845">Point 2</text>
</g>
<g id="line2d_65">
<path d="M 242.11 832.62 L 251.11 832.62 L 260.11 832.62" style="fill: none; stroke: #2ca02c; stroke-width: 2; stroke-linecap: square"/>
</g>
<g id="text_88">
<text style="font-size: 9px; font-family: 'Liberation Serif', serif; text-anchor: start" x="267.305258" y="835.774126">Point 3</text>
</g>
<g id="line2d_66">
<path d="M 242.11 845.34 L 251.11 845.34 L 260.11 845.34" style="fill: none; stroke: #d62728; stroke-width: 2; stroke-linecap: square"/>
</g>
<g id="text_89">
<text style="font-size: 9px; font-family: 'Liberation Serif', serif; text-anchor: start" x="267.305258" y="848.490845">Point 4</text>
</g>
<g id="line2d_67">
<path d="M 311.06 832.62 L 320.06 832.62 L 329.06 832.62" style="fill: none; stroke: #9467bd; stroke-width: 2; stroke-linecap: square"/>
</g>
<g id="text_90">
<text style="font-size: 9px; font-family: 'Liberation Serif', serif; text-anchor: start" x="336.260727" y="835.774126">Point 5</text>
</g>
<g id="line2d_68">
<path d="M 311.06 845.34 L 320.06 845.34 L 329.06 845.34" style="fill: none; stroke: #8c564b; stroke-width: 2; stroke-linecap: square"/>
</g>
<g id="text_91">
<text style="font-size: 9px; font-family: 'Liberation Serif', serif; text-anchor: start" x="336.260727" y="848.490845">Point 6</text>
</g>
<g id="line2d_69">
<path d="M 380.02 832.62 L 389.02 832.62 L 398.02 832.62" style="fill: none; stroke: #e377c2; stroke-width: 2; stroke-linecap: square"/>
</g>
<g id="text_92">
<text style="font-size: 9px; font-family: 'Liberation Serif', serif; text-anchor: start" x="405.216196" y="835.774126">Point 7</text>
</g>
<g id="line2d_70">
<path d="M 380.02 845.34 L 389.02 845.34 L 398.02 845.34" style="fill: none; stroke: #7f7f7f; stroke-width: 2; stroke-linecap: square"/>
</g>
<g id="text_93">
<text style="font-size: 9px; font-family: 'Liberation Serif', serif; text-anchor: start" x="405.216196" y="848.490845">Point 8</text>
</g>
<g id="line2d_71">
<path d="M 448.97 832.62 L 457.97 832.62 L 466.97 832.62" style="fill: none; stroke: #bcbd22; stroke-width: 2; stroke-linecap: square"/>
</g>
<g id="text_94">
<text style="font-size: 9px; font-family: 'Liberation Serif', serif; text-anchor: start" x="474.171665" y="835.774126">Point 9</text>
</g>
</g>
</g>
<g id="axes_5">
<g id="patch_21">
<path d="M 677.62 769.93 L 1187.76 769.93 L 1187.76 494.06 L 677.62 494.06 z" style="fill: #ffffff"/>
</g>
<g id="matplotlib.axis_8">
<g id="xtick_25">
<g id="line2d_72">
<g>
<path d="M 0 0 L 0 3.5" transform="translate(721.86 769.93)" style="stroke: #000000; stroke-width: 0.8"/>
</g>
</g>
<g id="text_95">
<text style="font-size: 18px; font-family: 'Liberation Serif', serif; text-anchor: middle" x="721.862646" y="789.420382">-20</text>
</g>
</g>
<g id="xtick_26">
<g id="line2d_73">
<g>
<path d="M 0 0 L 0 3.5" transform="translate(813.65 769.93)" style="stroke: #000000; stroke-width: 0.8"/>
</g>
</g>
<g id="text_96">
<text style="font-size: 18px; font-family: 'Liberation Serif', serif; text-anchor: middle" x="813.647436" y="789.420382">-10</text>
</g>
</g>
<g id="xtick_27">
<g id="line2d_74">
<g>
<path d="M 0 0 L 0 3.5" transform="translate(905.43 769.93)" style="stroke: #000000; stroke-width: 0.8"/>
</g>
</g>
<g id="text_97">
<text style="font-size: 18px; font-family: 'Liberation Serif', serif; text-anchor: middle" x="905.432225" y="789.420382">0</text>
</g>
</g>
<g id="xtick_28">
<g id="line2d_75">
<g>
<path d="M 0 0 L 0 3.5" transform="translate(997.22 769.93)" style="stroke: #000000; stroke-width: 0.8"/>
</g>
</g>
<g id="text_98">
<text style="font-size: 18px; font-family: 'Liberation Serif', serif; text-anchor: middle" x="997.217015" y="789.420382">10</text>
</g>
</g>
<g id="xtick_29">
<g id="line2d_76">
<g>
<path d="M 0 0 L 0 3.5" transform="translate(1089 769.93)" style="stroke: #000000; stroke-width: 0.8"/>
</g>
</g>
<g id="text_99">
<text style="font-size: 18px; font-family: 'Liberation Serif', serif; text-anchor: middle" x="1089.001804" y="789.420382">20</text>
</g>
</g>
<g id="xtick_30">
<g id="line2d_77">
<g>
<path d="M 0 0 L 0 3.5" transform="translate(1180.79 769.93)" style="stroke: #000000; stroke-width: 0.8"/>
</g>
</g>
<g id="text_100">
<text style="font-size: 18px; font-family: 'Liberation Serif', serif; text-anchor: middle" x="1180.786594" y="789.420382">30</text>
</g>
</g>
<g id="text_101">
<text style="font-size: 18px; font-family: 'Liberation Serif', serif; text-anchor: middle" x="932.692308" y="809.744132">UMAP_1</text>
</g>
</g>
<g id="matplotlib.axis_9">
<g id="ytick_20">
<g id="line2d_78">
<g>
<path d="M 0 0 L -3.5 0" transform="translate(677.62 769.93)" style="stroke: #000000; stroke-width: 0.8"/>
</g>
</g>
<g id="text_102">
<text style="font-size: 18px; font-family: 'Liberation Serif', serif; text-anchor: end" x="670.622378" y="776.175226">-20</text>
</g>
</g>
<g id="ytick_21">
<g id="line2d_79">
<g>
<path d="M 0 0 L -3.5 0" transform="translate(677.62 729.93)" style="stroke: #000000; stroke-width: 0.8"/>
</g>
</g>
<g id="text_103">
<text style="font-size: 18px; font-family: 'Liberation Serif', serif; text-anchor: end" x="670.622378" y="736.170278">-10</text>
</g>
</g>
<g id="ytick_22">
<g id="line2d_80">
<g>
<path d="M 0 0 L -3.5 0" transform="translate(677.62 689.92)" style="stroke: #000000; stroke-width: 0.8"/>
</g>
</g>
<g id="text_104">
<text style="font-size: 18px; font-family: 'Liberation Serif', serif; text-anchor: end" x="670.622378" y="696.165329">0</text>
</g>
</g>
<g id="ytick_23">
<g id="line2d_81">
<g>
<path d="M 0 0 L -3.5 0" transform="translate(677.62 649.92)" style="stroke: #000000; stroke-width: 0.8"/>
</g>
</g>
<g id="text_105">
<text style="font-size: 18px; font-family: 'Liberation Serif', serif; text-anchor: end" x="670.622378" y="656.16038">10</text>
</g>
</g>
<g id="ytick_24">
<g id="line2d_82">
<g>
<path d="M 0 0 L -3.5 0" transform="translate(677.62 609.91)" style="stroke: #000000; stroke-width: 0.8"/>
</g>
</g>
<g id="text_106">
<text style="font-size: 18px; font-family: 'Liberation Serif', serif; text-anchor: end" x="670.622378" y="616.155432">20</text>
</g>
</g>
<g id="ytick_25">
<g id="line2d_83">
<g>
<path d="M 0 0 L -3.5 0" transform="translate(677.62 569.91)" style="stroke: #000000; stroke-width: 0.8"/>
</g>
</g>
<g id="text_107">
<text style="font-size: 18px; font-family: 'Liberation Serif', serif; text-anchor: end" x="670.622378" y="576.150483">30</text>
</g>
</g>
<g id="ytick_26">
<g id="line2d_84">
<g>
<path d="M 0 0 L -3.5 0" transform="translate(677.62 529.9)" style="stroke: #000000; stroke-width: 0.8"/>
</g>
</g>
<g id="text_108">
<text style="font-size: 18px; font-family: 'Liberation Serif', serif; text-anchor: end" x="670.622378" y="536.145534">40</text>
</g>
</g>
<g id="text_109">
<text style="font-size: 18px; font-family: 'Liberation Serif', serif; text-anchor: middle" x="638.795503" y="631.993007" transform="rotate(-90 638.795503 631.993007)">UMAP_2</text>
</g>
</g>
<g id="line2d_85">
<path d="M 700.97 548.04 L 703.58 548.95 L 706.32 549.65 L 709.19 550.15 L 712.17 550.48 L 715.24 550.68 L 718.4 550.76 L 721.63 550.74 L 724.92 550.66 L 728.27 550.53 L 731.64 550.39 L 735.04 550.26 L 738.45 550.16 L 741.86 550.11 L 745.26 550.15 L 748.62 550.3 L 751.95 550.57 L 755.23 551.01 L 758.45 551.62 L 761.59 552.45 L 764.64 553.5 L 767.59 554.81 L 770.41 556.36 L 773.09 558.13 L 775.59 560.09 L 777.89 562.23 L 779.97 564.52 L 781.79 566.94 L 783.34 569.46 L 784.58 572.06 L 785.5 574.73 L 786.06 577.42 L 786.24 580.13 L 786.01 582.83 L 785.4 585.52 L 784.44 588.19 L 783.18 590.85 L 781.67 593.51 L 779.94 596.18 L 778.06 598.85 L 776.06 601.54 L 773.99 604.26 L 771.9 607 L 769.83 609.77 L 767.83 612.58 L 765.95 615.43 L 764.22 618.34 L 762.71 621.29 L 761.42 624.31 L 760.37 627.37 L 759.53 630.48 L 758.89 633.62 L 758.46 636.79 L 758.21 639.98 L 758.13 643.19 L 758.22 646.4 L 758.47 649.6 L 758.86 652.81 L 759.38 655.99 L 760.03 659.15 L 760.8 662.28 L 761.66 665.38 L 762.63 668.43 L 763.67 671.43 L 764.8 674.38 L 766.01 677.28 L 767.31 680.13 L 768.68 682.93 L 770.13 685.68 L 771.65 688.37 L 773.25 691.02 L 774.92 693.61 L 776.66 696.16 L 778.47 698.65 L 780.35 701.1 L 782.3 703.49 L 784.31 705.83 L 786.38 708.12 L 788.52 710.36 L 790.71 712.55 L 792.97 714.68 L 795.28 716.77 L 797.64 718.8 L 800.06 720.78 L 802.54 722.71 L 805.06 724.59 L 807.63 726.42 L 810.25 728.2 L 812.92 729.92 L 815.63 731.6 L 818.38 733.22 L 821.18 734.79 L 824.01 736.3 L 826.88 737.77 L 829.79 739.18 L 832.74 740.54 L 835.71 741.85 L 838.72 743.11 L 841.76 744.32 L 844.83 745.47 L 847.93 746.57 L 851.05 747.62 L 854.19 748.61 L 857.36 749.56 L 860.55 750.45 L 863.76 751.29 L 866.99 752.07 L 870.23 752.81 L 873.49 753.49 L 876.76 754.11 L 880.04 754.69 L 883.33 755.21 L 886.63 755.68 L 889.94 756.1 L 893.26 756.46 L 896.57 756.77 L 899.89 757.03 L 903.21 757.23 L 906.53 757.38 L 909.83 757.46 L 913.11 757.47 L 916.37 757.4 L 919.59 757.25 L 922.77 757 L 925.89 756.64 L 928.95 756.18 L 931.95 755.61 L 934.87 754.91 L 937.71 754.07 L 940.45 753.1 L 943.1 751.98 L 945.64 750.71 L 948.06 749.28 L 950.36 747.68 L 952.53 745.9 L 954.56 743.94 L 956.45 741.79 L 958.18 739.44 L 959.74 736.89 L 961.13 734.12 L 962.35 731.14 L 963.35 727.98 L 964.13 724.69 L 964.65 721.29 L 964.88 717.83 L 964.82 714.34 L 964.41 710.87 L 963.66 707.46 L 962.52 704.13 L 960.97 700.94" clip-path="url(#p0fb7670fa0)" style="fill: none; stroke: #000000; stroke-width: 3.1; stroke-linecap: square"/>
</g>
<g id="line2d_86">
<path d="M 1020.24 608.45 L 1020.92 608.43 L 1021.6 608.42 L 1022.29 608.41 L 1022.97 608.4 L 1023.65 608.4 L 1024.34 608.4 L 1025.02 608.4 L 1025.7 608.41 L 1026.39 608.41 L 1027.07 608.43 L 1027.75 608.44 L 1028.43 608.46 L 1029.11 608.48 L 1029.79 608.5 L 1030.48 608.53 L 1031.16 608.56 L 1031.84 608.59 L 1032.52 608.63 L 1033.2 608.67 L 1033.88 608.71 L 1034.55 608.75 L 1035.23 608.8 L 1035.91 608.85 L 1036.59 608.91 L 1037.27 608.96 L 1037.94 609.02 L 1038.62 609.09 L 1039.29 609.16 L 1039.97 609.22 L 1040.64 609.3 L 1041.32 609.37 L 1041.99 609.45 L 1042.67 609.54 L 1043.34 609.62 L 1044.01 609.71 L 1044.68 609.8 L 1045.35 609.89 L 1046.02 609.99 L 1046.69 610.09 L 1047.36 610.2 L 1048.03 610.3 L 1048.7 610.41 L 1049.36 610.53 L 1050.03 610.64 L 1050.7 610.76 L 1051.36 610.89 L 1052.03 611.01 L 1052.69 611.14 L 1053.35 611.27 L 1054.01 611.41 L 1054.68 611.54 L 1055.34 611.69 L 1056 611.83 L 1056.65 611.98 L 1057.31 612.13 L 1057.97 612.28 L 1058.63 612.44 L 1059.28 612.6 L 1059.94 612.76 L 1060.59 612.93 L 1061.24 613.1 L 1061.9 613.27 L 1062.55 613.44 L 1063.2 613.62 L 1063.85 613.81 L 1064.49 613.99 L 1065.14 614.18 L 1065.79 614.37 L 1066.43 614.56 L 1067.08 614.76 L 1067.72 614.96 L 1068.36 615.17 L 1069 615.37 L 1069.64 615.58 L 1070.28 615.8 L 1070.92 616.01 L 1071.56 616.23 L 1072.19 616.45 L 1072.83 616.68 L 1073.46 616.91 L 1074.09 617.14 L 1074.72 617.38 L 1075.35 617.61 L 1075.98 617.86 L 1076.61 618.1 L 1077.24 618.35 L 1077.86 618.6 L 1078.49 618.85 L 1079.11 619.11 L 1079.73 619.37 L 1080.35 619.63 L 1080.97 619.9 L 1081.59 620.17 L 1082.2 620.44 L 1082.82 620.72 L 1083.43 621 L 1084.04 621.28 L 1084.65 621.57 L 1085.26 621.86 L 1085.87 622.15 L 1086.48 622.44 L 1087.08 622.74 L 1087.68 623.04 L 1088.29 623.35 L 1088.89 623.66 L 1089.49 623.97 L 1090.08 624.28 L 1090.68 624.6 L 1091.28 624.92 L 1091.87 625.24 L 1092.46 625.57 L 1093.05 625.9 L 1093.64 626.23 L 1094.23 626.57 L 1094.81 626.91 L 1095.39 627.25 L 1095.98 627.6 L 1096.56 627.95 L 1097.14 628.3 L 1097.71 628.66 L 1098.29 629.02 L 1098.86 629.38 L 1099.43 629.74 L 1100.01 630.11 L 1100.57 630.48 L 1101.14 630.86 L 1101.71 631.24 L 1102.27 631.62 L 1102.83 632 L 1103.39 632.39 L 1103.95 632.78 L 1104.51 633.18 L 1105.06 633.57 L 1105.61 633.97 L 1106.16 634.38 L 1106.71 634.78 L 1107.26 635.19 L 1107.81 635.61 L 1108.35 636.02 L 1108.89 636.44 L 1109.43 636.87 L 1109.97 637.29 L 1110.5 637.72 L 1111.04 638.15 L 1111.57 638.59 L 1112.1 639.03 L 1112.63 639.47 L 1113.15 639.92 L 1113.67 640.37" clip-path="url(#p0fb7670fa0)" style="fill: none; stroke: #000000; stroke-width: 3.1; stroke-linecap: square"/>
</g>
<g id="line2d_87">
<path d="M 1059.81 565.52 L 1060.51 565.12 L 1061.21 564.73 L 1061.91 564.32 L 1062.61 563.92 L 1063.31 563.51 L 1064.01 563.1 L 1064.7 562.69 L 1065.39 562.28 L 1066.09 561.86 L 1066.78 561.44 L 1067.47 561.02 L 1068.16 560.6 L 1068.85 560.17 L 1069.53 559.74 L 1070.22 559.31 L 1070.9 558.88 L 1071.59 558.45 L 1072.27 558.01 L 1072.95 557.58 L 1073.63 557.14 L 1074.32 556.7 L 1074.99 556.25 L 1075.67 555.81 L 1076.35 555.37 L 1077.03 554.92 L 1077.71 554.47 L 1078.38 554.02 L 1079.06 553.57 L 1079.73 553.12 L 1080.41 552.66 L 1081.08 552.21 L 1081.75 551.75 L 1082.43 551.3 L 1083.1 550.84 L 1083.77 550.38 L 1084.44 549.92 L 1085.11 549.46 L 1085.78 549 L 1086.46 548.54 L 1087.13 548.08 L 1087.8 547.61 L 1088.46 547.15 L 1089.13 546.69 L 1089.8 546.22 L 1090.47 545.76 L 1091.14 545.29 L 1091.81 544.83 L 1092.48 544.36 L 1093.15 543.9 L 1093.82 543.43 L 1094.49 542.97 L 1095.15 542.5 L 1095.82 542.04 L 1096.49 541.57 L 1097.16 541.11 L 1097.83 540.65 L 1098.5 540.18 L 1099.17 539.72 L 1099.84 539.26 L 1100.51 538.79 L 1101.18 538.33 L 1101.85 537.87 L 1102.52 537.41 L 1103.2 536.95 L 1103.87 536.49 L 1104.54 536.03 L 1105.21 535.58 L 1105.89 535.12 L 1106.56 534.66 L 1107.24 534.21 L 1107.91 533.76 L 1108.59 533.31 L 1109.26 532.86 L 1109.94 532.41 L 1110.62 531.96 L 1111.3 531.51 L 1111.98 531.07 L 1112.66 530.62 L 1113.34 530.18 L 1114.02 529.74 L 1114.7 529.3 L 1115.39 528.87 L 1116.07 528.43 L 1116.76 528 L 1117.44 527.57 L 1118.13 527.14 L 1118.82 526.71 L 1119.51 526.29 L 1120.2 525.87 L 1120.89 525.45 L 1121.59 525.03 L 1122.28 524.61 L 1122.98 524.2 L 1123.67 523.79 L 1124.37 523.38 L 1125.07 522.98 L 1125.77 522.57 L 1126.47 522.17 L 1127.18 521.77 L 1127.88 521.38 L 1128.59 520.99 L 1129.29 520.6 L 1130 520.21 L 1130.71 519.83 L 1131.43 519.45 L 1132.14 519.07 L 1132.86 518.7 L 1133.57 518.33 L 1134.29 517.96 L 1135.01 517.6 L 1135.74 517.24 L 1136.46 516.88 L 1137.19 516.53 L 1137.91 516.18 L 1138.64 515.83 L 1139.37 515.49 L 1140.11 515.15 L 1140.84 514.82 L 1141.58 514.49 L 1142.32 514.16 L 1143.06 513.84 L 1143.8 513.52 L 1144.55 513.21 L 1145.3 512.9 L 1146.05 512.59 L 1146.8 512.29 L 1147.55 511.99 L 1148.31 511.7 L 1149.07 511.41 L 1149.83 511.13 L 1150.59 510.85 L 1151.36 510.57 L 1152.12 510.3 L 1152.89 510.04 L 1153.67 509.77 L 1154.44 509.52 L 1155.22 509.27 L 1156 509.02 L 1156.78 508.78 L 1157.57 508.54 L 1158.35 508.31 L 1159.14 508.09 L 1159.94 507.87 L 1160.73 507.65 L 1161.53 507.44 L 1162.33 507.24 L 1163.14 507.04 L 1163.94 506.85 L 1164.75 506.66" clip-path="url(#p0fb7670fa0)" style="fill: none; stroke: #000000; stroke-width: 3.1; stroke-linecap: square"/>
</g>
<g id="patch_22">
<path d="M 677.62 769.93 L 677.62 494.06" style="fill: none; stroke: #000000; stroke-width: 0.8; stroke-linejoin: miter; stroke-linecap: square"/>
</g>
<g id="patch_23">
<path d="M 1187.76 769.93 L 1187.76 494.06" style="fill: none; stroke: #000000; stroke-width: 0.8; stroke-linejoin: miter; stroke-linecap: square"/>
</g>
<g id="patch_24">
<path d="M 677.62 769.93 L 1187.76 769.93" style="fill: none; stroke: #000000; stroke-width: 0.8; stroke-linejoin: miter; stroke-linecap: square"/>
</g>
<g id="patch_25">
<path d="M 677.62 494.06 L 1187.76 494.06" style="fill: none; stroke: #000000; stroke-width: 0.8; stroke-linejoin: miter; stroke-linecap: square"/>
</g>
<g id="PathCollection_55">
<g clip-path="url(#p0fb7670fa0)">
<path d="M 0 4.03 C 1.07 4.03 2.09 3.61 2.85 2.85 C 3.61 2.09 4.03 1.07 4.03 0 C 4.03 -1.07 3.61 -2.09 2.85 -2.85 C 2.09 -3.61 1.07 -4.03 0 -4.03 C -1.07 -4.03 -2.09 -3.61 -2.85 -2.85 C -3.61 -2.09 -4.03 -1.07 -4.03 0 C -4.03 1.07 -3.61 2.09 -2.85 2.85 C -2.09 3.61 -1.07 4.03 0 4.03 z" transform="translate(1113.83 640.04)" style="fill: #1f77b4; stroke: #1f77b4"/>
</g>
</g>
<g id="PathCollection_56">
<g clip-path="url(#p0fb7670fa0)">
<path d="M 0 4.03 C 1.07 4.03 2.09 3.61 2.85 2.85 C 3.61 2.09 4.03 1.07 4.03 0 C 4.03 -1.07 3.61 -2.09 2.85 -2.85 C 2.09 -3.61 1.07 -4.03 0 -4.03 C -1.07 -4.03 -2.09 -3.61 -2.85 -2.85 C -3.61 -2.09 -4.03 -1.07 -4.03 0 C -4.03 1.07 -3.61 2.09 -2.85 2.85 C -2.09 3.61 -1.07 4.03 0 4.03 z" transform="translate(1034.28 609.1)" style="fill: #ff7f0e; stroke: #ff7f0e"/>
</g>
</g>
<g id="PathCollection_57">
<g clip-path="url(#p0fb7670fa0)">
<path d="M 0 4.03 C 1.07 4.03 2.09 3.61 2.85 2.85 C 3.61 2.09 4.03 1.07 4.03 0 C 4.03 -1.07 3.61 -2.09 2.85 -2.85 C 2.09 -3.61 1.07 -4.03 0 -4.03 C -1.07 -4.03 -2.09 -3.61 -2.85 -2.85 C -3.61 -2.09 -4.03 -1.07 -4.03 0 C -4.03 1.07 -3.61 2.09 -2.85 2.85 C -2.09 3.61 -1.07 4.03 0 4.03 z" transform="translate(1118.37 527.46)" style="fill: #2ca02c; stroke: #2ca02c"/>
</g>
</g>
<g id="PathCollection_58">
<g clip-path="url(#p0fb7670fa0)">
<path d="M 0 4.03 C 1.07 4.03 2.09 3.61 2.85 2.85 C 3.61 2.09 4.03 1.07 4.03 0 C 4.03 -1.07 3.61 -2.09 2.85 -2.85 C 2.09 -3.61 1.07 -4.03 0 -4.03 C -1.07 -4.03 -2.09 -3.61 -2.85 -2.85 C -3.61 -2.09 -4.03 -1.07 -4.03 0 C -4.03 1.07 -3.61 2.09 -2.85 2.85 C -2.09 3.61 -1.07 4.03 0 4.03 z" transform="translate(964.7 719.24)" style="fill: #d62728; stroke: #d62728"/>
</g>
</g>
<g id="PathCollection_59">
<g clip-path="url(#p0fb7670fa0)">
<path d="M 0 4.03 C 1.07 4.03 2.09 3.61 2.85 2.85 C 3.61 2.09 4.03 1.07 4.03 0 C 4.03 -1.07 3.61 -2.09 2.85 -2.85 C 2.09 -3.61 1.07 -4.03 0 -4.03 C -1.07 -4.03 -2.09 -3.61 -2.85 -2.85 C -3.61 -2.09 -4.03 -1.07 -4.03 0 C -4.03 1.07 -3.61 2.09 -2.85 2.85 C -2.09 3.61 -1.07 4.03 0 4.03 z" transform="translate(900.36 756.65)" style="fill: #9467bd; stroke: #9467bd"/>
</g>
</g>
<g id="PathCollection_60">
<g clip-path="url(#p0fb7670fa0)">
<path d="M 0 4.03 C 1.07 4.03 2.09 3.61 2.85 2.85 C 3.61 2.09 4.03 1.07 4.03 0 C 4.03 -1.07 3.61 -2.09 2.85 -2.85 C 2.09 -3.61 1.07 -4.03 0 -4.03 C -1.07 -4.03 -2.09 -3.61 -2.85 -2.85 C -3.61 -2.09 -4.03 -1.07 -4.03 0 C -4.03 1.07 -3.61 2.09 -2.85 2.85 C -2.09 3.61 -1.07 4.03 0 4.03 z" transform="translate(788.12 711.72)" style="fill: #8c564b; stroke: #8c564b"/>
</g>
</g>
<g id="PathCollection_61">
<g clip-path="url(#p0fb7670fa0)">
<path d="M 0 4.03 C 1.07 4.03 2.09 3.61 2.85 2.85 C 3.61 2.09 4.03 1.07 4.03 0 C 4.03 -1.07 3.61 -2.09 2.85 -2.85 C 2.09 -3.61 1.07 -4.03 0 -4.03 C -1.07 -4.03 -2.09 -3.61 -2.85 -2.85 C -3.61 -2.09 -4.03 -1.07 -4.03 0 C -4.03 1.07 -3.61 2.09 -2.85 2.85 C -2.09 3.61 -1.07 4.03 0 4.03 z" transform="translate(759.1 637.77)" style="fill: #e377c2; stroke: #e377c2"/>
</g>
</g>
<g id="PathCollection_62">
<g clip-path="url(#p0fb7670fa0)">
<path d="M 0 4.03 C 1.07 4.03 2.09 3.61 2.85 2.85 C 3.61 2.09 4.03 1.07 4.03 0 C 4.03 -1.07 3.61 -2.09 2.85 -2.85 C 2.09 -3.61 1.07 -4.03 0 -4.03 C -1.07 -4.03 -2.09 -3.61 -2.85 -2.85 C -3.61 -2.09 -4.03 -1.07 -4.03 0 C -4.03 1.07 -3.61 2.09 -2.85 2.85 C -2.09 3.61 -1.07 4.03 0 4.03 z" transform="translate(785.33 570.81)" style="fill: #7f7f7f; stroke: #7f7f7f"/>
</g>
</g>
<g id="PathCollection_63">
<g clip-path="url(#p0fb7670fa0)">
<path d="M 0 4.03 C 1.07 4.03 2.09 3.61 2.85 2.85 C 3.61 2.09 4.03 1.07 4.03 0 C 4.03 -1.07 3.61 -2.09 2.85 -2.85 C 2.09 -3.61 1.07 -4.03 0 -4.03 C -1.07 -4.03 -2.09 -3.61 -2.85 -2.85 C -3.61 -2.09 -4.03 -1.07 -4.03 0 C -4.03 1.07 -3.61 2.09 -2.85 2.85 C -2.09 3.61 -1.07 4.03 0 4.03 z" transform="translate(700.36 548.09)" style="fill: #bcbd22; stroke: #bcbd22"/>
</g>
</g>
<g id="text_110">
<text style="font-weight: 700; font-size: 22px; font-family: 'Liberation Serif', serif; text-anchor: start" x="687.825175" y="488.538462">(d)</text>
</g>
<g id="text_111">
<text style="font-size: 21.6px; font-family: 'Liberation Serif', serif; text-anchor: middle" x="932.692308" y="488.055944">UMAP Visualization of XRD Profiles</text>
</g>
<g id="legend_5">
<g id="patch_26">
<path d="M 767.5 853.66 L 1097.88 853.66 Q 1099.68 853.66 1099.68 851.86 L 1099.68 827.32 Q 1099.68 825.52 1097.88 825.52 L 767.5 825.52 Q 765.7 825.52 765.7 827.32 L 765.7 851.86 Q 765.7 853.66 767.5 853.66 z" style="fill: #ffffff; opacity: 0.8; stroke: #cccccc; stroke-linejoin: miter"/>
</g>
<g id="PathCollection_64">
<g>
<path d="M 0 4.03 C 1.07 4.03 2.09 3.61 2.85 2.85 C 3.61 2.09 4.03 1.07 4.03 0 C 4.03 -1.07 3.61 -2.09 2.85 -2.85 C 2.09 -3.61 1.07 -4.03 0 -4.03 C -1.07 -4.03 -2.09 -3.61 -2.85 -2.85 C -3.61 -2.09 -4.03 -1.07 -4.03 0 C -4.03 1.07 -3.61 2.09 -2.85 2.85 C -2.09 3.61 -1.07 4.03 0 4.03 z" transform="translate(778.3 833.06)" style="fill: #1f77b4; stroke: #1f77b4"/>
</g>
</g>
<g id="text_112">
<text style="font-size: 9px; font-family: 'Liberation Serif', serif; text-anchor: start" x="794.503636" y="835.424476">Point 1</text>
</g>
<g id="PathCollection_65">
<g>
<path d="M 0 4.03 C 1.07 4.03 2.09 3.61 2.85 2.85 C 3.61 2.09 4.03 1.07 4.03 0 C 4.03 -1.07 3.61 -2.09 2.85 -2.85 C 2.09 -3.61 1.07 -4.03 0 -4.03 C -1.07 -4.03 -2.09 -3.61 -2.85 -2.85 C -3.61 -2.09 -4.03 -1.07 -4.03 0 C -4.03 1.07 -3.61 2.09 -2.85 2.85 C -2.09 3.61 -1.07 4.03 0 4.03 z" transform="translate(778.3 845.78)" style="fill: #ff7f0e; stroke: #ff7f0e"/>
</g>
</g>
<g id="text_113">
<text style="font-size: 9px; font-family: 'Liberation Serif', serif; text-anchor: start" x="794.503636" y="848.141194">Point 2</text>
</g>
<g id="PathCollection_66">
<g>
<path d="M 0 4.03 C 1.07 4.03 2.09 3.61 2.85 2.85 C 3.61 2.09 4.03 1.07 4.03 0 C 4.03 -1.07 3.61 -2.09 2.85 -2.85 C 2.09 -3.61 1.07 -4.03 0 -4.03 C -1.07 -4.03 -2.09 -3.61 -2.85 -2.85 C -3.61 -2.09 -4.03 -1.07 -4.03 0 C -4.03 1.07 -3.61 2.09 -2.85 2.85 C -2.09 3.61 -1.07 4.03 0 4.03 z" transform="translate(847.26 833.06)" style="fill: #2ca02c; stroke: #2ca02c"/>
</g>
</g>
<g id="text_114">
<text style="font-size: 9px; font-family: 'Liberation Serif', serif; text-anchor: start" x="863.459105" y="835.424476">Point 3</text>
</g>
<g id="PathCollection_67">
<g>
<path d="M 0 4.03 C 1.07 4.03 2.09 3.61 2.85 2.85 C 3.61 2.09 4.03 1.07 4.03 0 C 4.03 -1.07 3.61 -2.09 2.85 -2.85 C 2.09 -3.61 1.07 -4.03 0 -4.03 C -1.07 -4.03 -2.09 -3.61 -2.85 -2.85 C -3.61 -2.09 -4.03 -1.07 -4.03 0 C -4.03 1.07 -3.61 2.09 -2.85 2.85 C -2.09 3.61 -1.07 4.03 0 4.03 z" transform="translate(847.26 845.78)" style="fill: #d62728; stroke: #d62728"/>
</g>
</g>
<g id="text_115">
<text style="font-size: 9px; font-family: 'Liberation Serif', serif; text-anchor: start" x="863.459105" y="848.141194">Point 4</text>
</g>
<g id="PathCollection_68">
<g>
<path d="M 0 4.03 C 1.07 4.03 2.09 3.61 2.85 2.85 C 3.61 2.09 4.03 1.07 4.03 0 C 4.03 -1.07 3.61 -2.09 2.85 -2.85 C 2.09 -3.61 1.07 -4.03 0 -4.03 C -1.07 -4.03 -2.09 -3.61 -2.85 -2.85 C -3.61 -2.09 -4.03 -1.07 -4.03 0 C -4.03 1.07 -3.61 2.09 -2.85 2.85 C -2.09 3.61 -1.07 4.03 0 4.03 z" transform="translate(916.21 833.06)" style="fill: #9467bd; stroke: #9467bd"/>
</g>
</g>
<g id="text_116">
<text style="font-size: 9px; font-family: 'Liberation Serif', serif; text-anchor: start" x="932.414573" y="835.424476">Point 5</text>
</g>
<g id="PathCollection_69">
<g>
<path d="M 0 4.03 C 1.07 4.03 2.09 3.61 2.85 2.85 C 3.61 2.09 4.03 1.07 4.03 0 C 4.03 -1.07 3.61 -2.09 2.85 -2.85 C 2.09 -3.61 1.07 -4.03 0 -4.03 C -1.07 -4.03 -2.09 -3.61 -2.85 -2.85 C -3.61 -2.09 -4.03 -1.07 -4.03 0 C -4.03 1.07 -3.61 2.09 -2.85 2.85 C -2.09 3.61 -1.07 4.03 0 4.03 z" transform="translate(916.21 845.78)" style="fill: #8c564b; stroke: #8c564b"/>
</g>
</g>
<g id="text_117">
<text style="font-size: 9px; font-family: 'Liberation Serif', serif; text-anchor: start" x="932.414573" y="848.141194">Point 6</text>
</g>
<g id="PathCollection_70">
<g>
<path d="M 0 4.03 C 1.07 4.03 2.09 3.61 2.85 2.85 C 3.61 2.09 4.03 1.07 4.03 0 C 4.03 -1.07 3.61 -2.09 2.85 -2.85 C 2.09 -3.61 1.07 -4.03 0 -4.03 C -1.07 -4.03 -2.09 -3.61 -2.85 -2.85 C -3.61 -2.09 -4.03 -1.07 -4.03 0 C -4.03 1.07 -3.61 2.09 -2.85 2.85 C -2.09 3.61 -1.07 4.03 0 4.03 z" transform="translate(985.17 833.06)" style="fill: #e377c2; stroke: #e377c2"/>
</g>
</g>
<g id="text_118">
<text style="font-size: 9px; font-family: 'Liberation Serif', serif; text-anchor: start" x="1001.370042" y="835.424476">Point 7</text>
</g>
<g id="PathCollection_71">
<g>
<path d="M 0 4.03 C 1.07 4.03 2.09 3.61 2.85 2.85 C 3.61 2.09 4.03 1.07 4.03 0 C 4.03 -1.07 3.61 -2.09 2.85 -2.85 C 2.09 -3.61 1.07 -4.03 0 -4.03 C -1.07 -4.03 -2.09 -3.61 -2.85 -2.85 C -3.61 -2.09 -4.03 -1.07 -4.03 0 C -4.03 1.07 -3.61 2.09 -2.85 2.85 C -2.09 3.61 -1.07 4.03 0 4.03 z" transform="translate(985.17 845.78)" style="fill: #7f7f7f; stroke: #7f7f7f"/>
</g>
</g>
<g id="text_119">
<text style="font-size: 9px; font-family: 'Liberation Serif', serif; text-anchor: start" x="1001.370042" y="848.141194">Point 8</text>
</g>
<g id="PathCollection_72">
<g>
<path d="M 0 4.03 C 1.07 4.03 2.09 3.61 2.85 2.85 C 3.61 2.09 4.03 1.07 4.03 0 C 4.03 -1.07 3.61 -2.09 2.85 -2.85 C 2.09 -3.61 1.07 -4.03 0 -4.03 C -1.07 -4.03 -2.09 -3.61 -2.85 -2.85 C -3.61 -2.09 -4.03 -1.07 -4.03 0 C -4.03 1.07 -3.61 2.09 -2.85 2.85 C -2.09 3.61 -1.07 4.03 0 4.03 z" transform="translate(1054.13 833.06)" style="fill: #bcbd22; stroke: #bcbd22"/>
</g>
</g>
<g id="text_120">
<text style="font-size: 9px; font-family: 'Liberation Serif', serif; text-anchor: start" x="1070.325511" y="835.424476">Point 9</text>
</g>
</g>
</g>
</g>
<defs>
<clipPath id="p4cad505ffa">
<rect x="81.468531" y="22.027972" width="510.13986" height="275.874126"/>
</clipPath>
<clipPath id="p308d102372">
<rect x="677.622378" y="22.027972" width="510.13986" height="275.874126"/>
</clipPath>
<clipPath id="p0f705df660">
<rect x="677.622378" y="22.027972" width="510.13986" height="275.874126"/>
</clipPath>
<clipPath id="p94c4f2e22d">
<rect x="81.293706" y="494.055944" width="510.314685" height="275.874126"/>
</clipPath>
<clipPath id="p0fb7670fa0">
<rect x="677.622378" y="494.055944" width="510.13986" height="275.874126"/>
</clipPath>
</defs>
</svg>

</body></html>
